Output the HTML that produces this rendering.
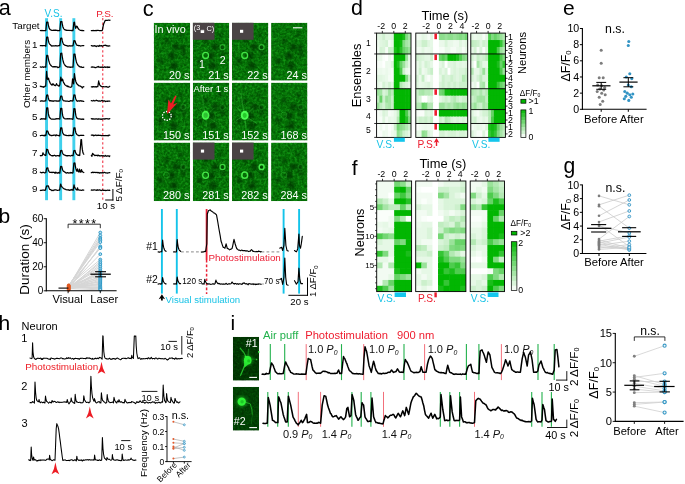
<!DOCTYPE html>
<html><head><meta charset="utf-8"><title>Figure</title>
<style>html,body{margin:0;padding:0;background:#fff;overflow:hidden}svg{display:block;will-change:transform;transform:translateZ(0)}text{font-family:"Liberation Sans", sans-serif;}</style>
</head><body>
<svg width="685" height="484" viewBox="0 0 685 484">
<rect width="685" height="484" fill="#fff"/>
<text x="-1.20" y="15.30" font-size="21.6" fill="#000" text-anchor="start">a</text>
<rect x="45.10" y="18.20" width="2.90" height="182.00" fill="#3fd0ec"/>
<rect x="59.20" y="18.20" width="2.90" height="182.00" fill="#3fd0ec"/>
<rect x="72.40" y="18.20" width="2.90" height="182.00" fill="#3fd0ec"/>
<text x="44.60" y="17.00" font-size="10.0" fill="#19c3e6" text-anchor="start">V.S.</text>
<text x="96.20" y="17.00" font-size="9.9" fill="#ec1c2e" text-anchor="start">P.S.</text>
<line x1="102.70" y1="18.00" x2="102.70" y2="200.00" stroke="#f3606e" stroke-width="1.4" stroke-dasharray="2.3 2.3"/>
<text x="39.60" y="29.00" font-size="9.8" fill="#000" text-anchor="end">Target</text>
<text x="27.80" y="74.00" font-size="9.8" fill="#000" text-anchor="middle" transform="rotate(-90 27.80 74.00)" dominant-baseline="middle">Other members</text>
<path d="M40.30 30.51 L40.80 30.66 L41.30 30.47 L41.80 30.60 L42.30 30.52 L42.80 30.48 L43.30 30.72 L43.80 30.63 L44.30 30.56 L44.80 30.62 L45.30 30.69 L45.80 30.59 L46.30 25.94 L46.70 22.18 L46.80 22.17 L47.30 22.16 L47.80 22.12 L47.90 22.09 L48.30 24.80 L48.80 27.05 L49.30 28.41 L49.80 29.22 L50.30 29.71 L50.80 29.86 L51.30 30.12 L51.80 30.31 L52.30 30.48 L52.80 30.38 L53.30 30.38 L53.80 30.20 L54.30 30.29 L54.80 30.13 L55.30 30.14 L55.80 30.45 L56.30 30.21 L56.80 30.45 L57.30 30.52 L57.80 30.47 L58.30 30.54 L58.80 30.58 L59.30 30.67 L59.80 30.56 L60.30 25.54 L60.70 21.56 L60.80 21.53 L61.30 21.56 L61.80 21.54 L61.90 21.62 L62.30 24.24 L62.80 26.48 L63.30 27.92 L63.80 28.77 L64.30 29.51 L64.80 29.60 L65.30 29.93 L65.80 30.10 L66.30 30.46 L66.80 30.22 L67.30 30.48 L67.80 30.39 L68.30 30.42 L68.80 30.38 L69.30 30.51 L69.80 30.37 L70.30 30.42 L70.80 30.50 L71.30 30.72 L71.80 30.32 L72.30 30.59 L72.80 30.66 L73.00 30.52 L73.30 27.75 L73.80 23.11 L73.90 22.27 L74.30 22.25 L74.50 22.21 L74.80 24.55 L75.30 27.08 L75.70 28.30 L75.80 28.07 L76.30 26.90 L76.50 26.15 L76.80 26.26 L77.30 26.62 L77.80 27.91 L78.30 28.79 L78.80 29.34 L79.30 29.69 L79.80 30.00 L80.30 30.28 L80.80 30.27 L81.30 30.30 L81.80 30.60 L82.30 30.60 L82.80 30.42 L83.30 30.73 L83.80 30.70" fill="none" stroke="#000" stroke-width="1.25" stroke-linejoin="round" stroke-linecap="round"/>
<path d="M91.30 30.50 L91.91 30.50 L92.52 30.55 L93.13 30.45 L93.74 30.54 L94.36 30.59 L94.97 30.54 L95.58 30.66 L96.19 30.41 L96.80 30.51 L97.41 30.43 L98.02 30.42 L98.63 30.48 L99.24 30.52 L99.86 30.54 L100.47 30.55 L101.08 30.72 L101.69 30.59 L102.30 30.50 L102.95 27.09 L103.60 24.00 L104.40 22.22 L105.20 20.40 L105.89 20.31 L106.57 20.29 L107.26 20.44 L107.94 20.26 L108.63 20.06 L109.31 20.26 L110.00 20.20" fill="none" stroke="#000" stroke-width="1.25" stroke-linejoin="round" stroke-linecap="round"/>
<text x="37.40" y="47.90" font-size="9.8" fill="#000" text-anchor="end">1</text>
<path d="M40.30 45.63 L40.80 45.63 L41.30 45.61 L41.80 45.65 L42.30 45.85 L42.80 45.52 L43.30 45.60 L43.80 45.61 L44.30 45.55 L44.80 45.65 L45.30 45.73 L45.80 46.21 L46.30 41.07 L46.70 37.15 L46.80 37.19 L47.30 37.07 L47.80 37.04 L48.30 40.29 L48.80 42.26 L49.30 43.49 L49.80 44.30 L50.30 44.55 L50.80 45.26 L51.30 45.68 L51.80 46.17 L52.30 45.90 L52.80 45.79 L53.30 45.75 L53.80 45.86 L54.30 45.83 L54.80 45.95 L55.30 45.82 L55.80 45.55 L56.30 45.96 L56.80 45.79 L57.30 46.00 L57.80 45.84 L58.30 45.85 L58.80 45.52 L59.30 45.49 L59.80 45.71 L60.30 41.60 L60.70 38.20 L60.80 38.21 L61.30 38.07 L61.80 38.14 L62.30 40.90 L62.80 42.62 L63.30 43.82 L63.80 44.52 L64.30 44.80 L64.80 45.12 L65.30 45.32 L65.80 45.47 L66.30 45.62 L66.80 45.61 L67.30 45.86 L67.80 46.11 L68.30 46.13 L68.80 45.90 L69.30 45.73 L69.80 45.83 L70.30 45.78 L70.80 46.04 L71.30 45.96 L71.80 45.96 L72.30 45.78 L72.80 45.82 L73.00 45.61 L73.30 43.99 L73.80 41.30 L73.90 40.69 L74.30 40.70 L74.80 40.81 L75.00 40.92 L75.30 42.06 L75.80 43.38 L76.30 44.32 L76.80 45.07 L77.30 45.40 L77.80 45.36 L78.30 45.44 L78.80 45.77 L79.30 45.57 L79.80 45.68 L80.30 45.95 L80.80 46.05 L81.30 45.81 L81.80 45.75 L82.30 45.73 L82.80 45.57 L83.30 45.70 L83.80 45.59" fill="none" stroke="#000" stroke-width="1.25" stroke-linejoin="round" stroke-linecap="round"/>
<path d="M91.30 45.62 L91.80 45.67 L92.30 46.05 L92.80 45.98 L93.30 45.93 L93.80 46.03 L94.30 45.66 L94.80 45.92 L95.30 46.11 L95.80 45.94 L96.30 46.56 L96.80 46.15 L97.30 45.98 L97.80 45.97 L98.30 46.11 L98.80 46.31 L99.30 45.66 L99.80 45.44 L100.30 45.94 L100.80 45.81 L101.30 45.73 L101.80 45.74 L102.30 46.17 L102.80 46.04 L103.30 45.75 L103.80 45.44 L104.30 45.32 L104.80 45.43 L105.30 45.31 L105.80 45.20 L106.30 45.70 L106.80 45.91 L107.30 45.71 L107.80 46.14 L108.30 46.09 L108.80 45.83 L109.30 45.96 L109.80 45.96" fill="none" stroke="#000" stroke-width="1.25" stroke-linejoin="round" stroke-linecap="round"/>
<text x="37.40" y="67.70" font-size="9.8" fill="#000" text-anchor="end">2</text>
<path d="M40.30 66.88 L40.80 67.06 L41.30 67.26 L41.80 67.09 L42.30 66.85 L42.80 66.97 L43.30 67.12 L43.80 67.31 L44.30 66.98 L44.80 66.81 L45.30 67.08 L45.80 67.18 L46.30 60.67 L46.70 55.43 L46.80 55.36 L47.30 55.31 L47.80 55.49 L48.30 58.54 L48.80 60.76 L49.30 62.39 L49.80 63.68 L50.30 64.62 L50.80 65.26 L51.30 65.76 L51.80 66.16 L52.30 66.53 L52.80 66.85 L53.30 66.89 L53.80 66.59 L54.30 66.90 L54.80 66.70 L55.30 66.83 L55.80 66.68 L56.30 66.87 L56.80 66.83 L57.30 66.99 L57.80 67.63 L58.30 67.35 L58.80 67.37 L59.30 67.00 L59.80 66.99 L60.30 59.46 L60.70 53.30 L60.80 53.33 L61.30 53.32 L61.80 53.24 L62.30 57.01 L62.80 59.66 L63.30 61.80 L63.80 63.16 L64.30 64.27 L64.80 65.01 L65.30 65.63 L65.80 65.97 L66.30 66.45 L66.80 66.56 L67.30 66.92 L67.80 67.02 L68.30 67.01 L68.80 66.86 L69.30 67.08 L69.80 67.14 L70.30 67.40 L70.80 67.16 L71.30 67.22 L71.80 67.24 L72.30 67.22 L72.80 67.19 L73.00 67.17 L73.30 62.73 L73.80 55.45 L73.90 54.02 L74.30 54.10 L74.80 54.21 L75.00 54.22 L75.30 56.46 L75.80 59.34 L76.30 61.44 L76.80 62.95 L77.30 64.10 L77.80 65.01 L78.30 65.51 L78.80 65.87 L79.30 66.54 L79.80 66.66 L80.30 66.91 L80.80 67.05 L81.30 66.79 L81.80 67.32 L82.30 67.49 L82.80 67.29 L83.30 67.31 L83.80 67.21" fill="none" stroke="#000" stroke-width="1.25" stroke-linejoin="round" stroke-linecap="round"/>
<path d="M91.30 67.21 L91.80 67.16 L92.30 66.87 L92.80 67.19 L93.30 67.22 L93.80 67.24 L94.30 67.21 L94.80 67.52 L95.30 67.53 L95.80 67.60 L96.30 67.29 L96.80 67.09 L97.30 66.86 L97.80 66.93 L98.30 66.39 L98.80 67.13 L99.30 67.15 L99.80 67.15 L100.30 67.33 L100.80 67.13 L101.30 67.18 L101.80 67.33 L102.30 66.85 L102.80 67.39 L103.30 67.28 L103.80 67.34 L104.30 66.98 L104.80 66.90 L105.30 67.40 L105.80 67.13 L106.30 67.02 L106.80 67.18 L107.30 67.48 L107.80 66.72 L108.30 67.26 L108.80 67.25 L109.30 67.39 L109.80 67.01" fill="none" stroke="#000" stroke-width="1.25" stroke-linejoin="round" stroke-linecap="round"/>
<text x="37.40" y="88.40" font-size="9.8" fill="#000" text-anchor="end">3</text>
<path d="M40.30 86.19 L40.80 86.53 L41.30 86.52 L41.80 86.44 L42.30 86.91 L42.80 86.83 L43.30 86.67 L43.80 87.31 L44.30 86.83 L44.80 86.33 L45.30 86.03 L45.70 86.18 L45.80 84.97 L46.30 76.48 L46.60 71.42 L46.80 73.78 L47.30 78.08 L47.50 79.25 L47.80 79.39 L48.30 78.78 L48.50 78.17 L48.80 79.47 L49.30 81.02 L49.80 82.16 L50.30 83.36 L50.80 84.03 L51.30 84.39 L51.80 84.78 L52.00 85.25 L52.30 84.65 L52.80 83.96 L53.00 83.66 L53.30 84.14 L53.80 84.79 L54.30 85.12 L54.80 85.41 L55.30 85.64 L55.50 85.67 L55.80 85.28 L56.30 84.37 L56.50 83.67 L56.80 84.37 L57.30 84.95 L57.80 85.41 L58.30 85.66 L58.80 86.07 L59.30 86.13 L59.60 85.37 L59.80 84.86 L60.30 81.03 L60.80 77.14 L61.30 79.59 L61.70 80.91 L61.80 80.55 L62.30 79.55 L62.50 79.07 L62.80 80.05 L63.30 81.74 L63.80 82.92 L64.30 83.61 L64.80 84.61 L65.30 85.08 L65.80 85.26 L66.30 85.68 L66.80 86.00 L67.30 86.49 L67.80 85.97 L68.30 86.59 L68.80 86.90 L69.30 86.99 L69.80 87.02 L70.30 87.30 L70.80 87.24 L71.30 87.01 L71.80 86.55 L72.30 81.80 L72.60 78.88 L72.80 80.27 L73.30 82.81 L73.60 83.90 L73.80 81.15 L74.30 75.17 L74.40 73.57 L74.80 76.52 L75.30 79.32 L75.80 81.45 L76.30 82.63 L76.80 83.69 L77.30 84.40 L77.80 84.65 L78.30 85.34 L78.80 85.68 L79.30 85.97 L79.80 85.82 L80.30 86.12 L80.80 86.34 L81.30 86.91 L81.80 86.86 L82.30 87.99 L82.80 87.18 L83.30 86.83 L83.80 86.74" fill="none" stroke="#000" stroke-width="1.25" stroke-linejoin="round" stroke-linecap="round"/>
<path d="M91.30 86.83 L91.80 86.84 L92.30 86.61 L92.80 87.10 L93.30 86.55 L93.80 86.63 L94.30 86.88 L94.80 86.94 L95.30 86.97 L95.80 86.61 L96.30 87.08 L96.80 86.74 L97.30 86.71 L97.80 86.71 L98.30 83.48 L98.70 80.86 L98.80 81.63 L99.30 83.79 L99.80 85.12 L100.30 85.53 L100.80 86.18 L101.30 86.36 L101.80 86.60 L102.30 86.69 L102.80 86.79 L103.30 86.73 L103.80 86.74 L104.30 86.75 L104.80 86.78 L105.30 86.76 L105.80 86.65 L106.30 86.78 L106.80 86.55 L107.30 87.10 L107.80 87.10 L108.30 87.25 L108.80 86.95 L109.30 86.54 L109.80 86.29" fill="none" stroke="#000" stroke-width="1.25" stroke-linejoin="round" stroke-linecap="round"/>
<text x="37.40" y="102.40" font-size="9.8" fill="#000" text-anchor="end">4</text>
<path d="M40.30 100.98 L40.80 101.27 L41.30 100.99 L41.80 100.68 L42.30 100.89 L42.80 101.06 L43.30 101.11 L43.80 101.16 L44.30 101.07 L44.80 100.94 L45.30 100.85 L45.80 100.90 L46.30 97.63 L46.70 95.05 L46.80 95.08 L47.30 94.96 L47.80 95.04 L48.30 97.94 L48.80 99.52 L49.30 100.60 L49.80 100.91 L50.30 100.65 L50.80 100.96 L51.30 100.71 L51.80 101.16 L52.30 100.98 L52.80 100.97 L53.30 101.34 L53.80 100.87 L54.30 100.96 L54.80 100.80 L55.30 100.83 L55.80 100.79 L56.30 101.04 L56.80 100.98 L57.30 101.07 L57.80 101.17 L58.30 100.80 L58.80 101.17 L59.30 101.06 L59.80 100.75 L60.30 98.13 L60.70 96.03 L60.80 96.09 L61.30 96.01 L61.80 96.02 L62.30 98.47 L62.80 99.78 L63.30 100.45 L63.80 100.91 L64.30 100.81 L64.80 100.79 L65.30 101.04 L65.80 101.17 L66.30 101.10 L66.80 101.18 L67.30 101.15 L67.80 101.24 L68.30 101.35 L68.80 101.29 L69.30 101.32 L69.80 101.11 L70.30 100.97 L70.80 100.58 L71.30 100.88 L71.80 100.97 L72.30 101.10 L72.80 100.73 L73.00 100.80 L73.30 98.93 L73.80 95.51 L73.90 94.99 L74.30 95.10 L74.80 94.96 L75.00 95.02 L75.30 97.12 L75.80 98.93 L76.30 100.02 L76.80 100.86 L77.30 101.29 L77.80 100.91 L78.30 100.78 L78.80 100.95 L79.30 101.22 L79.80 100.90 L80.30 100.83 L80.80 100.73 L81.30 101.09 L81.80 100.96 L82.30 101.11 L82.80 101.19 L83.30 101.33 L83.80 101.26" fill="none" stroke="#000" stroke-width="1.25" stroke-linejoin="round" stroke-linecap="round"/>
<path d="M91.30 100.72 L91.80 100.73 L92.30 100.94 L92.80 100.81 L93.30 100.64 L93.80 100.44 L94.30 100.84 L94.80 100.84 L95.30 100.74 L95.80 100.62 L96.30 100.24 L96.80 100.61 L97.30 100.57 L97.80 100.74 L98.30 101.16 L98.80 100.97 L99.30 100.93 L99.80 101.14 L100.30 101.00 L100.80 101.00 L101.30 100.72 L101.80 100.64 L102.30 100.44 L102.80 100.91 L103.30 101.21 L103.80 100.98 L104.30 100.94 L104.80 100.87 L105.30 101.51 L105.80 101.47 L106.30 101.20 L106.80 101.25 L107.30 101.42 L107.80 100.99 L108.30 101.13 L108.80 101.20 L109.30 101.11 L109.80 101.23" fill="none" stroke="#000" stroke-width="1.25" stroke-linejoin="round" stroke-linecap="round"/>
<text x="37.40" y="120.00" font-size="9.8" fill="#000" text-anchor="end">5</text>
<path d="M40.30 119.22 L40.80 119.28 L41.30 118.90 L41.80 118.60 L42.30 118.78 L42.80 119.03 L43.30 118.99 L43.80 118.73 L44.30 118.78 L44.80 119.15 L45.30 118.82 L45.80 119.10 L46.30 112.84 L46.70 107.86 L46.80 107.89 L47.30 107.80 L47.80 107.79 L48.30 113.13 L48.80 115.83 L49.30 117.27 L49.80 117.81 L50.30 118.29 L50.80 118.76 L51.30 119.10 L51.80 119.16 L52.30 119.19 L52.80 119.20 L53.30 119.16 L53.80 119.26 L54.30 119.10 L54.80 119.25 L55.30 119.11 L55.80 118.77 L56.30 118.66 L56.80 118.79 L57.30 118.82 L57.80 118.69 L58.30 118.71 L58.80 118.89 L59.30 119.02 L59.80 119.16 L60.30 113.03 L60.70 108.31 L60.80 108.38 L61.30 108.37 L61.80 108.46 L62.30 113.32 L62.80 115.96 L63.30 117.38 L63.80 118.08 L64.30 118.50 L64.80 118.78 L65.30 118.87 L65.80 118.84 L66.30 118.84 L66.80 118.91 L67.30 118.68 L67.80 118.87 L68.30 118.74 L68.80 118.83 L69.30 118.72 L69.80 118.88 L70.30 118.87 L70.80 118.89 L71.30 118.82 L71.80 118.93 L72.30 119.25 L72.80 118.80 L73.00 118.99 L73.30 115.58 L73.80 109.82 L73.90 108.60 L74.30 108.76 L74.80 108.74 L75.00 108.79 L75.30 111.94 L75.80 115.17 L76.30 117.03 L76.80 117.99 L77.30 118.47 L77.80 118.67 L78.30 118.94 L78.80 118.82 L79.30 118.76 L79.80 118.87 L80.30 119.11 L80.80 119.21 L81.30 119.14 L81.80 119.31 L82.30 119.13 L82.80 118.98 L83.30 119.40 L83.80 119.11" fill="none" stroke="#000" stroke-width="1.25" stroke-linejoin="round" stroke-linecap="round"/>
<path d="M91.30 118.71 L91.80 118.80 L92.30 119.16 L92.80 118.69 L93.30 119.00 L93.80 118.86 L94.30 119.15 L94.80 119.00 L95.30 118.97 L95.80 119.08 L96.30 118.91 L96.80 118.95 L97.30 118.93 L97.80 119.26 L98.30 119.19 L98.80 118.73 L99.30 118.93 L99.80 119.01 L100.30 118.99 L100.80 119.28 L101.30 119.35 L101.80 118.84 L102.30 119.19 L102.80 118.98 L103.30 118.87 L103.80 118.80 L104.30 118.84 L104.80 119.06 L105.30 118.74 L105.80 118.80 L106.30 118.70 L106.80 118.75 L107.30 118.73 L107.80 118.94 L108.30 119.09 L108.80 118.78 L109.30 118.89 L109.80 118.54" fill="none" stroke="#000" stroke-width="1.25" stroke-linejoin="round" stroke-linecap="round"/>
<text x="37.40" y="136.50" font-size="9.8" fill="#000" text-anchor="end">6</text>
<path d="M40.30 135.53 L40.80 135.51 L41.30 135.49 L41.80 135.39 L42.30 135.48 L42.80 135.49 L43.30 135.69 L43.80 135.41 L44.30 135.92 L44.80 135.13 L45.30 135.32 L45.80 135.58 L46.30 133.00 L46.70 130.94 L46.80 130.97 L47.30 131.04 L47.80 131.11 L48.30 132.86 L48.80 134.00 L49.30 134.51 L49.80 135.13 L50.30 135.18 L50.80 135.34 L51.30 135.61 L51.80 135.48 L52.30 135.52 L52.80 135.35 L53.30 135.36 L53.80 135.05 L54.30 135.10 L54.80 135.19 L55.30 135.20 L55.80 135.73 L56.30 135.17 L56.80 134.90 L57.30 135.23 L57.80 135.46 L58.30 135.49 L58.80 135.70 L59.30 135.97 L59.80 135.63 L60.30 131.20 L60.70 127.84 L60.80 127.95 L61.30 127.95 L61.80 127.90 L62.30 131.16 L62.80 133.02 L63.30 133.94 L63.80 134.59 L64.30 134.81 L64.80 135.06 L65.30 135.15 L65.80 135.31 L66.30 135.56 L66.80 135.47 L67.30 135.50 L67.80 135.65 L68.30 135.65 L68.80 135.43 L69.30 135.60 L69.80 135.46 L70.30 135.41 L70.80 135.48 L71.30 135.76 L71.80 135.45 L72.30 135.39 L72.80 135.46 L73.00 135.30 L73.30 132.93 L73.80 128.82 L73.90 127.80 L74.30 127.84 L74.80 127.81 L75.00 128.00 L75.30 130.15 L75.80 132.46 L76.30 133.74 L76.80 134.40 L77.30 134.82 L77.80 135.17 L78.30 135.30 L78.80 135.71 L79.30 135.73 L79.80 135.43 L80.30 135.38 L80.80 135.48 L81.30 135.25 L81.80 135.33 L82.30 135.28 L82.80 135.41 L83.30 135.47 L83.80 135.35" fill="none" stroke="#000" stroke-width="1.25" stroke-linejoin="round" stroke-linecap="round"/>
<path d="M91.30 135.15 L91.80 135.21 L92.30 135.35 L92.80 134.98 L93.30 135.11 L93.80 135.86 L94.30 135.35 L94.80 135.28 L95.30 135.40 L95.80 134.95 L96.30 135.19 L96.80 135.55 L97.30 135.47 L97.80 135.20 L98.30 135.35 L98.80 135.22 L99.30 135.39 L99.80 135.44 L100.30 135.43 L100.80 135.26 L101.30 135.70 L101.80 135.65 L102.30 135.73 L102.80 135.67 L103.30 135.52 L103.80 135.63 L104.30 135.61 L104.80 135.63 L105.30 135.62 L105.80 135.48 L106.30 135.54 L106.80 135.59 L107.30 135.78 L107.80 135.49 L108.30 135.75 L108.80 135.10 L109.30 135.08 L109.80 135.30" fill="none" stroke="#000" stroke-width="1.25" stroke-linejoin="round" stroke-linecap="round"/>
<text x="37.40" y="155.90" font-size="9.8" fill="#000" text-anchor="end">7</text>
<path d="M40.30 155.57 L40.80 155.79 L41.30 155.58 L41.80 155.74 L42.20 155.50 L42.30 155.36 L42.80 153.45 L43.00 152.80 L43.30 153.48 L43.80 154.22 L44.30 154.69 L44.80 155.13 L45.30 155.30 L45.80 155.28 L46.30 152.08 L46.70 149.20 L46.80 149.29 L47.30 149.53 L47.80 149.54 L48.30 151.60 L48.80 153.13 L49.30 154.04 L49.80 154.58 L50.30 154.85 L50.80 155.20 L51.30 155.53 L51.80 155.56 L52.30 155.92 L52.80 155.68 L53.30 155.83 L53.80 155.49 L54.30 155.24 L54.80 155.45 L55.30 155.63 L55.80 156.00 L56.30 155.79 L56.80 155.80 L57.30 155.54 L57.80 155.63 L58.30 155.77 L58.80 155.67 L59.30 155.87 L59.80 156.04 L60.30 152.92 L60.70 150.55 L60.80 150.52 L61.30 150.55 L61.80 150.46 L62.30 152.38 L62.80 153.51 L63.30 154.30 L63.80 154.62 L64.30 154.86 L64.80 155.06 L65.30 155.42 L65.80 155.54 L66.30 155.62 L66.80 155.83 L67.30 155.60 L67.80 155.81 L68.30 155.65 L68.80 155.52 L69.30 155.52 L69.80 155.80 L70.30 156.05 L70.80 155.78 L71.30 155.56 L71.80 155.35 L72.30 155.54 L72.80 155.70 L73.00 155.78 L73.30 154.00 L73.80 151.20 L73.90 150.56 L74.30 150.56 L74.80 150.51 L75.00 150.44 L75.30 151.51 L75.80 153.02 L76.30 153.93 L76.80 154.53 L77.30 154.79 L77.80 155.15 L78.30 155.38 L78.80 155.10 L79.30 155.31 L79.70 155.56 L79.80 154.40 L80.30 148.26 L80.80 142.14 L81.00 139.56 L81.30 139.65 L81.50 139.65 L81.80 144.21 L82.30 149.15 L82.80 151.95 L83.30 153.46 L83.80 154.28" fill="none" stroke="#000" stroke-width="1.25" stroke-linejoin="round" stroke-linecap="round"/>
<path d="M91.30 155.40 L91.80 156.10 L91.90 156.38 L92.30 154.41 L92.60 153.39 L92.80 153.49 L93.30 154.30 L93.80 154.71 L94.30 155.03 L94.80 155.58 L95.30 155.28 L95.80 155.54 L96.30 155.29 L96.80 155.39 L97.30 155.81 L97.80 155.19 L98.30 155.21 L98.80 155.77 L99.30 155.90 L99.80 155.66 L100.30 155.86 L100.80 155.96 L101.30 155.85 L101.80 155.51 L102.30 155.74 L102.80 156.04 L103.30 155.66 L103.80 156.09 L104.30 156.04 L104.80 156.13 L105.30 155.43 L105.80 155.99 L106.30 156.14 L106.80 156.26 L107.30 155.80 L107.80 155.85 L108.30 155.84 L108.80 156.02 L109.30 156.62 L109.80 155.80" fill="none" stroke="#000" stroke-width="1.25" stroke-linejoin="round" stroke-linecap="round"/>
<text x="37.40" y="173.70" font-size="9.8" fill="#000" text-anchor="end">8</text>
<path d="M40.30 172.25 L40.80 172.41 L41.30 172.76 L41.80 172.68 L42.30 172.73 L42.80 172.33 L43.30 172.45 L43.80 172.47 L44.30 172.83 L44.80 172.81 L45.30 172.75 L45.80 172.53 L46.30 170.08 L46.70 168.14 L46.80 168.31 L47.30 168.06 L47.80 167.83 L48.30 170.00 L48.80 171.23 L49.30 171.86 L49.80 172.39 L50.30 172.38 L50.80 172.41 L51.30 172.23 L51.80 172.61 L52.30 172.60 L52.80 172.14 L53.30 172.29 L53.80 172.35 L54.30 172.36 L54.80 173.05 L55.30 173.16 L55.80 172.11 L56.30 172.54 L56.80 172.91 L57.30 173.16 L57.80 173.15 L58.30 172.41 L58.80 172.79 L59.30 172.77 L59.80 173.13 L60.30 169.40 L60.70 166.42 L60.80 166.66 L61.30 166.46 L61.80 166.60 L62.30 169.04 L62.80 170.41 L63.30 171.08 L63.80 171.34 L64.30 171.70 L64.80 172.11 L65.30 172.32 L65.80 172.93 L66.30 172.92 L66.80 173.12 L67.30 172.61 L67.80 172.54 L68.30 172.87 L68.80 173.05 L69.30 173.06 L69.80 172.77 L70.30 172.47 L70.80 173.06 L71.30 172.70 L71.80 172.61 L72.30 173.07 L72.80 172.91 L73.00 172.64 L73.30 169.55 L73.80 164.10 L73.90 163.15 L74.30 163.06 L74.80 162.95 L75.00 163.24 L75.30 165.77 L75.80 168.48 L76.30 170.12 L76.80 170.99 L77.00 171.27 L77.30 169.74 L77.50 168.90 L77.80 170.18 L78.30 171.27 L78.80 171.80 L79.00 172.12 L79.30 170.34 L79.50 169.21 L79.80 170.34 L80.30 171.47 L80.80 172.27 L81.00 172.03 L81.30 170.81 L81.50 169.62 L81.80 170.55 L82.30 171.45 L82.80 172.04 L83.30 172.27 L83.80 172.52" fill="none" stroke="#000" stroke-width="1.25" stroke-linejoin="round" stroke-linecap="round"/>
<path d="M91.30 172.66 L91.80 172.59 L92.30 172.33 L92.80 172.23 L93.30 172.60 L93.80 172.42 L94.30 172.42 L94.80 172.40 L95.30 172.45 L95.80 172.56 L96.30 172.51 L96.80 172.33 L97.30 172.47 L97.80 172.80 L98.30 172.73 L98.80 172.48 L99.30 173.16 L99.80 172.78 L100.30 172.79 L100.80 172.66 L101.30 172.84 L101.80 172.85 L102.30 172.56 L102.80 172.89 L103.30 172.93 L103.80 172.56 L104.30 172.45 L104.80 172.35 L105.30 172.79 L105.80 172.80 L106.30 172.80 L106.80 172.97 L107.30 173.16 L107.80 172.95 L108.30 172.89 L108.80 172.75 L109.30 172.68 L109.80 172.67" fill="none" stroke="#000" stroke-width="1.25" stroke-linejoin="round" stroke-linecap="round"/>
<text x="37.40" y="191.50" font-size="9.8" fill="#000" text-anchor="end">9</text>
<path d="M40.30 190.31 L40.80 190.50 L41.30 190.29 L41.80 190.35 L42.30 190.06 L42.80 190.15 L43.30 189.98 L43.80 190.11 L44.30 190.14 L44.80 190.31 L45.30 190.20 L45.40 190.05 L45.80 188.71 L46.30 186.89 L46.60 186.04 L46.80 185.89 L47.30 185.95 L47.80 186.03 L48.30 186.00 L48.40 185.91 L48.80 187.37 L49.30 188.59 L49.80 189.31 L50.30 189.51 L50.80 189.82 L51.30 190.12 L51.80 190.62 L52.30 190.42 L52.80 190.35 L53.30 190.56 L53.80 190.14 L54.30 190.11 L54.80 189.82 L55.30 189.95 L55.80 189.95 L56.30 189.99 L56.80 190.25 L57.30 190.36 L57.80 190.37 L58.30 190.24 L58.80 190.12 L59.30 189.93 L59.60 190.13 L59.80 189.03 L60.30 185.98 L60.60 184.12 L60.80 184.57 L61.30 185.71 L61.80 186.65 L62.30 187.36 L62.80 187.78 L63.30 188.19 L63.80 188.52 L64.30 188.98 L64.80 189.23 L65.30 189.24 L65.80 189.54 L66.30 189.71 L66.80 189.82 L67.30 189.93 L67.80 189.82 L68.30 189.73 L68.80 190.00 L69.30 190.42 L69.80 190.04 L70.30 189.85 L70.80 190.10 L71.30 189.88 L71.80 189.50 L72.30 189.75 L72.80 190.14 L73.10 190.36 L73.30 189.11 L73.80 186.13 L74.00 184.99 L74.30 186.19 L74.80 187.60 L75.30 188.59 L75.80 189.09 L76.30 189.60 L76.80 189.91 L77.00 190.05 L77.30 188.69 L77.50 187.77 L77.80 188.67 L78.30 189.89 L78.80 189.97 L79.30 190.05 L79.80 190.02 L80.30 190.06 L80.80 190.28 L81.30 190.49 L81.80 190.23 L82.30 190.06 L82.80 189.90 L83.30 190.03 L83.80 190.03" fill="none" stroke="#000" stroke-width="1.25" stroke-linejoin="round" stroke-linecap="round"/>
<path d="M91.30 190.05 L91.80 189.95 L92.30 190.06 L92.80 190.05 L93.30 190.06 L93.80 189.93 L94.30 189.96 L94.80 189.99 L95.30 190.00 L95.80 190.24 L96.30 190.05 L96.80 190.44 L97.30 189.76 L97.80 190.08 L98.30 190.00 L98.80 190.02 L99.30 189.91 L99.80 189.88 L100.30 190.21 L100.80 190.41 L101.30 190.52 L101.80 190.38 L102.30 189.96 L102.80 190.00 L103.30 190.40 L103.80 190.22 L104.30 190.46 L104.80 190.37 L105.30 190.28 L105.80 190.61 L106.30 190.48 L106.80 190.28 L107.30 190.26 L107.80 190.05 L108.30 190.22 L108.80 190.43 L109.30 190.16 L109.80 190.27" fill="none" stroke="#000" stroke-width="1.25" stroke-linejoin="round" stroke-linecap="round"/>
<line x1="112.90" y1="189.00" x2="112.90" y2="200.50" stroke="#000" stroke-width="1.0"/>
<line x1="105.20" y1="200.00" x2="113.40" y2="200.00" stroke="#000" stroke-width="1.0"/>
<text x="96.80" y="208.60" font-size="9.7" fill="#000" text-anchor="start">10 s</text>
<text x="122.30" y="201.60" font-size="9.9" fill="#000" text-anchor="start" transform="rotate(-90 122.30 201.60)">5 ΔF/F<tspan font-size="62%" dy="1.2">0</tspan></text>
<text x="-1.50" y="222.90" font-size="21" fill="#000" text-anchor="start">b</text>
<line x1="68.60" y1="286.89" x2="100.30" y2="232.52" stroke="#d6d6d6" stroke-width="1.0"/>
<line x1="68.60" y1="286.42" x2="100.30" y2="235.52" stroke="#d6d6d6" stroke-width="1.0"/>
<line x1="68.60" y1="286.20" x2="100.30" y2="237.93" stroke="#d6d6d6" stroke-width="1.0"/>
<line x1="68.60" y1="285.62" x2="100.30" y2="239.13" stroke="#d6d6d6" stroke-width="1.0"/>
<line x1="68.60" y1="286.42" x2="100.30" y2="240.33" stroke="#d6d6d6" stroke-width="1.0"/>
<line x1="68.60" y1="285.70" x2="100.30" y2="242.13" stroke="#d6d6d6" stroke-width="1.0"/>
<line x1="68.60" y1="289.24" x2="100.30" y2="246.34" stroke="#d6d6d6" stroke-width="1.0"/>
<line x1="68.60" y1="287.51" x2="100.30" y2="247.54" stroke="#d6d6d6" stroke-width="1.0"/>
<line x1="68.60" y1="285.62" x2="100.30" y2="248.14" stroke="#d6d6d6" stroke-width="1.0"/>
<line x1="68.60" y1="286.78" x2="100.30" y2="254.15" stroke="#d6d6d6" stroke-width="1.0"/>
<line x1="68.60" y1="285.79" x2="100.30" y2="259.56" stroke="#d6d6d6" stroke-width="1.0"/>
<line x1="68.60" y1="288.91" x2="100.30" y2="261.36" stroke="#d6d6d6" stroke-width="1.0"/>
<line x1="68.60" y1="287.50" x2="100.30" y2="263.16" stroke="#d6d6d6" stroke-width="1.0"/>
<line x1="68.60" y1="288.38" x2="100.30" y2="264.96" stroke="#d6d6d6" stroke-width="1.0"/>
<line x1="68.60" y1="287.20" x2="100.30" y2="266.77" stroke="#d6d6d6" stroke-width="1.0"/>
<line x1="68.60" y1="287.08" x2="100.30" y2="268.57" stroke="#d6d6d6" stroke-width="1.0"/>
<line x1="68.60" y1="289.31" x2="100.30" y2="270.37" stroke="#d6d6d6" stroke-width="1.0"/>
<line x1="68.60" y1="288.50" x2="100.30" y2="271.57" stroke="#d6d6d6" stroke-width="1.0"/>
<line x1="68.60" y1="288.25" x2="100.30" y2="272.77" stroke="#d6d6d6" stroke-width="1.0"/>
<line x1="68.60" y1="285.72" x2="100.30" y2="273.98" stroke="#d6d6d6" stroke-width="1.0"/>
<line x1="68.60" y1="286.32" x2="100.30" y2="275.18" stroke="#d6d6d6" stroke-width="1.0"/>
<line x1="68.60" y1="288.73" x2="100.30" y2="276.38" stroke="#d6d6d6" stroke-width="1.0"/>
<line x1="68.60" y1="286.20" x2="100.30" y2="277.34" stroke="#d6d6d6" stroke-width="1.0"/>
<line x1="68.60" y1="288.81" x2="100.30" y2="278.30" stroke="#d6d6d6" stroke-width="1.0"/>
<line x1="68.60" y1="286.91" x2="100.30" y2="279.26" stroke="#d6d6d6" stroke-width="1.0"/>
<line x1="68.60" y1="288.86" x2="100.30" y2="280.23" stroke="#d6d6d6" stroke-width="1.0"/>
<line x1="68.60" y1="289.35" x2="100.30" y2="281.19" stroke="#d6d6d6" stroke-width="1.0"/>
<line x1="68.60" y1="285.90" x2="100.30" y2="282.15" stroke="#d6d6d6" stroke-width="1.0"/>
<line x1="68.60" y1="288.53" x2="100.30" y2="283.11" stroke="#d6d6d6" stroke-width="1.0"/>
<line x1="68.60" y1="288.50" x2="100.30" y2="284.07" stroke="#d6d6d6" stroke-width="1.0"/>
<line x1="68.60" y1="285.46" x2="100.30" y2="285.03" stroke="#d6d6d6" stroke-width="1.0"/>
<line x1="68.60" y1="285.90" x2="100.30" y2="285.99" stroke="#d6d6d6" stroke-width="1.0"/>
<line x1="68.60" y1="288.21" x2="100.30" y2="286.83" stroke="#d6d6d6" stroke-width="1.0"/>
<line x1="68.60" y1="285.55" x2="100.30" y2="287.68" stroke="#d6d6d6" stroke-width="1.0"/>
<line x1="68.60" y1="287.22" x2="100.30" y2="288.40" stroke="#d6d6d6" stroke-width="1.0"/>
<line x1="68.60" y1="286.67" x2="100.30" y2="289.12" stroke="#d6d6d6" stroke-width="1.0"/>
<line x1="68.60" y1="288.55" x2="100.30" y2="289.84" stroke="#d6d6d6" stroke-width="1.0"/>
<circle cx="100.30" cy="232.52" r="1.4" fill="#bfe2f2" stroke="#2f9ac8" stroke-width="1.0"/>
<circle cx="100.30" cy="235.52" r="1.4" fill="#bfe2f2" stroke="#2f9ac8" stroke-width="1.0"/>
<circle cx="100.30" cy="237.93" r="1.4" fill="#bfe2f2" stroke="#2f9ac8" stroke-width="1.0"/>
<circle cx="100.30" cy="239.13" r="1.4" fill="#bfe2f2" stroke="#2f9ac8" stroke-width="1.0"/>
<circle cx="100.30" cy="240.33" r="1.4" fill="#bfe2f2" stroke="#2f9ac8" stroke-width="1.0"/>
<circle cx="100.30" cy="242.13" r="1.4" fill="#bfe2f2" stroke="#2f9ac8" stroke-width="1.0"/>
<circle cx="100.30" cy="246.34" r="1.4" fill="#bfe2f2" stroke="#2f9ac8" stroke-width="1.0"/>
<circle cx="100.30" cy="247.54" r="1.4" fill="#bfe2f2" stroke="#2f9ac8" stroke-width="1.0"/>
<circle cx="100.30" cy="248.14" r="1.4" fill="#bfe2f2" stroke="#2f9ac8" stroke-width="1.0"/>
<circle cx="100.30" cy="254.15" r="1.4" fill="#bfe2f2" stroke="#2f9ac8" stroke-width="1.0"/>
<circle cx="100.30" cy="259.56" r="1.4" fill="#bfe2f2" stroke="#2f9ac8" stroke-width="1.0"/>
<circle cx="100.30" cy="261.36" r="1.4" fill="#bfe2f2" stroke="#2f9ac8" stroke-width="1.0"/>
<circle cx="100.30" cy="263.16" r="1.4" fill="#bfe2f2" stroke="#2f9ac8" stroke-width="1.0"/>
<circle cx="100.30" cy="264.96" r="1.4" fill="#bfe2f2" stroke="#2f9ac8" stroke-width="1.0"/>
<circle cx="100.30" cy="266.77" r="1.4" fill="#bfe2f2" stroke="#2f9ac8" stroke-width="1.0"/>
<circle cx="100.30" cy="268.57" r="1.4" fill="#bfe2f2" stroke="#2f9ac8" stroke-width="1.0"/>
<circle cx="100.30" cy="270.37" r="1.4" fill="#bfe2f2" stroke="#2f9ac8" stroke-width="1.0"/>
<circle cx="100.30" cy="271.57" r="1.4" fill="#bfe2f2" stroke="#2f9ac8" stroke-width="1.0"/>
<circle cx="100.30" cy="272.77" r="1.4" fill="#bfe2f2" stroke="#2f9ac8" stroke-width="1.0"/>
<circle cx="100.30" cy="273.98" r="1.4" fill="#bfe2f2" stroke="#2f9ac8" stroke-width="1.0"/>
<circle cx="100.30" cy="275.18" r="1.4" fill="#bfe2f2" stroke="#2f9ac8" stroke-width="1.0"/>
<circle cx="100.30" cy="276.38" r="1.4" fill="#bfe2f2" stroke="#2f9ac8" stroke-width="1.0"/>
<circle cx="100.30" cy="277.34" r="1.4" fill="#bfe2f2" stroke="#2f9ac8" stroke-width="1.0"/>
<circle cx="100.30" cy="278.30" r="1.4" fill="#bfe2f2" stroke="#2f9ac8" stroke-width="1.0"/>
<circle cx="100.30" cy="279.26" r="1.4" fill="#bfe2f2" stroke="#2f9ac8" stroke-width="1.0"/>
<circle cx="100.30" cy="280.23" r="1.4" fill="#bfe2f2" stroke="#2f9ac8" stroke-width="1.0"/>
<circle cx="100.30" cy="281.19" r="1.4" fill="#bfe2f2" stroke="#2f9ac8" stroke-width="1.0"/>
<circle cx="100.30" cy="282.15" r="1.4" fill="#bfe2f2" stroke="#2f9ac8" stroke-width="1.0"/>
<circle cx="100.30" cy="283.11" r="1.4" fill="#bfe2f2" stroke="#2f9ac8" stroke-width="1.0"/>
<circle cx="100.30" cy="284.07" r="1.4" fill="#bfe2f2" stroke="#2f9ac8" stroke-width="1.0"/>
<circle cx="100.30" cy="285.03" r="1.4" fill="#bfe2f2" stroke="#2f9ac8" stroke-width="1.0"/>
<circle cx="100.30" cy="285.99" r="1.4" fill="#bfe2f2" stroke="#2f9ac8" stroke-width="1.0"/>
<circle cx="100.30" cy="286.83" r="1.4" fill="#bfe2f2" stroke="#2f9ac8" stroke-width="1.0"/>
<circle cx="100.30" cy="287.68" r="1.4" fill="#bfe2f2" stroke="#2f9ac8" stroke-width="1.0"/>
<circle cx="100.30" cy="288.40" r="1.4" fill="#bfe2f2" stroke="#2f9ac8" stroke-width="1.0"/>
<circle cx="100.30" cy="289.12" r="1.4" fill="#bfe2f2" stroke="#2f9ac8" stroke-width="1.0"/>
<circle cx="100.30" cy="289.84" r="1.4" fill="#bfe2f2" stroke="#2f9ac8" stroke-width="1.0"/>
<circle cx="68.70" cy="290.08" r="1.45" fill="#e0581f" stroke="#e0581f" stroke-width="0.4"/>
<circle cx="68.70" cy="289.75" r="1.45" fill="#e0581f" stroke="#e0581f" stroke-width="0.4"/>
<circle cx="68.70" cy="289.43" r="1.45" fill="#e0581f" stroke="#e0581f" stroke-width="0.4"/>
<circle cx="68.70" cy="289.11" r="1.45" fill="#e0581f" stroke="#e0581f" stroke-width="0.4"/>
<circle cx="68.70" cy="288.78" r="1.45" fill="#e0581f" stroke="#e0581f" stroke-width="0.4"/>
<circle cx="68.70" cy="288.46" r="1.45" fill="#e0581f" stroke="#e0581f" stroke-width="0.4"/>
<circle cx="68.70" cy="288.13" r="1.45" fill="#e0581f" stroke="#e0581f" stroke-width="0.4"/>
<circle cx="68.70" cy="287.81" r="1.45" fill="#e0581f" stroke="#e0581f" stroke-width="0.4"/>
<circle cx="68.70" cy="287.48" r="1.45" fill="#e0581f" stroke="#e0581f" stroke-width="0.4"/>
<circle cx="68.70" cy="287.16" r="1.45" fill="#e0581f" stroke="#e0581f" stroke-width="0.4"/>
<circle cx="68.70" cy="286.83" r="1.45" fill="#e0581f" stroke="#e0581f" stroke-width="0.4"/>
<circle cx="68.70" cy="286.51" r="1.45" fill="#e0581f" stroke="#e0581f" stroke-width="0.4"/>
<circle cx="68.70" cy="286.19" r="1.45" fill="#e0581f" stroke="#e0581f" stroke-width="0.4"/>
<circle cx="68.70" cy="285.86" r="1.45" fill="#e0581f" stroke="#e0581f" stroke-width="0.4"/>
<circle cx="68.70" cy="285.54" r="1.45" fill="#e0581f" stroke="#e0581f" stroke-width="0.4"/>
<circle cx="68.70" cy="285.21" r="1.45" fill="#e0581f" stroke="#e0581f" stroke-width="0.4"/>
<line x1="46.30" y1="218.20" x2="46.30" y2="291.35" stroke="#000" stroke-width="1.1"/>
<line x1="45.80" y1="290.80" x2="116.60" y2="290.80" stroke="#000" stroke-width="1.1"/>
<line x1="43.70" y1="290.80" x2="46.30" y2="290.80" stroke="#000" stroke-width="0.9"/>
<text x="43.30" y="294.30" font-size="10.0" fill="#000" text-anchor="end">0</text>
<line x1="43.70" y1="266.77" x2="46.30" y2="266.77" stroke="#000" stroke-width="0.9"/>
<text x="43.30" y="270.27" font-size="10.0" fill="#000" text-anchor="end">20</text>
<line x1="43.70" y1="242.73" x2="46.30" y2="242.73" stroke="#000" stroke-width="0.9"/>
<text x="43.30" y="246.23" font-size="10.0" fill="#000" text-anchor="end">40</text>
<line x1="43.70" y1="218.70" x2="46.30" y2="218.70" stroke="#000" stroke-width="0.9"/>
<text x="43.30" y="222.20" font-size="10.0" fill="#000" text-anchor="end">60</text>
<line x1="68.10" y1="290.80" x2="68.10" y2="293.20" stroke="#000" stroke-width="0.9"/>
<line x1="100.30" y1="290.80" x2="100.30" y2="293.20" stroke="#000" stroke-width="0.9"/>
<text x="29.40" y="259.40" font-size="13.5" fill="#000" text-anchor="middle" transform="rotate(-90 29.40 259.40)">Duration (s)</text>
<text x="52.40" y="302.80" font-size="11.2" fill="#000" text-anchor="start">Visual</text>
<text x="90.30" y="302.80" font-size="11.2" fill="#000" text-anchor="start">Laser</text>
<path d="M68.10 227.80 L68.10 224.20 L100.30 224.20 L100.30 227.80" fill="none" stroke="#000" stroke-width="0.8" stroke-linejoin="round" stroke-linecap="round"/>
<text x="85.00" y="227.60" font-size="12.5" fill="#000" text-anchor="middle" letter-spacing="1.4">****</text>
<line x1="58.50" y1="288.10" x2="68.40" y2="288.10" stroke="#000" stroke-width="1.1"/>
<line x1="90.40" y1="274.20" x2="110.80" y2="274.20" stroke="#000" stroke-width="1.25"/>
<line x1="95.10" y1="271.70" x2="106.00" y2="271.70" stroke="#000" stroke-width="1.1"/>
<line x1="95.10" y1="276.80" x2="106.00" y2="276.80" stroke="#000" stroke-width="1.1"/>
<line x1="100.30" y1="271.80" x2="100.30" y2="276.70" stroke="#000" stroke-width="0.8"/>
<defs>
<filter id="gn" x="0" y="0" width="100%" height="100%" color-interpolation-filters="sRGB">
<feTurbulence type="fractalNoise" baseFrequency="0.42" numOctaves="2" seed="7" result="n"/>
<feColorMatrix in="n" type="matrix" values="0 0 0 0 0  0 0 0 0 0  0 0 0 0 0  1.2 0 0 0 -0.5" result="a"/>
<feFlood flood-color="#003a00"/><feComposite in2="a" operator="in" result="dark"/>
<feColorMatrix in="n" type="matrix" values="0 0 0 0 0  0 0 0 0 0  0 0 0 0 0  0 1.6 0 0 -0.64" result="b"/>
<feFlood flood-color="#1cae1e"/><feComposite in2="b" operator="in" result="lite"/>
<feMerge result="m"><feMergeNode in="SourceGraphic"/><feMergeNode in="dark"/><feMergeNode in="lite"/></feMerge><feComposite in="m" in2="SourceGraphic" operator="in"/>
</filter>
<filter id="bl" x="-50%" y="-50%" width="200%" height="200%"><feGaussianBlur stdDeviation="0.7"/></filter>
<filter id="bl2" x="-50%" y="-50%" width="200%" height="200%"><feGaussianBlur stdDeviation="1.6"/></filter>
</defs>
<text x="142.70" y="15.50" font-size="21.8" fill="#000" text-anchor="start">c</text>
<g filter="url(#gn)"><rect x="153.8" y="22.8" width="36.3" height="57.8" fill="#046e05"/></g>
<g filter="url(#bl2)" opacity="0.7">
<circle cx="175.80" cy="46.80" r="3.2" fill="#002a00" stroke="none" stroke-width="1"/>
<circle cx="171.80" cy="55.80" r="3.5" fill="#002a00" stroke="none" stroke-width="1"/>
<circle cx="182.80" cy="47.80" r="2.6" fill="#002a00" stroke="none" stroke-width="1"/>
<circle cx="166.80" cy="40.80" r="2.4" fill="#002a00" stroke="none" stroke-width="1"/>
<circle cx="183.80" cy="53.80" r="2.2" fill="#002a00" stroke="none" stroke-width="1"/>
<circle cx="173.80" cy="65.80" r="3.5" fill="#002a00" stroke="none" stroke-width="1"/>
<circle cx="160.80" cy="60.80" r="2.5" fill="#002a00" stroke="none" stroke-width="1"/>
<circle cx="180.80" cy="34.80" r="2.0" fill="#002a00" stroke="none" stroke-width="1"/>
</g>
<g filter="url(#gn)"><rect x="192.9" y="22.8" width="36.3" height="57.8" fill="#046e05"/></g>
<g filter="url(#bl2)" opacity="0.7">
<circle cx="214.90" cy="46.80" r="3.2" fill="#002a00" stroke="none" stroke-width="1"/>
<circle cx="210.90" cy="55.80" r="3.5" fill="#002a00" stroke="none" stroke-width="1"/>
<circle cx="221.90" cy="47.80" r="2.6" fill="#002a00" stroke="none" stroke-width="1"/>
<circle cx="205.90" cy="40.80" r="2.4" fill="#002a00" stroke="none" stroke-width="1"/>
<circle cx="222.90" cy="53.80" r="2.2" fill="#002a00" stroke="none" stroke-width="1"/>
<circle cx="212.90" cy="65.80" r="3.5" fill="#002a00" stroke="none" stroke-width="1"/>
<circle cx="199.90" cy="60.80" r="2.5" fill="#002a00" stroke="none" stroke-width="1"/>
<circle cx="219.90" cy="34.80" r="2.0" fill="#002a00" stroke="none" stroke-width="1"/>
</g>
<g filter="url(#gn)"><rect x="232.0" y="22.8" width="36.3" height="57.8" fill="#046e05"/></g>
<g filter="url(#bl2)" opacity="0.7">
<circle cx="254.00" cy="46.80" r="3.2" fill="#002a00" stroke="none" stroke-width="1"/>
<circle cx="250.00" cy="55.80" r="3.5" fill="#002a00" stroke="none" stroke-width="1"/>
<circle cx="261.00" cy="47.80" r="2.6" fill="#002a00" stroke="none" stroke-width="1"/>
<circle cx="245.00" cy="40.80" r="2.4" fill="#002a00" stroke="none" stroke-width="1"/>
<circle cx="262.00" cy="53.80" r="2.2" fill="#002a00" stroke="none" stroke-width="1"/>
<circle cx="252.00" cy="65.80" r="3.5" fill="#002a00" stroke="none" stroke-width="1"/>
<circle cx="239.00" cy="60.80" r="2.5" fill="#002a00" stroke="none" stroke-width="1"/>
<circle cx="259.00" cy="34.80" r="2.0" fill="#002a00" stroke="none" stroke-width="1"/>
</g>
<g filter="url(#gn)"><rect x="271.1" y="22.8" width="36.3" height="57.8" fill="#046e05"/></g>
<g filter="url(#bl2)" opacity="0.7">
<circle cx="293.10" cy="46.80" r="3.2" fill="#002a00" stroke="none" stroke-width="1"/>
<circle cx="289.10" cy="55.80" r="3.5" fill="#002a00" stroke="none" stroke-width="1"/>
<circle cx="300.10" cy="47.80" r="2.6" fill="#002a00" stroke="none" stroke-width="1"/>
<circle cx="284.10" cy="40.80" r="2.4" fill="#002a00" stroke="none" stroke-width="1"/>
<circle cx="301.10" cy="53.80" r="2.2" fill="#002a00" stroke="none" stroke-width="1"/>
<circle cx="291.10" cy="65.80" r="3.5" fill="#002a00" stroke="none" stroke-width="1"/>
<circle cx="278.10" cy="60.80" r="2.5" fill="#002a00" stroke="none" stroke-width="1"/>
<circle cx="298.10" cy="34.80" r="2.0" fill="#002a00" stroke="none" stroke-width="1"/>
</g>
<g filter="url(#gn)"><rect x="153.8" y="82.7" width="36.3" height="57.8" fill="#046e05"/></g>
<g filter="url(#bl2)" opacity="0.7">
<circle cx="175.80" cy="106.70" r="3.2" fill="#002a00" stroke="none" stroke-width="1"/>
<circle cx="171.80" cy="115.70" r="3.5" fill="#002a00" stroke="none" stroke-width="1"/>
<circle cx="182.80" cy="107.70" r="2.6" fill="#002a00" stroke="none" stroke-width="1"/>
<circle cx="166.80" cy="100.70" r="2.4" fill="#002a00" stroke="none" stroke-width="1"/>
<circle cx="183.80" cy="113.70" r="2.2" fill="#002a00" stroke="none" stroke-width="1"/>
<circle cx="173.80" cy="125.70" r="3.5" fill="#002a00" stroke="none" stroke-width="1"/>
<circle cx="160.80" cy="120.70" r="2.5" fill="#002a00" stroke="none" stroke-width="1"/>
<circle cx="180.80" cy="94.70" r="2.0" fill="#002a00" stroke="none" stroke-width="1"/>
</g>
<g filter="url(#gn)"><rect x="192.9" y="82.7" width="36.3" height="57.8" fill="#046e05"/></g>
<g filter="url(#bl2)" opacity="0.7">
<circle cx="214.90" cy="106.70" r="3.2" fill="#002a00" stroke="none" stroke-width="1"/>
<circle cx="210.90" cy="115.70" r="3.5" fill="#002a00" stroke="none" stroke-width="1"/>
<circle cx="221.90" cy="107.70" r="2.6" fill="#002a00" stroke="none" stroke-width="1"/>
<circle cx="205.90" cy="100.70" r="2.4" fill="#002a00" stroke="none" stroke-width="1"/>
<circle cx="222.90" cy="113.70" r="2.2" fill="#002a00" stroke="none" stroke-width="1"/>
<circle cx="212.90" cy="125.70" r="3.5" fill="#002a00" stroke="none" stroke-width="1"/>
<circle cx="199.90" cy="120.70" r="2.5" fill="#002a00" stroke="none" stroke-width="1"/>
<circle cx="219.90" cy="94.70" r="2.0" fill="#002a00" stroke="none" stroke-width="1"/>
</g>
<g filter="url(#gn)"><rect x="232.0" y="82.7" width="36.3" height="57.8" fill="#046e05"/></g>
<g filter="url(#bl2)" opacity="0.7">
<circle cx="254.00" cy="106.70" r="3.2" fill="#002a00" stroke="none" stroke-width="1"/>
<circle cx="250.00" cy="115.70" r="3.5" fill="#002a00" stroke="none" stroke-width="1"/>
<circle cx="261.00" cy="107.70" r="2.6" fill="#002a00" stroke="none" stroke-width="1"/>
<circle cx="245.00" cy="100.70" r="2.4" fill="#002a00" stroke="none" stroke-width="1"/>
<circle cx="262.00" cy="113.70" r="2.2" fill="#002a00" stroke="none" stroke-width="1"/>
<circle cx="252.00" cy="125.70" r="3.5" fill="#002a00" stroke="none" stroke-width="1"/>
<circle cx="239.00" cy="120.70" r="2.5" fill="#002a00" stroke="none" stroke-width="1"/>
<circle cx="259.00" cy="94.70" r="2.0" fill="#002a00" stroke="none" stroke-width="1"/>
</g>
<g filter="url(#gn)"><rect x="271.1" y="82.7" width="36.3" height="57.8" fill="#046e05"/></g>
<g filter="url(#bl2)" opacity="0.7">
<circle cx="293.10" cy="106.70" r="3.2" fill="#002a00" stroke="none" stroke-width="1"/>
<circle cx="289.10" cy="115.70" r="3.5" fill="#002a00" stroke="none" stroke-width="1"/>
<circle cx="300.10" cy="107.70" r="2.6" fill="#002a00" stroke="none" stroke-width="1"/>
<circle cx="284.10" cy="100.70" r="2.4" fill="#002a00" stroke="none" stroke-width="1"/>
<circle cx="301.10" cy="113.70" r="2.2" fill="#002a00" stroke="none" stroke-width="1"/>
<circle cx="291.10" cy="125.70" r="3.5" fill="#002a00" stroke="none" stroke-width="1"/>
<circle cx="278.10" cy="120.70" r="2.5" fill="#002a00" stroke="none" stroke-width="1"/>
<circle cx="298.10" cy="94.70" r="2.0" fill="#002a00" stroke="none" stroke-width="1"/>
</g>
<g filter="url(#gn)"><rect x="153.8" y="142.6" width="36.3" height="58.5" fill="#046e05"/></g>
<g filter="url(#bl2)" opacity="0.7">
<circle cx="175.80" cy="166.60" r="3.2" fill="#002a00" stroke="none" stroke-width="1"/>
<circle cx="171.80" cy="175.60" r="3.5" fill="#002a00" stroke="none" stroke-width="1"/>
<circle cx="182.80" cy="167.60" r="2.6" fill="#002a00" stroke="none" stroke-width="1"/>
<circle cx="166.80" cy="160.60" r="2.4" fill="#002a00" stroke="none" stroke-width="1"/>
<circle cx="183.80" cy="173.60" r="2.2" fill="#002a00" stroke="none" stroke-width="1"/>
<circle cx="173.80" cy="185.60" r="3.5" fill="#002a00" stroke="none" stroke-width="1"/>
<circle cx="160.80" cy="180.60" r="2.5" fill="#002a00" stroke="none" stroke-width="1"/>
<circle cx="180.80" cy="154.60" r="2.0" fill="#002a00" stroke="none" stroke-width="1"/>
</g>
<g filter="url(#gn)"><rect x="192.9" y="142.6" width="36.3" height="58.5" fill="#046e05"/></g>
<g filter="url(#bl2)" opacity="0.7">
<circle cx="214.90" cy="166.60" r="3.2" fill="#002a00" stroke="none" stroke-width="1"/>
<circle cx="210.90" cy="175.60" r="3.5" fill="#002a00" stroke="none" stroke-width="1"/>
<circle cx="221.90" cy="167.60" r="2.6" fill="#002a00" stroke="none" stroke-width="1"/>
<circle cx="205.90" cy="160.60" r="2.4" fill="#002a00" stroke="none" stroke-width="1"/>
<circle cx="222.90" cy="173.60" r="2.2" fill="#002a00" stroke="none" stroke-width="1"/>
<circle cx="212.90" cy="185.60" r="3.5" fill="#002a00" stroke="none" stroke-width="1"/>
<circle cx="199.90" cy="180.60" r="2.5" fill="#002a00" stroke="none" stroke-width="1"/>
<circle cx="219.90" cy="154.60" r="2.0" fill="#002a00" stroke="none" stroke-width="1"/>
</g>
<g filter="url(#gn)"><rect x="232.0" y="142.6" width="36.3" height="58.5" fill="#046e05"/></g>
<g filter="url(#bl2)" opacity="0.7">
<circle cx="254.00" cy="166.60" r="3.2" fill="#002a00" stroke="none" stroke-width="1"/>
<circle cx="250.00" cy="175.60" r="3.5" fill="#002a00" stroke="none" stroke-width="1"/>
<circle cx="261.00" cy="167.60" r="2.6" fill="#002a00" stroke="none" stroke-width="1"/>
<circle cx="245.00" cy="160.60" r="2.4" fill="#002a00" stroke="none" stroke-width="1"/>
<circle cx="262.00" cy="173.60" r="2.2" fill="#002a00" stroke="none" stroke-width="1"/>
<circle cx="252.00" cy="185.60" r="3.5" fill="#002a00" stroke="none" stroke-width="1"/>
<circle cx="239.00" cy="180.60" r="2.5" fill="#002a00" stroke="none" stroke-width="1"/>
<circle cx="259.00" cy="154.60" r="2.0" fill="#002a00" stroke="none" stroke-width="1"/>
</g>
<g filter="url(#gn)"><rect x="271.1" y="142.6" width="36.3" height="58.5" fill="#046e05"/></g>
<g filter="url(#bl2)" opacity="0.7">
<circle cx="293.10" cy="166.60" r="3.2" fill="#002a00" stroke="none" stroke-width="1"/>
<circle cx="289.10" cy="175.60" r="3.5" fill="#002a00" stroke="none" stroke-width="1"/>
<circle cx="300.10" cy="167.60" r="2.6" fill="#002a00" stroke="none" stroke-width="1"/>
<circle cx="284.10" cy="160.60" r="2.4" fill="#002a00" stroke="none" stroke-width="1"/>
<circle cx="301.10" cy="173.60" r="2.2" fill="#002a00" stroke="none" stroke-width="1"/>
<circle cx="291.10" cy="185.60" r="3.5" fill="#002a00" stroke="none" stroke-width="1"/>
<circle cx="278.10" cy="180.60" r="2.5" fill="#002a00" stroke="none" stroke-width="1"/>
<circle cx="298.10" cy="154.60" r="2.0" fill="#002a00" stroke="none" stroke-width="1"/>
</g>
<g filter="url(#bl)" opacity="1.0"><ellipse cx="205.60" cy="55.40" rx="2.9" ry="3.1" fill="none" fill-opacity="0" stroke="#45e848" stroke-width="1.3"/></g>
<g filter="url(#bl)" opacity="0.55"><ellipse cx="222.50" cy="47.20" rx="2.5" ry="2.6" fill="none" fill-opacity="0" stroke="#45e848" stroke-width="1.1"/></g>
<g filter="url(#bl)" opacity="0.95"><ellipse cx="244.70" cy="55.40" rx="2.9" ry="3.1" fill="none" fill-opacity="0" stroke="#45e848" stroke-width="1.3"/></g>
<g filter="url(#bl)" opacity="0.6"><ellipse cx="261.60" cy="47.20" rx="2.5" ry="2.6" fill="none" fill-opacity="0" stroke="#45e848" stroke-width="1.1"/></g>
<g filter="url(#bl)" opacity="0.25"><ellipse cx="183.40" cy="107.10" rx="2.5" ry="2.6" fill="none" fill-opacity="0" stroke="#45e848" stroke-width="1.1"/></g>
<g filter="url(#bl)" opacity="0.2"><ellipse cx="222.50" cy="107.10" rx="2.5" ry="2.6" fill="none" fill-opacity="0" stroke="#45e848" stroke-width="1.1"/></g>
<g filter="url(#bl)" opacity="0.2"><ellipse cx="261.60" cy="107.10" rx="2.5" ry="2.6" fill="none" fill-opacity="0" stroke="#45e848" stroke-width="1.1"/></g>
<g filter="url(#bl)" opacity="0.2"><ellipse cx="300.70" cy="107.10" rx="2.5" ry="2.6" fill="none" fill-opacity="0" stroke="#45e848" stroke-width="1.1"/></g>
<g filter="url(#bl)" opacity="0.28" stroke="#4ee052" stroke-width="0.8" fill="none">
<path d="M205.8 118.5 L206.60000000000002 127.5"/><path d="M203.3 116.5 L196.8 120.5"/><path d="M203.8 113.5 L197.8 107.5"/><path d="M204.8 112.5 L201.8 93.5"/><path d="M208.3 114.0 L214.8 107.5"/><path d="M208.3 117.5 L217.8 123.5"/>
</g>
<g filter="url(#bl)" opacity="1.0"><ellipse cx="205.60" cy="115.30" rx="3.0" ry="3.6" fill="#3fe043" fill-opacity="0.7" stroke="#44f64a" stroke-width="1.7"/></g>
<g filter="url(#bl)" opacity="0.42" stroke="#4ee052" stroke-width="0.8" fill="none">
<path d="M244.9 118.5 L245.70000000000002 127.5"/><path d="M242.4 116.5 L235.9 120.5"/><path d="M242.9 113.5 L236.9 107.5"/><path d="M243.9 112.5 L240.9 93.5"/><path d="M247.4 114.0 L253.9 107.5"/><path d="M247.4 117.5 L256.9 123.5"/>
</g>
<g filter="url(#bl)" opacity="1.0"><ellipse cx="244.70" cy="115.30" rx="3.0" ry="3.6" fill="#30e036" fill-opacity="0.8" stroke="#4cff52" stroke-width="1.9"/></g>
<g filter="url(#bl)" opacity="0.3"><ellipse cx="283.80" cy="115.30" rx="2.9" ry="3.1" fill="none" fill-opacity="0" stroke="#45e848" stroke-width="0.9"/></g>
<g filter="url(#bl)" opacity="0.3"><ellipse cx="166.50" cy="175.20" rx="2.9" ry="3.1" fill="none" fill-opacity="0" stroke="#45e848" stroke-width="0.9"/></g>
<g filter="url(#bl)" opacity="0.2"><ellipse cx="183.40" cy="167.00" rx="2.5" ry="2.6" fill="none" fill-opacity="0" stroke="#45e848" stroke-width="1.1"/></g>
<g filter="url(#bl)" opacity="1.0"><ellipse cx="205.60" cy="175.20" rx="2.9" ry="3.1" fill="none" fill-opacity="0" stroke="#45e848" stroke-width="1.3"/></g>
<g filter="url(#bl)" opacity="0.85"><ellipse cx="222.50" cy="167.00" rx="2.5" ry="2.6" fill="none" fill-opacity="0" stroke="#45e848" stroke-width="1.2"/></g>
<g filter="url(#bl)" opacity="1.0"><ellipse cx="244.70" cy="175.20" rx="2.9" ry="3.1" fill="none" fill-opacity="0" stroke="#45e848" stroke-width="1.5"/></g>
<g filter="url(#bl)" opacity="1.0"><ellipse cx="261.60" cy="167.00" rx="2.5" ry="2.6" fill="none" fill-opacity="0" stroke="#45e848" stroke-width="1.5"/></g>
<g filter="url(#bl)" opacity="0.3"><ellipse cx="283.80" cy="175.20" rx="2.9" ry="3.1" fill="none" fill-opacity="0" stroke="#45e848" stroke-width="0.9"/></g>
<g filter="url(#bl)" opacity="0.2"><ellipse cx="300.70" cy="167.00" rx="2.5" ry="2.6" fill="none" fill-opacity="0" stroke="#45e848" stroke-width="1.1"/></g>
<rect x="192.90" y="22.80" width="21.60" height="17.00" fill="#4a4345"/>
<rect x="200.90" y="29.80" width="3.20" height="3.00" fill="#fff"/>
<rect x="232.00" y="22.80" width="21.60" height="17.00" fill="#4a4345"/>
<rect x="240.00" y="29.80" width="3.20" height="3.00" fill="#fff"/>
<rect x="192.90" y="142.60" width="21.60" height="17.00" fill="#4a4345"/>
<rect x="200.90" y="149.60" width="3.20" height="3.00" fill="#fff"/>
<rect x="232.00" y="142.60" width="21.60" height="17.00" fill="#4a4345"/>
<rect x="240.00" y="149.60" width="3.20" height="3.00" fill="#fff"/>
<rect x="200.50" y="29.70" width="3.60" height="3.20" fill="#4a4345"/>
<rect x="200.70" y="30.20" width="3.40" height="2.80" fill="#fff"/>
<text x="193.70" y="30.40" font-size="7.4" fill="#fff" text-anchor="start">(3</text>
<text x="206.50" y="30.60" font-size="7.4" fill="#fff" text-anchor="start">C)</text>
<text x="189.50" y="78.90" font-size="10.8" fill="#fff" text-anchor="end">20 s</text>
<text x="228.60" y="78.90" font-size="10.8" fill="#fff" text-anchor="end">21 s</text>
<text x="267.70" y="78.90" font-size="10.8" fill="#fff" text-anchor="end">22 s</text>
<text x="306.80" y="78.90" font-size="10.8" fill="#fff" text-anchor="end">24 s</text>
<text x="189.50" y="138.80" font-size="10.8" fill="#fff" text-anchor="end">150 s</text>
<text x="228.60" y="138.80" font-size="10.8" fill="#fff" text-anchor="end">151 s</text>
<text x="267.70" y="138.80" font-size="10.8" fill="#fff" text-anchor="end">152 s</text>
<text x="306.80" y="138.80" font-size="10.8" fill="#fff" text-anchor="end">168 s</text>
<text x="189.50" y="198.70" font-size="10.8" fill="#fff" text-anchor="end">280 s</text>
<text x="228.60" y="198.70" font-size="10.8" fill="#fff" text-anchor="end">281 s</text>
<text x="267.70" y="198.70" font-size="10.8" fill="#fff" text-anchor="end">282 s</text>
<text x="306.80" y="198.70" font-size="10.8" fill="#fff" text-anchor="end">284 s</text>
<text x="154.50" y="33.40" font-size="10.8" fill="#fff" text-anchor="start">In vivo</text>
<text x="193.40" y="91.90" font-size="9.4" fill="#fff" text-anchor="start">After 1 s</text>
<text x="198.90" y="67.60" font-size="10.6" fill="#fff" text-anchor="start">1</text>
<text x="219.80" y="63.60" font-size="10.6" fill="#fff" text-anchor="start">2</text>
<line x1="293.00" y1="27.80" x2="302.40" y2="27.80" stroke="#fff" stroke-width="1.1"/>
<circle cx="166.80" cy="115.90" r="4.4" fill="none" stroke="#fff" stroke-width="1.3" stroke-dasharray="1.5 1.26"/>
<path d="M175.2 95.6 L176.5 96.2 L173.2 104.4 L177.6 102.8 L167.0 114.2 L168.4 99.6 L171.0 103.6 Z" fill="#ee1c25"/>
<line x1="161.90" y1="209.00" x2="161.90" y2="293.60" stroke="#14c4ea" stroke-width="1.9"/>
<line x1="176.80" y1="209.00" x2="176.80" y2="293.60" stroke="#14c4ea" stroke-width="1.9"/>
<line x1="283.60" y1="209.00" x2="283.60" y2="293.60" stroke="#14c4ea" stroke-width="1.9"/>
<line x1="299.10" y1="209.00" x2="299.10" y2="293.60" stroke="#14c4ea" stroke-width="1.9"/>
<line x1="206.60" y1="209.00" x2="206.60" y2="260.00" stroke="#ec2036" stroke-width="1.8"/>
<line x1="206.60" y1="260.00" x2="206.60" y2="294.00" stroke="#ec2036" stroke-width="1.5" stroke-dasharray="2.6 2.0"/>
<text x="146.20" y="250.10" font-size="10.4" fill="#000" text-anchor="start">#1</text>
<text x="146.20" y="283.00" font-size="10.4" fill="#000" text-anchor="start">#2</text>
<line x1="181.00" y1="251.90" x2="201.00" y2="251.90" stroke="#8a8a8a" stroke-width="1.0" stroke-dasharray="2.8 2.2"/>
<line x1="261.50" y1="251.90" x2="280.00" y2="251.90" stroke="#8a8a8a" stroke-width="1.0" stroke-dasharray="2.8 2.2"/>
<line x1="261.50" y1="284.00" x2="264.00" y2="284.00" stroke="#8a8a8a" stroke-width="0.8"/>
<path d="M158.10 251.82 L158.60 251.93 L159.10 252.08 L159.60 252.28 L160.10 251.89 L160.60 251.79 L161.10 251.70 L161.60 251.75 L161.80 251.80 L162.10 247.42 L162.60 240.17 L163.10 244.37 L163.60 247.17 L164.10 248.84 L164.60 249.99 L165.10 250.72 L165.60 251.15 L166.10 251.33" fill="none" stroke="#000" stroke-width="1.15" stroke-linejoin="round" stroke-linecap="round"/>
<path d="M173.60 251.88 L174.10 251.86 L174.60 251.86 L175.10 251.99 L175.60 251.92 L176.10 251.69 L176.40 251.84 L176.60 248.80 L177.10 241.11 L177.20 239.59 L177.60 243.36 L178.10 246.55 L178.60 248.53 L179.10 249.76 L179.60 250.49 L180.10 250.84 L180.60 251.29" fill="none" stroke="#000" stroke-width="1.15" stroke-linejoin="round" stroke-linecap="round"/>
<path d="M201.30 251.90 L201.91 252.19 L202.53 251.90 L203.14 251.92 L203.76 251.92 L204.37 251.50 L204.99 251.30 L205.60 251.60 L206.20 247.50 L206.80 243.90 L207.30 214.00 L208.50 210.50 L209.35 210.27 L210.20 209.90 L210.80 210.67 L211.40 210.99 L212.00 211.50 L212.67 211.70 L213.33 212.81 L214.00 213.00 L214.62 213.10 L215.25 213.79 L215.88 214.22 L216.50 214.80 L217.15 218.46 L217.80 222.00 L218.65 227.24 L219.50 232.00 L220.25 236.17 L221.00 241.00 L221.73 243.06 L222.47 245.34 L223.20 247.40 L223.80 247.41 L224.40 247.91 L225.00 248.20 L226.10 243.80 L226.70 246.19 L227.30 248.50 L228.03 248.64 L228.77 249.08 L229.50 249.80 L230.12 249.49 L230.75 249.15 L231.38 248.95 L232.00 248.60 L232.67 246.02 L233.33 242.66 L234.00 239.40 L235.20 244.00 L236.00 246.50 L236.80 248.80 L237.53 249.11 L238.27 249.94 L239.00 250.20 L239.62 250.10 L240.25 250.70 L240.88 250.69 L241.50 250.06 L242.12 250.32 L242.75 250.61 L243.38 250.64 L244.00 250.80 L244.60 250.57 L245.20 250.63 L245.80 251.11 L246.40 250.88 L247.00 250.71 L247.60 251.04 L248.20 251.36 L248.80 251.57 L249.40 251.26 L250.00 251.30 L250.75 250.38 L251.50 249.60 L252.25 250.32 L253.00 251.40 L253.63 251.30 L254.26 251.55 L254.89 251.72 L255.52 251.74 L256.15 251.42 L256.78 251.69 L257.42 251.68 L258.05 251.62 L258.68 251.00 L259.31 251.54 L259.94 251.51 L260.57 251.88 L261.20 251.60" fill="none" stroke="#000" stroke-width="1.15" stroke-linejoin="round" stroke-linecap="round"/>
<path d="M279.80 248.20 L280.40 247.74 L281.00 247.70 L281.60 247.30 L282.70 250.50 L283.90 245.50 L284.80 228.40 L285.90 245.50 L287.00 250.50 L288.20 251.10" fill="none" stroke="#000" stroke-width="1.15" stroke-linejoin="round" stroke-linecap="round"/>
<path d="M294.50 250.50 L295.13 250.91 L295.77 251.54 L296.40 251.80 L297.05 250.47 L297.70 248.90 L298.90 234.10 L299.50 245.50 L300.50 248.20 L301.40 243.20 L302.30 236.40" fill="none" stroke="#000" stroke-width="1.15" stroke-linejoin="round" stroke-linecap="round"/>
<path d="M158.10 284.12 L158.60 283.96 L159.10 283.73 L159.60 283.71 L160.10 283.88 L160.60 284.12 L161.10 283.74 L161.60 283.69 L161.80 283.90 L162.10 281.58 L162.60 277.54 L163.10 280.19 L163.60 281.70 L164.10 282.57 L164.60 283.30 L165.10 283.47 L165.60 284.02 L166.10 283.91" fill="none" stroke="#000" stroke-width="1.15" stroke-linejoin="round" stroke-linecap="round"/>
<path d="M173.60 283.91 L174.10 284.08 L174.60 283.91 L175.10 283.99 L175.60 283.85 L176.10 283.91 L176.40 284.11 L176.60 282.29 L177.10 277.92 L177.20 277.03 L177.60 279.31 L178.10 281.31 L178.60 282.28 L179.10 282.96 L179.60 283.66 L180.10 283.60 L180.60 283.66" fill="none" stroke="#000" stroke-width="1.15" stroke-linejoin="round" stroke-linecap="round"/>
<path d="M202.20 283.86 L202.70 283.88 L203.20 283.89 L203.70 283.71 L204.10 284.03 L204.20 283.29 L204.70 280.05 L204.80 279.33 L205.20 280.89 L205.70 281.87 L206.20 282.72 L206.70 283.50 L207.20 283.66 L207.70 284.06 L208.20 284.06 L208.70 283.86 L209.20 283.92 L209.70 284.05 L210.20 284.32 L210.70 284.28 L211.20 284.21 L211.70 284.23 L212.20 284.04 L212.70 283.80 L213.20 283.76 L213.70 284.10 L214.20 284.17 L214.70 283.90 L215.10 283.56 L215.20 282.78 L215.70 280.92 L215.90 280.04 L216.20 281.01 L216.70 282.08 L217.20 282.72 L217.70 283.45 L218.20 283.75 L218.70 283.31 L219.20 283.53 L219.70 283.97 L220.20 283.89 L220.70 284.15 L221.20 283.92 L221.70 283.95 L222.20 284.09 L222.70 284.14 L223.20 283.90 L223.70 284.25 L224.20 284.00 L224.70 284.27 L225.20 284.21 L225.70 283.62 L226.20 283.29 L226.70 283.92 L227.20 284.33 L227.70 284.17 L228.20 283.97 L228.70 283.72 L229.20 283.67 L229.70 283.93 L230.20 283.98 L230.70 283.81 L231.20 283.50 L231.70 282.58 L232.00 282.04 L232.20 282.10 L232.70 282.81 L233.20 283.32 L233.70 283.45 L234.20 284.17 L234.70 283.63 L235.20 283.56 L235.70 283.44 L236.20 283.84 L236.70 284.19 L237.20 284.05 L237.70 283.65 L238.20 284.00 L238.70 284.39 L239.20 283.74 L239.70 283.79 L240.20 283.88 L240.70 283.99 L241.20 284.03 L241.70 284.42 L242.20 284.22 L242.70 283.40 L243.00 283.04 L243.20 283.31 L243.70 283.11 L244.20 282.88 L244.70 283.31 L245.20 283.84 L245.70 284.04 L246.20 283.71 L246.70 283.67 L247.20 283.92 L247.70 284.42 L248.20 284.77 L248.70 283.67 L249.20 283.68 L249.70 283.72 L250.20 283.86 L250.70 284.00 L251.20 284.29 L251.70 284.12 L252.20 284.05 L252.70 284.08 L253.20 283.74 L253.70 284.57 L254.20 284.22 L254.70 284.01 L255.20 284.08 L255.70 284.70 L256.20 284.15 L256.70 284.51 L257.20 284.19 L257.70 284.01 L258.20 284.38 L258.70 283.81 L259.20 284.02 L259.70 283.95 L260.20 284.00 L260.70 284.24 L261.20 284.28" fill="none" stroke="#000" stroke-width="1.15" stroke-linejoin="round" stroke-linecap="round"/>
<path d="M279.80 279.50 L280.60 279.06 L281.40 278.40 L282.05 281.50 L282.70 284.50 L283.90 277.30 L284.80 258.00 L285.70 277.30 L286.60 284.50 L287.40 285.00 L288.20 285.20" fill="none" stroke="#000" stroke-width="1.15" stroke-linejoin="round" stroke-linecap="round"/>
<path d="M294.50 280.70 L295.13 281.74 L295.77 282.97 L296.40 284.10 L297.20 282.89 L298.00 281.80 L298.90 268.20 L299.80 279.50 L300.90 283.60 L301.70 283.53 L302.50 283.60" fill="none" stroke="#000" stroke-width="1.15" stroke-linejoin="round" stroke-linecap="round"/>
<text x="182.30" y="283.50" font-size="8.2" fill="#000" text-anchor="start">120 s</text>
<text x="264.00" y="283.50" font-size="8.2" fill="#000" text-anchor="start">70 s</text>
<text x="208.40" y="260.90" font-size="9.8" fill="#ec2036" text-anchor="start">Photostimulation</text>
<text x="165.60" y="303.20" font-size="9.6" fill="#19c3e6" text-anchor="start">Visual stimulation</text>
<line x1="161.90" y1="297.40" x2="161.90" y2="300.40" stroke="#000" stroke-width="1.8"/>
<path d="M161.9 294.2 L165.1 299.2 L161.9 298.0 L158.7 299.2 Z" fill="#000"/>
<line x1="307.50" y1="277.50" x2="307.50" y2="295.80" stroke="#000" stroke-width="1.0"/>
<line x1="288.40" y1="295.30" x2="308.00" y2="295.30" stroke="#000" stroke-width="1.0"/>
<text x="290.30" y="305.20" font-size="9.6" fill="#000" text-anchor="start">20 s</text>
<text x="316.40" y="297.00" font-size="9.6" fill="#000" text-anchor="start" transform="rotate(-90 316.40 297.00)">1 ΔF/F<tspan font-size="62%" dy="1.2">0</tspan></text>
<text x="351.00" y="15.30" font-size="21.4" fill="#000" text-anchor="start">d</text>
<text x="444.90" y="20.00" font-size="12.9" fill="#000" text-anchor="middle">Time (s)</text>
<rect x="376.60" y="33.10" width="3.47" height="7.55" fill="#e4f7e4"/>
<rect x="379.47" y="33.10" width="3.47" height="7.55" fill="#dff6df"/>
<rect x="382.33" y="33.10" width="3.47" height="7.55" fill="#d0f1d0"/>
<rect x="385.20" y="33.10" width="3.47" height="7.55" fill="#e3f7e3"/>
<rect x="388.07" y="33.10" width="3.47" height="7.55" fill="#e2f7e2"/>
<rect x="390.93" y="33.10" width="3.47" height="7.55" fill="#def6de"/>
<rect x="393.80" y="33.10" width="3.47" height="7.55" fill="#02b602"/>
<rect x="396.67" y="33.10" width="3.47" height="7.55" fill="#02b602"/>
<rect x="399.53" y="33.10" width="3.47" height="7.55" fill="#02b602"/>
<rect x="402.40" y="33.10" width="3.47" height="7.55" fill="#1bbd1b"/>
<rect x="405.27" y="33.10" width="3.47" height="7.55" fill="#80da80"/>
<rect x="408.13" y="33.10" width="2.87" height="7.55" fill="#a6e5a6"/>
<rect x="376.60" y="40.05" width="3.47" height="7.55" fill="#effbef"/>
<rect x="379.47" y="40.05" width="3.47" height="7.55" fill="#e1f6e1"/>
<rect x="382.33" y="40.05" width="3.47" height="7.55" fill="#dcf5dc"/>
<rect x="385.20" y="40.05" width="3.47" height="7.55" fill="#d5f3d5"/>
<rect x="388.07" y="40.05" width="3.47" height="7.55" fill="#f3fcf3"/>
<rect x="390.93" y="40.05" width="3.47" height="7.55" fill="#eaf9ea"/>
<rect x="393.80" y="40.05" width="3.47" height="7.55" fill="#02b602"/>
<rect x="396.67" y="40.05" width="3.47" height="7.55" fill="#02b602"/>
<rect x="399.53" y="40.05" width="3.47" height="7.55" fill="#0fba0f"/>
<rect x="402.40" y="40.05" width="3.47" height="7.55" fill="#80da80"/>
<rect x="405.27" y="40.05" width="3.47" height="7.55" fill="#a6e5a6"/>
<rect x="408.13" y="40.05" width="2.87" height="7.55" fill="#b3e9b3"/>
<rect x="376.60" y="47.01" width="3.47" height="7.55" fill="#f4fcf4"/>
<rect x="379.47" y="47.01" width="3.47" height="7.55" fill="#d5f3d5"/>
<rect x="382.33" y="47.01" width="3.47" height="7.55" fill="#daf4da"/>
<rect x="385.20" y="47.01" width="3.47" height="7.55" fill="#f6fcf6"/>
<rect x="388.07" y="47.01" width="3.47" height="7.55" fill="#cdf1cd"/>
<rect x="390.93" y="47.01" width="3.47" height="7.55" fill="#cef1ce"/>
<rect x="393.80" y="47.01" width="3.47" height="7.55" fill="#1bbd1b"/>
<rect x="396.67" y="47.01" width="3.47" height="7.55" fill="#02b602"/>
<rect x="399.53" y="47.01" width="3.47" height="7.55" fill="#28c128"/>
<rect x="402.40" y="47.01" width="3.47" height="7.55" fill="#67d367"/>
<rect x="405.27" y="47.01" width="3.47" height="7.55" fill="#80da80"/>
<rect x="408.13" y="47.01" width="2.87" height="7.55" fill="#9ae29a"/>
<rect x="376.60" y="53.96" width="3.47" height="7.55" fill="#ebf9eb"/>
<rect x="379.47" y="53.96" width="3.47" height="7.55" fill="#ecfaec"/>
<rect x="382.33" y="53.96" width="3.47" height="7.55" fill="#fafefa"/>
<rect x="385.20" y="53.96" width="3.47" height="7.55" fill="#ffffff"/>
<rect x="388.07" y="53.96" width="3.47" height="7.55" fill="#effaef"/>
<rect x="390.93" y="53.96" width="3.47" height="7.55" fill="#fdfefd"/>
<rect x="393.80" y="53.96" width="3.47" height="7.55" fill="#02b602"/>
<rect x="396.67" y="53.96" width="3.47" height="7.55" fill="#02b602"/>
<rect x="399.53" y="53.96" width="3.47" height="7.55" fill="#02b602"/>
<rect x="402.40" y="53.96" width="3.47" height="7.55" fill="#02b602"/>
<rect x="405.27" y="53.96" width="3.47" height="7.55" fill="#9ae29a"/>
<rect x="408.13" y="53.96" width="2.87" height="7.55" fill="#e6f8e6"/>
<rect x="376.60" y="60.91" width="3.47" height="7.55" fill="#f8fdf8"/>
<rect x="379.47" y="60.91" width="3.47" height="7.55" fill="#f6fcf6"/>
<rect x="382.33" y="60.91" width="3.47" height="7.55" fill="#fefffe"/>
<rect x="385.20" y="60.91" width="3.47" height="7.55" fill="#edfaed"/>
<rect x="388.07" y="60.91" width="3.47" height="7.55" fill="#eefaee"/>
<rect x="390.93" y="60.91" width="3.47" height="7.55" fill="#dff6df"/>
<rect x="393.80" y="60.91" width="3.47" height="7.55" fill="#02b602"/>
<rect x="396.67" y="60.91" width="3.47" height="7.55" fill="#1bbd1b"/>
<rect x="399.53" y="60.91" width="3.47" height="7.55" fill="#67d367"/>
<rect x="402.40" y="60.91" width="3.47" height="7.55" fill="#9ae29a"/>
<rect x="405.27" y="60.91" width="3.47" height="7.55" fill="#ccf0cc"/>
<rect x="408.13" y="60.91" width="2.87" height="7.55" fill="#e6f8e6"/>
<rect x="376.60" y="67.87" width="3.47" height="7.55" fill="#effaef"/>
<rect x="379.47" y="67.87" width="3.47" height="7.55" fill="#ecf9ec"/>
<rect x="382.33" y="67.87" width="3.47" height="7.55" fill="#f0fbf0"/>
<rect x="385.20" y="67.87" width="3.47" height="7.55" fill="#ebf9eb"/>
<rect x="388.07" y="67.87" width="3.47" height="7.55" fill="#f1fbf1"/>
<rect x="390.93" y="67.87" width="3.47" height="7.55" fill="#f7fdf7"/>
<rect x="393.80" y="67.87" width="3.47" height="7.55" fill="#02b602"/>
<rect x="396.67" y="67.87" width="3.47" height="7.55" fill="#02b602"/>
<rect x="399.53" y="67.87" width="3.47" height="7.55" fill="#4ecc4e"/>
<rect x="402.40" y="67.87" width="3.47" height="7.55" fill="#ccf0cc"/>
<rect x="405.27" y="67.87" width="3.47" height="7.55" fill="#ebf9eb"/>
<rect x="408.13" y="67.87" width="2.87" height="7.55" fill="#f2fbf2"/>
<rect x="376.60" y="74.82" width="3.47" height="7.55" fill="#e1f6e1"/>
<rect x="379.47" y="74.82" width="3.47" height="7.55" fill="#e1f6e1"/>
<rect x="382.33" y="74.82" width="3.47" height="7.55" fill="#e5f8e5"/>
<rect x="385.20" y="74.82" width="3.47" height="7.55" fill="#eaf9ea"/>
<rect x="388.07" y="74.82" width="3.47" height="7.55" fill="#f5fcf5"/>
<rect x="390.93" y="74.82" width="3.47" height="7.55" fill="#f8fdf8"/>
<rect x="393.80" y="74.82" width="3.47" height="7.55" fill="#02b602"/>
<rect x="396.67" y="74.82" width="3.47" height="7.55" fill="#02b602"/>
<rect x="399.53" y="74.82" width="3.47" height="7.55" fill="#02b602"/>
<rect x="402.40" y="74.82" width="3.47" height="7.55" fill="#02b602"/>
<rect x="405.27" y="74.82" width="3.47" height="7.55" fill="#80da80"/>
<rect x="408.13" y="74.82" width="2.87" height="7.55" fill="#ccf0cc"/>
<rect x="376.60" y="81.77" width="3.47" height="7.55" fill="#e7f8e7"/>
<rect x="379.47" y="81.77" width="3.47" height="7.55" fill="#f0fbf0"/>
<rect x="382.33" y="81.77" width="3.47" height="7.55" fill="#d5f3d5"/>
<rect x="385.20" y="81.77" width="3.47" height="7.55" fill="#e3f7e3"/>
<rect x="388.07" y="81.77" width="3.47" height="7.55" fill="#d2f2d2"/>
<rect x="390.93" y="81.77" width="3.47" height="7.55" fill="#e4f7e4"/>
<rect x="393.80" y="81.77" width="3.47" height="7.55" fill="#02b602"/>
<rect x="396.67" y="81.77" width="3.47" height="7.55" fill="#02b602"/>
<rect x="399.53" y="81.77" width="3.47" height="7.55" fill="#b3e9b3"/>
<rect x="402.40" y="81.77" width="3.47" height="7.55" fill="#ccf0cc"/>
<rect x="405.27" y="81.77" width="3.47" height="7.55" fill="#d9f4d9"/>
<rect x="408.13" y="81.77" width="2.87" height="7.55" fill="#e6f8e6"/>
<rect x="376.60" y="88.73" width="3.47" height="7.55" fill="#9ce39c"/>
<rect x="379.47" y="88.73" width="3.47" height="7.55" fill="#a3e5a3"/>
<rect x="382.33" y="88.73" width="3.47" height="7.55" fill="#d9f4d9"/>
<rect x="385.20" y="88.73" width="3.47" height="7.55" fill="#ccf0cc"/>
<rect x="388.07" y="88.73" width="3.47" height="7.55" fill="#9fe39f"/>
<rect x="390.93" y="88.73" width="3.47" height="7.55" fill="#bbebbb"/>
<rect x="393.80" y="88.73" width="3.47" height="7.55" fill="#02b602"/>
<rect x="396.67" y="88.73" width="3.47" height="7.55" fill="#02b602"/>
<rect x="399.53" y="88.73" width="3.47" height="7.55" fill="#02b602"/>
<rect x="402.40" y="88.73" width="3.47" height="7.55" fill="#02b602"/>
<rect x="405.27" y="88.73" width="3.47" height="7.55" fill="#02b602"/>
<rect x="408.13" y="88.73" width="2.87" height="7.55" fill="#02b602"/>
<rect x="376.60" y="95.68" width="3.47" height="7.55" fill="#c0edc0"/>
<rect x="379.47" y="95.68" width="3.47" height="7.55" fill="#67d367"/>
<rect x="382.33" y="95.68" width="3.47" height="7.55" fill="#ccf0cc"/>
<rect x="385.20" y="95.68" width="3.47" height="7.55" fill="#9ae29a"/>
<rect x="388.07" y="95.68" width="3.47" height="7.55" fill="#a6e5a6"/>
<rect x="390.93" y="95.68" width="3.47" height="7.55" fill="#ccf0cc"/>
<rect x="393.80" y="95.68" width="3.47" height="7.55" fill="#02b602"/>
<rect x="396.67" y="95.68" width="3.47" height="7.55" fill="#02b602"/>
<rect x="399.53" y="95.68" width="3.47" height="7.55" fill="#02b602"/>
<rect x="402.40" y="95.68" width="3.47" height="7.55" fill="#02b602"/>
<rect x="405.27" y="95.68" width="3.47" height="7.55" fill="#02b602"/>
<rect x="408.13" y="95.68" width="2.87" height="7.55" fill="#02b602"/>
<rect x="376.60" y="102.63" width="3.47" height="7.55" fill="#9be29b"/>
<rect x="379.47" y="102.63" width="3.47" height="7.55" fill="#c0edc0"/>
<rect x="382.33" y="102.63" width="3.47" height="7.55" fill="#d4f3d4"/>
<rect x="385.20" y="102.63" width="3.47" height="7.55" fill="#b1e9b1"/>
<rect x="388.07" y="102.63" width="3.47" height="7.55" fill="#a8e6a8"/>
<rect x="390.93" y="102.63" width="3.47" height="7.55" fill="#c8efc8"/>
<rect x="393.80" y="102.63" width="3.47" height="7.55" fill="#02b602"/>
<rect x="396.67" y="102.63" width="3.47" height="7.55" fill="#02b602"/>
<rect x="399.53" y="102.63" width="3.47" height="7.55" fill="#02b602"/>
<rect x="402.40" y="102.63" width="3.47" height="7.55" fill="#02b602"/>
<rect x="405.27" y="102.63" width="3.47" height="7.55" fill="#02b602"/>
<rect x="408.13" y="102.63" width="2.87" height="7.55" fill="#02b602"/>
<rect x="376.60" y="109.59" width="3.47" height="7.55" fill="#f7fdf7"/>
<rect x="379.47" y="109.59" width="3.47" height="7.55" fill="#effaef"/>
<rect x="382.33" y="109.59" width="3.47" height="7.55" fill="#daf4da"/>
<rect x="385.20" y="109.59" width="3.47" height="7.55" fill="#e1f6e1"/>
<rect x="388.07" y="109.59" width="3.47" height="7.55" fill="#f6fcf6"/>
<rect x="390.93" y="109.59" width="3.47" height="7.55" fill="#f2fbf2"/>
<rect x="393.80" y="109.59" width="3.47" height="7.55" fill="#e6f8e6"/>
<rect x="396.67" y="109.59" width="3.47" height="7.55" fill="#ccf0cc"/>
<rect x="399.53" y="109.59" width="3.47" height="7.55" fill="#02b602"/>
<rect x="402.40" y="109.59" width="3.47" height="7.55" fill="#02b602"/>
<rect x="405.27" y="109.59" width="3.47" height="7.55" fill="#4ecc4e"/>
<rect x="408.13" y="109.59" width="2.87" height="7.55" fill="#9ae29a"/>
<rect x="376.60" y="116.54" width="3.47" height="7.55" fill="#f7fdf7"/>
<rect x="379.47" y="116.54" width="3.47" height="7.55" fill="#f8fdf8"/>
<rect x="382.33" y="116.54" width="3.47" height="7.55" fill="#e0f6e0"/>
<rect x="385.20" y="116.54" width="3.47" height="7.55" fill="#f4fcf4"/>
<rect x="388.07" y="116.54" width="3.47" height="7.55" fill="#e8f8e8"/>
<rect x="390.93" y="116.54" width="3.47" height="7.55" fill="#ebf9eb"/>
<rect x="393.80" y="116.54" width="3.47" height="7.55" fill="#e6f8e6"/>
<rect x="396.67" y="116.54" width="3.47" height="7.55" fill="#b3e9b3"/>
<rect x="399.53" y="116.54" width="3.47" height="7.55" fill="#02b602"/>
<rect x="402.40" y="116.54" width="3.47" height="7.55" fill="#02b602"/>
<rect x="405.27" y="116.54" width="3.47" height="7.55" fill="#28c128"/>
<rect x="408.13" y="116.54" width="2.87" height="7.55" fill="#80da80"/>
<rect x="376.60" y="123.49" width="3.47" height="7.55" fill="#fbfefb"/>
<rect x="379.47" y="123.49" width="3.47" height="7.55" fill="#f0fbf0"/>
<rect x="382.33" y="123.49" width="3.47" height="7.55" fill="#fcfefc"/>
<rect x="385.20" y="123.49" width="3.47" height="7.55" fill="#f2fbf2"/>
<rect x="388.07" y="123.49" width="3.47" height="7.55" fill="#fdfefd"/>
<rect x="390.93" y="123.49" width="3.47" height="7.55" fill="#f6fdf6"/>
<rect x="393.80" y="123.49" width="3.47" height="7.55" fill="#ccf0cc"/>
<rect x="396.67" y="123.49" width="3.47" height="7.55" fill="#74d774"/>
<rect x="399.53" y="123.49" width="3.47" height="7.55" fill="#8dde8d"/>
<rect x="402.40" y="123.49" width="3.47" height="7.55" fill="#9ae29a"/>
<rect x="405.27" y="123.49" width="3.47" height="7.55" fill="#b3e9b3"/>
<rect x="408.13" y="123.49" width="2.87" height="7.55" fill="#ccf0cc"/>
<rect x="376.60" y="130.45" width="3.47" height="6.95" fill="#fbfefb"/>
<rect x="379.47" y="130.45" width="3.47" height="6.95" fill="#fafdfa"/>
<rect x="382.33" y="130.45" width="3.47" height="6.95" fill="#ebf9eb"/>
<rect x="385.20" y="130.45" width="3.47" height="6.95" fill="#effaef"/>
<rect x="388.07" y="130.45" width="3.47" height="6.95" fill="#f9fdf9"/>
<rect x="390.93" y="130.45" width="3.47" height="6.95" fill="#edfaed"/>
<rect x="393.80" y="130.45" width="3.47" height="6.95" fill="#e6f8e6"/>
<rect x="396.67" y="130.45" width="3.47" height="6.95" fill="#8dde8d"/>
<rect x="399.53" y="130.45" width="3.47" height="6.95" fill="#a6e5a6"/>
<rect x="402.40" y="130.45" width="3.47" height="6.95" fill="#ccf0cc"/>
<rect x="405.27" y="130.45" width="3.47" height="6.95" fill="#d9f4d9"/>
<rect x="408.13" y="130.45" width="2.87" height="6.95" fill="#e6f8e6"/>
<rect x="415.80" y="33.10" width="3.48" height="7.55" fill="#f5fcf5"/>
<rect x="418.68" y="33.10" width="3.48" height="7.55" fill="#f0fbf0"/>
<rect x="421.57" y="33.10" width="3.48" height="7.55" fill="#e4f7e4"/>
<rect x="424.45" y="33.10" width="3.48" height="7.55" fill="#eaf9ea"/>
<rect x="427.33" y="33.10" width="3.48" height="7.55" fill="#f7fdf7"/>
<rect x="430.22" y="33.10" width="3.48" height="7.55" fill="#e1f6e1"/>
<rect x="433.10" y="33.10" width="3.48" height="7.55" fill="#ffffff"/>
<rect x="435.98" y="33.10" width="3.48" height="7.55" fill="#ffffff"/>
<rect x="438.87" y="33.10" width="3.48" height="7.55" fill="#8dde8d"/>
<rect x="441.75" y="33.10" width="3.48" height="7.55" fill="#8dde8d"/>
<rect x="444.63" y="33.10" width="3.48" height="7.55" fill="#9ae29a"/>
<rect x="447.52" y="33.10" width="3.48" height="7.55" fill="#8dde8d"/>
<rect x="450.40" y="33.10" width="3.48" height="7.55" fill="#8dde8d"/>
<rect x="453.28" y="33.10" width="3.48" height="7.55" fill="#9ae29a"/>
<rect x="456.17" y="33.10" width="3.48" height="7.55" fill="#8dde8d"/>
<rect x="459.05" y="33.10" width="3.48" height="7.55" fill="#80da80"/>
<rect x="461.93" y="33.10" width="3.48" height="7.55" fill="#8dde8d"/>
<rect x="464.82" y="33.10" width="2.88" height="7.55" fill="#74d774"/>
<rect x="415.80" y="40.05" width="3.48" height="7.55" fill="#e6f8e6"/>
<rect x="418.68" y="40.05" width="3.48" height="7.55" fill="#e1f6e1"/>
<rect x="421.57" y="40.05" width="3.48" height="7.55" fill="#ccf0cc"/>
<rect x="424.45" y="40.05" width="3.48" height="7.55" fill="#ccf0cc"/>
<rect x="427.33" y="40.05" width="3.48" height="7.55" fill="#e1f6e1"/>
<rect x="430.22" y="40.05" width="3.48" height="7.55" fill="#e6f8e6"/>
<rect x="433.10" y="40.05" width="3.48" height="7.55" fill="#ffffff"/>
<rect x="435.98" y="40.05" width="3.48" height="7.55" fill="#ffffff"/>
<rect x="438.87" y="40.05" width="3.48" height="7.55" fill="#ebf9eb"/>
<rect x="441.75" y="40.05" width="3.48" height="7.55" fill="#eaf9ea"/>
<rect x="444.63" y="40.05" width="3.48" height="7.55" fill="#d9f4d9"/>
<rect x="447.52" y="40.05" width="3.48" height="7.55" fill="#e8f8e8"/>
<rect x="450.40" y="40.05" width="3.48" height="7.55" fill="#e9f9e9"/>
<rect x="453.28" y="40.05" width="3.48" height="7.55" fill="#f0fbf0"/>
<rect x="456.17" y="40.05" width="3.48" height="7.55" fill="#effaef"/>
<rect x="459.05" y="40.05" width="3.48" height="7.55" fill="#dff6df"/>
<rect x="461.93" y="40.05" width="3.48" height="7.55" fill="#eaf9ea"/>
<rect x="464.82" y="40.05" width="2.88" height="7.55" fill="#dff6df"/>
<rect x="415.80" y="47.01" width="3.48" height="7.55" fill="#f1fbf1"/>
<rect x="418.68" y="47.01" width="3.48" height="7.55" fill="#eefaee"/>
<rect x="421.57" y="47.01" width="3.48" height="7.55" fill="#e2f7e2"/>
<rect x="424.45" y="47.01" width="3.48" height="7.55" fill="#eefaee"/>
<rect x="427.33" y="47.01" width="3.48" height="7.55" fill="#ebf9eb"/>
<rect x="430.22" y="47.01" width="3.48" height="7.55" fill="#e4f7e4"/>
<rect x="433.10" y="47.01" width="3.48" height="7.55" fill="#ffffff"/>
<rect x="435.98" y="47.01" width="3.48" height="7.55" fill="#ffffff"/>
<rect x="438.87" y="47.01" width="3.48" height="7.55" fill="#f6fcf6"/>
<rect x="441.75" y="47.01" width="3.48" height="7.55" fill="#f7fdf7"/>
<rect x="444.63" y="47.01" width="3.48" height="7.55" fill="#e8f8e8"/>
<rect x="447.52" y="47.01" width="3.48" height="7.55" fill="#e9f9e9"/>
<rect x="450.40" y="47.01" width="3.48" height="7.55" fill="#f5fcf5"/>
<rect x="453.28" y="47.01" width="3.48" height="7.55" fill="#f6fcf6"/>
<rect x="456.17" y="47.01" width="3.48" height="7.55" fill="#ebf9eb"/>
<rect x="459.05" y="47.01" width="3.48" height="7.55" fill="#e7f8e7"/>
<rect x="461.93" y="47.01" width="3.48" height="7.55" fill="#f6fcf6"/>
<rect x="464.82" y="47.01" width="2.88" height="7.55" fill="#e7f8e7"/>
<rect x="415.80" y="53.96" width="3.48" height="7.55" fill="#cff1cf"/>
<rect x="418.68" y="53.96" width="3.48" height="7.55" fill="#d6f3d6"/>
<rect x="421.57" y="53.96" width="3.48" height="7.55" fill="#dbf5db"/>
<rect x="424.45" y="53.96" width="3.48" height="7.55" fill="#e3f7e3"/>
<rect x="427.33" y="53.96" width="3.48" height="7.55" fill="#e5f7e5"/>
<rect x="430.22" y="53.96" width="3.48" height="7.55" fill="#cdf1cd"/>
<rect x="433.10" y="53.96" width="3.48" height="7.55" fill="#ffffff"/>
<rect x="435.98" y="53.96" width="3.48" height="7.55" fill="#ffffff"/>
<rect x="438.87" y="53.96" width="3.48" height="7.55" fill="#67d367"/>
<rect x="441.75" y="53.96" width="3.48" height="7.55" fill="#4ecc4e"/>
<rect x="444.63" y="53.96" width="3.48" height="7.55" fill="#67d367"/>
<rect x="447.52" y="53.96" width="3.48" height="7.55" fill="#02b602"/>
<rect x="450.40" y="53.96" width="3.48" height="7.55" fill="#02b602"/>
<rect x="453.28" y="53.96" width="3.48" height="7.55" fill="#02b602"/>
<rect x="456.17" y="53.96" width="3.48" height="7.55" fill="#1bbd1b"/>
<rect x="459.05" y="53.96" width="3.48" height="7.55" fill="#4ecc4e"/>
<rect x="461.93" y="53.96" width="3.48" height="7.55" fill="#80da80"/>
<rect x="464.82" y="53.96" width="2.88" height="7.55" fill="#8dde8d"/>
<rect x="415.80" y="60.91" width="3.48" height="7.55" fill="#e9f9e9"/>
<rect x="418.68" y="60.91" width="3.48" height="7.55" fill="#d8f4d8"/>
<rect x="421.57" y="60.91" width="3.48" height="7.55" fill="#e9f9e9"/>
<rect x="424.45" y="60.91" width="3.48" height="7.55" fill="#d3f2d3"/>
<rect x="427.33" y="60.91" width="3.48" height="7.55" fill="#dcf5dc"/>
<rect x="430.22" y="60.91" width="3.48" height="7.55" fill="#e7f8e7"/>
<rect x="433.10" y="60.91" width="3.48" height="7.55" fill="#ffffff"/>
<rect x="435.98" y="60.91" width="3.48" height="7.55" fill="#ffffff"/>
<rect x="438.87" y="60.91" width="3.48" height="7.55" fill="#e6f8e6"/>
<rect x="441.75" y="60.91" width="3.48" height="7.55" fill="#d9f4d9"/>
<rect x="444.63" y="60.91" width="3.48" height="7.55" fill="#ffffff"/>
<rect x="447.52" y="60.91" width="3.48" height="7.55" fill="#e1f6e1"/>
<rect x="450.40" y="60.91" width="3.48" height="7.55" fill="#e1f6e1"/>
<rect x="453.28" y="60.91" width="3.48" height="7.55" fill="#d9f4d9"/>
<rect x="456.17" y="60.91" width="3.48" height="7.55" fill="#e6f8e6"/>
<rect x="459.05" y="60.91" width="3.48" height="7.55" fill="#e1f6e1"/>
<rect x="461.93" y="60.91" width="3.48" height="7.55" fill="#e6f8e6"/>
<rect x="464.82" y="60.91" width="2.88" height="7.55" fill="#e1f6e1"/>
<rect x="415.80" y="67.87" width="3.48" height="7.55" fill="#e9f9e9"/>
<rect x="418.68" y="67.87" width="3.48" height="7.55" fill="#cef1ce"/>
<rect x="421.57" y="67.87" width="3.48" height="7.55" fill="#effaef"/>
<rect x="424.45" y="67.87" width="3.48" height="7.55" fill="#e7f8e7"/>
<rect x="427.33" y="67.87" width="3.48" height="7.55" fill="#d6f3d6"/>
<rect x="430.22" y="67.87" width="3.48" height="7.55" fill="#c7efc7"/>
<rect x="433.10" y="67.87" width="3.48" height="7.55" fill="#ffffff"/>
<rect x="435.98" y="67.87" width="3.48" height="7.55" fill="#ffffff"/>
<rect x="438.87" y="67.87" width="3.48" height="7.55" fill="#d9f4d9"/>
<rect x="441.75" y="67.87" width="3.48" height="7.55" fill="#e6f8e6"/>
<rect x="444.63" y="67.87" width="3.48" height="7.55" fill="#d9f4d9"/>
<rect x="447.52" y="67.87" width="3.48" height="7.55" fill="#ffffff"/>
<rect x="450.40" y="67.87" width="3.48" height="7.55" fill="#e1f6e1"/>
<rect x="453.28" y="67.87" width="3.48" height="7.55" fill="#d9f4d9"/>
<rect x="456.17" y="67.87" width="3.48" height="7.55" fill="#e1f6e1"/>
<rect x="459.05" y="67.87" width="3.48" height="7.55" fill="#d9f4d9"/>
<rect x="461.93" y="67.87" width="3.48" height="7.55" fill="#d9f4d9"/>
<rect x="464.82" y="67.87" width="2.88" height="7.55" fill="#ccf0cc"/>
<rect x="415.80" y="74.82" width="3.48" height="7.55" fill="#d6f3d6"/>
<rect x="418.68" y="74.82" width="3.48" height="7.55" fill="#eaf9ea"/>
<rect x="421.57" y="74.82" width="3.48" height="7.55" fill="#c5eec5"/>
<rect x="424.45" y="74.82" width="3.48" height="7.55" fill="#eefaee"/>
<rect x="427.33" y="74.82" width="3.48" height="7.55" fill="#f9fdf9"/>
<rect x="430.22" y="74.82" width="3.48" height="7.55" fill="#eaf9ea"/>
<rect x="433.10" y="74.82" width="3.48" height="7.55" fill="#ffffff"/>
<rect x="435.98" y="74.82" width="3.48" height="7.55" fill="#ffffff"/>
<rect x="438.87" y="74.82" width="3.48" height="7.55" fill="#e6f8e6"/>
<rect x="441.75" y="74.82" width="3.48" height="7.55" fill="#ccf0cc"/>
<rect x="444.63" y="74.82" width="3.48" height="7.55" fill="#d9f4d9"/>
<rect x="447.52" y="74.82" width="3.48" height="7.55" fill="#d9f4d9"/>
<rect x="450.40" y="74.82" width="3.48" height="7.55" fill="#ccf0cc"/>
<rect x="453.28" y="74.82" width="3.48" height="7.55" fill="#d9f4d9"/>
<rect x="456.17" y="74.82" width="3.48" height="7.55" fill="#e1f6e1"/>
<rect x="459.05" y="74.82" width="3.48" height="7.55" fill="#d9f4d9"/>
<rect x="461.93" y="74.82" width="3.48" height="7.55" fill="#b3e9b3"/>
<rect x="464.82" y="74.82" width="2.88" height="7.55" fill="#c0edc0"/>
<rect x="415.80" y="81.77" width="3.48" height="7.55" fill="#ddf5dd"/>
<rect x="418.68" y="81.77" width="3.48" height="7.55" fill="#e9f9e9"/>
<rect x="421.57" y="81.77" width="3.48" height="7.55" fill="#e5f8e5"/>
<rect x="424.45" y="81.77" width="3.48" height="7.55" fill="#e0f6e0"/>
<rect x="427.33" y="81.77" width="3.48" height="7.55" fill="#d9f4d9"/>
<rect x="430.22" y="81.77" width="3.48" height="7.55" fill="#e7f8e7"/>
<rect x="433.10" y="81.77" width="3.48" height="7.55" fill="#ffffff"/>
<rect x="435.98" y="81.77" width="3.48" height="7.55" fill="#ffffff"/>
<rect x="438.87" y="81.77" width="3.48" height="7.55" fill="#d9f4d9"/>
<rect x="441.75" y="81.77" width="3.48" height="7.55" fill="#ccf0cc"/>
<rect x="444.63" y="81.77" width="3.48" height="7.55" fill="#d9f4d9"/>
<rect x="447.52" y="81.77" width="3.48" height="7.55" fill="#ccf0cc"/>
<rect x="450.40" y="81.77" width="3.48" height="7.55" fill="#d9f4d9"/>
<rect x="453.28" y="81.77" width="3.48" height="7.55" fill="#ccf0cc"/>
<rect x="456.17" y="81.77" width="3.48" height="7.55" fill="#d9f4d9"/>
<rect x="459.05" y="81.77" width="3.48" height="7.55" fill="#ccf0cc"/>
<rect x="461.93" y="81.77" width="3.48" height="7.55" fill="#ccf0cc"/>
<rect x="464.82" y="81.77" width="2.88" height="7.55" fill="#ccf0cc"/>
<rect x="415.80" y="88.73" width="3.48" height="7.55" fill="#c7efc7"/>
<rect x="418.68" y="88.73" width="3.48" height="7.55" fill="#ace7ac"/>
<rect x="421.57" y="88.73" width="3.48" height="7.55" fill="#a7e6a7"/>
<rect x="424.45" y="88.73" width="3.48" height="7.55" fill="#b8eab8"/>
<rect x="427.33" y="88.73" width="3.48" height="7.55" fill="#b6eab6"/>
<rect x="430.22" y="88.73" width="3.48" height="7.55" fill="#bbecbb"/>
<rect x="433.10" y="88.73" width="3.48" height="7.55" fill="#ffffff"/>
<rect x="435.98" y="88.73" width="3.48" height="7.55" fill="#ffffff"/>
<rect x="438.87" y="88.73" width="3.48" height="7.55" fill="#74d774"/>
<rect x="441.75" y="88.73" width="3.48" height="7.55" fill="#67d367"/>
<rect x="444.63" y="88.73" width="3.48" height="7.55" fill="#0fba0f"/>
<rect x="447.52" y="88.73" width="3.48" height="7.55" fill="#0fba0f"/>
<rect x="450.40" y="88.73" width="3.48" height="7.55" fill="#02b602"/>
<rect x="453.28" y="88.73" width="3.48" height="7.55" fill="#02b602"/>
<rect x="456.17" y="88.73" width="3.48" height="7.55" fill="#02b602"/>
<rect x="459.05" y="88.73" width="3.48" height="7.55" fill="#02b602"/>
<rect x="461.93" y="88.73" width="3.48" height="7.55" fill="#02b602"/>
<rect x="464.82" y="88.73" width="2.88" height="7.55" fill="#02b602"/>
<rect x="415.80" y="95.68" width="3.48" height="7.55" fill="#ccf0cc"/>
<rect x="418.68" y="95.68" width="3.48" height="7.55" fill="#d9f4d9"/>
<rect x="421.57" y="95.68" width="3.48" height="7.55" fill="#ffffff"/>
<rect x="424.45" y="95.68" width="3.48" height="7.55" fill="#ffffff"/>
<rect x="427.33" y="95.68" width="3.48" height="7.55" fill="#e6f8e6"/>
<rect x="430.22" y="95.68" width="3.48" height="7.55" fill="#d9f4d9"/>
<rect x="433.10" y="95.68" width="3.48" height="7.55" fill="#ffffff"/>
<rect x="435.98" y="95.68" width="3.48" height="7.55" fill="#ffffff"/>
<rect x="438.87" y="95.68" width="3.48" height="7.55" fill="#e6f8e6"/>
<rect x="441.75" y="95.68" width="3.48" height="7.55" fill="#d9f4d9"/>
<rect x="444.63" y="95.68" width="3.48" height="7.55" fill="#ccf0cc"/>
<rect x="447.52" y="95.68" width="3.48" height="7.55" fill="#d9f4d9"/>
<rect x="450.40" y="95.68" width="3.48" height="7.55" fill="#c0edc0"/>
<rect x="453.28" y="95.68" width="3.48" height="7.55" fill="#b3e9b3"/>
<rect x="456.17" y="95.68" width="3.48" height="7.55" fill="#ccf0cc"/>
<rect x="459.05" y="95.68" width="3.48" height="7.55" fill="#d9f4d9"/>
<rect x="461.93" y="95.68" width="3.48" height="7.55" fill="#ccf0cc"/>
<rect x="464.82" y="95.68" width="2.88" height="7.55" fill="#ccf0cc"/>
<rect x="415.80" y="102.63" width="3.48" height="7.55" fill="#b3e9b3"/>
<rect x="418.68" y="102.63" width="3.48" height="7.55" fill="#b3e9b3"/>
<rect x="421.57" y="102.63" width="3.48" height="7.55" fill="#67d367"/>
<rect x="424.45" y="102.63" width="3.48" height="7.55" fill="#74d774"/>
<rect x="427.33" y="102.63" width="3.48" height="7.55" fill="#b3e9b3"/>
<rect x="430.22" y="102.63" width="3.48" height="7.55" fill="#b3e9b3"/>
<rect x="433.10" y="102.63" width="3.48" height="7.55" fill="#ffffff"/>
<rect x="435.98" y="102.63" width="3.48" height="7.55" fill="#ffffff"/>
<rect x="438.87" y="102.63" width="3.48" height="7.55" fill="#9ae29a"/>
<rect x="441.75" y="102.63" width="3.48" height="7.55" fill="#9ae29a"/>
<rect x="444.63" y="102.63" width="3.48" height="7.55" fill="#b3e9b3"/>
<rect x="447.52" y="102.63" width="3.48" height="7.55" fill="#a6e5a6"/>
<rect x="450.40" y="102.63" width="3.48" height="7.55" fill="#b3e9b3"/>
<rect x="453.28" y="102.63" width="3.48" height="7.55" fill="#9ae29a"/>
<rect x="456.17" y="102.63" width="3.48" height="7.55" fill="#8dde8d"/>
<rect x="459.05" y="102.63" width="3.48" height="7.55" fill="#9ae29a"/>
<rect x="461.93" y="102.63" width="3.48" height="7.55" fill="#8dde8d"/>
<rect x="464.82" y="102.63" width="2.88" height="7.55" fill="#9ae29a"/>
<rect x="415.80" y="109.59" width="3.48" height="7.55" fill="#f5fcf5"/>
<rect x="418.68" y="109.59" width="3.48" height="7.55" fill="#f9fdf9"/>
<rect x="421.57" y="109.59" width="3.48" height="7.55" fill="#f9fdf9"/>
<rect x="424.45" y="109.59" width="3.48" height="7.55" fill="#dcf5dc"/>
<rect x="427.33" y="109.59" width="3.48" height="7.55" fill="#e3f7e3"/>
<rect x="430.22" y="109.59" width="3.48" height="7.55" fill="#daf4da"/>
<rect x="433.10" y="109.59" width="3.48" height="7.55" fill="#ffffff"/>
<rect x="435.98" y="109.59" width="3.48" height="7.55" fill="#ffffff"/>
<rect x="438.87" y="109.59" width="3.48" height="7.55" fill="#02b602"/>
<rect x="441.75" y="109.59" width="3.48" height="7.55" fill="#02b602"/>
<rect x="444.63" y="109.59" width="3.48" height="7.55" fill="#02b602"/>
<rect x="447.52" y="109.59" width="3.48" height="7.55" fill="#02b602"/>
<rect x="450.40" y="109.59" width="3.48" height="7.55" fill="#02b602"/>
<rect x="453.28" y="109.59" width="3.48" height="7.55" fill="#02b602"/>
<rect x="456.17" y="109.59" width="3.48" height="7.55" fill="#02b602"/>
<rect x="459.05" y="109.59" width="3.48" height="7.55" fill="#02b602"/>
<rect x="461.93" y="109.59" width="3.48" height="7.55" fill="#02b602"/>
<rect x="464.82" y="109.59" width="2.88" height="7.55" fill="#02b602"/>
<rect x="415.80" y="116.54" width="3.48" height="7.55" fill="#e0f6e0"/>
<rect x="418.68" y="116.54" width="3.48" height="7.55" fill="#ccf0cc"/>
<rect x="421.57" y="116.54" width="3.48" height="7.55" fill="#d1f2d1"/>
<rect x="424.45" y="116.54" width="3.48" height="7.55" fill="#c9efc9"/>
<rect x="427.33" y="116.54" width="3.48" height="7.55" fill="#d6f3d6"/>
<rect x="430.22" y="116.54" width="3.48" height="7.55" fill="#c0edc0"/>
<rect x="433.10" y="116.54" width="3.48" height="7.55" fill="#ffffff"/>
<rect x="435.98" y="116.54" width="3.48" height="7.55" fill="#ffffff"/>
<rect x="438.87" y="116.54" width="3.48" height="7.55" fill="#ccf0cc"/>
<rect x="441.75" y="116.54" width="3.48" height="7.55" fill="#d9f4d9"/>
<rect x="444.63" y="116.54" width="3.48" height="7.55" fill="#b3e9b3"/>
<rect x="447.52" y="116.54" width="3.48" height="7.55" fill="#c0edc0"/>
<rect x="450.40" y="116.54" width="3.48" height="7.55" fill="#d9f4d9"/>
<rect x="453.28" y="116.54" width="3.48" height="7.55" fill="#e1f6e1"/>
<rect x="456.17" y="116.54" width="3.48" height="7.55" fill="#d9f4d9"/>
<rect x="459.05" y="116.54" width="3.48" height="7.55" fill="#e1f6e1"/>
<rect x="461.93" y="116.54" width="3.48" height="7.55" fill="#d9f4d9"/>
<rect x="464.82" y="116.54" width="2.88" height="7.55" fill="#e1f6e1"/>
<rect x="415.80" y="123.49" width="3.48" height="7.55" fill="#fdfffd"/>
<rect x="418.68" y="123.49" width="3.48" height="7.55" fill="#f4fcf4"/>
<rect x="421.57" y="123.49" width="3.48" height="7.55" fill="#f0fbf0"/>
<rect x="424.45" y="123.49" width="3.48" height="7.55" fill="#edfaed"/>
<rect x="427.33" y="123.49" width="3.48" height="7.55" fill="#f0fbf0"/>
<rect x="430.22" y="123.49" width="3.48" height="7.55" fill="#f1fbf1"/>
<rect x="433.10" y="123.49" width="3.48" height="7.55" fill="#ffffff"/>
<rect x="435.98" y="123.49" width="3.48" height="7.55" fill="#ffffff"/>
<rect x="438.87" y="123.49" width="3.48" height="7.55" fill="#02b602"/>
<rect x="441.75" y="123.49" width="3.48" height="7.55" fill="#02b602"/>
<rect x="444.63" y="123.49" width="3.48" height="7.55" fill="#02b602"/>
<rect x="447.52" y="123.49" width="3.48" height="7.55" fill="#02b602"/>
<rect x="450.40" y="123.49" width="3.48" height="7.55" fill="#02b602"/>
<rect x="453.28" y="123.49" width="3.48" height="7.55" fill="#02b602"/>
<rect x="456.17" y="123.49" width="3.48" height="7.55" fill="#02b602"/>
<rect x="459.05" y="123.49" width="3.48" height="7.55" fill="#02b602"/>
<rect x="461.93" y="123.49" width="3.48" height="7.55" fill="#02b602"/>
<rect x="464.82" y="123.49" width="2.88" height="7.55" fill="#02b602"/>
<rect x="415.80" y="130.45" width="3.48" height="6.95" fill="#e6f8e6"/>
<rect x="418.68" y="130.45" width="3.48" height="6.95" fill="#e6f8e6"/>
<rect x="421.57" y="130.45" width="3.48" height="6.95" fill="#8dde8d"/>
<rect x="424.45" y="130.45" width="3.48" height="6.95" fill="#9ae29a"/>
<rect x="427.33" y="130.45" width="3.48" height="6.95" fill="#d9f4d9"/>
<rect x="430.22" y="130.45" width="3.48" height="6.95" fill="#e6f8e6"/>
<rect x="433.10" y="130.45" width="3.48" height="6.95" fill="#ffffff"/>
<rect x="435.98" y="130.45" width="3.48" height="6.95" fill="#ffffff"/>
<rect x="438.87" y="130.45" width="3.48" height="6.95" fill="#d7f3d7"/>
<rect x="441.75" y="130.45" width="3.48" height="6.95" fill="#d4f2d4"/>
<rect x="444.63" y="130.45" width="3.48" height="6.95" fill="#e2f7e2"/>
<rect x="447.52" y="130.45" width="3.48" height="6.95" fill="#d9f4d9"/>
<rect x="450.40" y="130.45" width="3.48" height="6.95" fill="#d4f3d4"/>
<rect x="453.28" y="130.45" width="3.48" height="6.95" fill="#d5f3d5"/>
<rect x="456.17" y="130.45" width="3.48" height="6.95" fill="#e0f6e0"/>
<rect x="459.05" y="130.45" width="3.48" height="6.95" fill="#d7f3d7"/>
<rect x="461.93" y="130.45" width="3.48" height="6.95" fill="#d5f3d5"/>
<rect x="464.82" y="130.45" width="2.88" height="6.95" fill="#dcf5dc"/>
<rect x="470.80" y="33.10" width="3.48" height="7.55" fill="#e5f8e5"/>
<rect x="473.68" y="33.10" width="3.48" height="7.55" fill="#edfaed"/>
<rect x="476.57" y="33.10" width="3.48" height="7.55" fill="#e7f8e7"/>
<rect x="479.45" y="33.10" width="3.48" height="7.55" fill="#e6f8e6"/>
<rect x="482.33" y="33.10" width="3.48" height="7.55" fill="#f7fdf7"/>
<rect x="485.22" y="33.10" width="3.48" height="7.55" fill="#e5f7e5"/>
<rect x="488.10" y="33.10" width="3.48" height="7.55" fill="#4ecc4e"/>
<rect x="490.98" y="33.10" width="3.48" height="7.55" fill="#80da80"/>
<rect x="493.87" y="33.10" width="3.48" height="7.55" fill="#67d367"/>
<rect x="496.75" y="33.10" width="3.48" height="7.55" fill="#80da80"/>
<rect x="499.63" y="33.10" width="3.48" height="7.55" fill="#9ae29a"/>
<rect x="502.52" y="33.10" width="2.88" height="7.55" fill="#b3e9b3"/>
<rect x="470.80" y="40.05" width="3.48" height="7.55" fill="#c0edc0"/>
<rect x="473.68" y="40.05" width="3.48" height="7.55" fill="#c6efc6"/>
<rect x="476.57" y="40.05" width="3.48" height="7.55" fill="#cef1ce"/>
<rect x="479.45" y="40.05" width="3.48" height="7.55" fill="#dff6df"/>
<rect x="482.33" y="40.05" width="3.48" height="7.55" fill="#cdf1cd"/>
<rect x="485.22" y="40.05" width="3.48" height="7.55" fill="#d5f3d5"/>
<rect x="488.10" y="40.05" width="3.48" height="7.55" fill="#02b602"/>
<rect x="490.98" y="40.05" width="3.48" height="7.55" fill="#02b602"/>
<rect x="493.87" y="40.05" width="3.48" height="7.55" fill="#02b602"/>
<rect x="496.75" y="40.05" width="3.48" height="7.55" fill="#02b602"/>
<rect x="499.63" y="40.05" width="3.48" height="7.55" fill="#35c535"/>
<rect x="502.52" y="40.05" width="2.88" height="7.55" fill="#80da80"/>
<rect x="470.80" y="47.01" width="3.48" height="7.55" fill="#e6f8e6"/>
<rect x="473.68" y="47.01" width="3.48" height="7.55" fill="#d4f3d4"/>
<rect x="476.57" y="47.01" width="3.48" height="7.55" fill="#f6fcf6"/>
<rect x="479.45" y="47.01" width="3.48" height="7.55" fill="#d8f4d8"/>
<rect x="482.33" y="47.01" width="3.48" height="7.55" fill="#f9fdf9"/>
<rect x="485.22" y="47.01" width="3.48" height="7.55" fill="#dff6df"/>
<rect x="488.10" y="47.01" width="3.48" height="7.55" fill="#02b602"/>
<rect x="490.98" y="47.01" width="3.48" height="7.55" fill="#02b602"/>
<rect x="493.87" y="47.01" width="3.48" height="7.55" fill="#02b602"/>
<rect x="496.75" y="47.01" width="3.48" height="7.55" fill="#4ecc4e"/>
<rect x="499.63" y="47.01" width="3.48" height="7.55" fill="#9ae29a"/>
<rect x="502.52" y="47.01" width="2.88" height="7.55" fill="#b3e9b3"/>
<rect x="470.80" y="53.96" width="3.48" height="7.55" fill="#d4f3d4"/>
<rect x="473.68" y="53.96" width="3.48" height="7.55" fill="#e4f7e4"/>
<rect x="476.57" y="53.96" width="3.48" height="7.55" fill="#c6efc6"/>
<rect x="479.45" y="53.96" width="3.48" height="7.55" fill="#d3f2d3"/>
<rect x="482.33" y="53.96" width="3.48" height="7.55" fill="#cbf0cb"/>
<rect x="485.22" y="53.96" width="3.48" height="7.55" fill="#b8ebb8"/>
<rect x="488.10" y="53.96" width="3.48" height="7.55" fill="#02b602"/>
<rect x="490.98" y="53.96" width="3.48" height="7.55" fill="#02b602"/>
<rect x="493.87" y="53.96" width="3.48" height="7.55" fill="#02b602"/>
<rect x="496.75" y="53.96" width="3.48" height="7.55" fill="#02b602"/>
<rect x="499.63" y="53.96" width="3.48" height="7.55" fill="#4ecc4e"/>
<rect x="502.52" y="53.96" width="2.88" height="7.55" fill="#80da80"/>
<rect x="470.80" y="60.91" width="3.48" height="7.55" fill="#e6f8e6"/>
<rect x="473.68" y="60.91" width="3.48" height="7.55" fill="#ffffff"/>
<rect x="476.57" y="60.91" width="3.48" height="7.55" fill="#a6e5a6"/>
<rect x="479.45" y="60.91" width="3.48" height="7.55" fill="#ccf0cc"/>
<rect x="482.33" y="60.91" width="3.48" height="7.55" fill="#e6f8e6"/>
<rect x="485.22" y="60.91" width="3.48" height="7.55" fill="#e6f8e6"/>
<rect x="488.10" y="60.91" width="3.48" height="7.55" fill="#02b602"/>
<rect x="490.98" y="60.91" width="3.48" height="7.55" fill="#02b602"/>
<rect x="493.87" y="60.91" width="3.48" height="7.55" fill="#02b602"/>
<rect x="496.75" y="60.91" width="3.48" height="7.55" fill="#1bbd1b"/>
<rect x="499.63" y="60.91" width="3.48" height="7.55" fill="#67d367"/>
<rect x="502.52" y="60.91" width="2.88" height="7.55" fill="#35c535"/>
<rect x="470.80" y="67.87" width="3.48" height="7.55" fill="#b3e9b3"/>
<rect x="473.68" y="67.87" width="3.48" height="7.55" fill="#e6f8e6"/>
<rect x="476.57" y="67.87" width="3.48" height="7.55" fill="#e6f8e6"/>
<rect x="479.45" y="67.87" width="3.48" height="7.55" fill="#ccf0cc"/>
<rect x="482.33" y="67.87" width="3.48" height="7.55" fill="#9ae29a"/>
<rect x="485.22" y="67.87" width="3.48" height="7.55" fill="#d9f4d9"/>
<rect x="488.10" y="67.87" width="3.48" height="7.55" fill="#02b602"/>
<rect x="490.98" y="67.87" width="3.48" height="7.55" fill="#02b602"/>
<rect x="493.87" y="67.87" width="3.48" height="7.55" fill="#02b602"/>
<rect x="496.75" y="67.87" width="3.48" height="7.55" fill="#02b602"/>
<rect x="499.63" y="67.87" width="3.48" height="7.55" fill="#4ecc4e"/>
<rect x="502.52" y="67.87" width="2.88" height="7.55" fill="#9ae29a"/>
<rect x="470.80" y="74.82" width="3.48" height="7.55" fill="#d6f3d6"/>
<rect x="473.68" y="74.82" width="3.48" height="7.55" fill="#e5f7e5"/>
<rect x="476.57" y="74.82" width="3.48" height="7.55" fill="#d3f2d3"/>
<rect x="479.45" y="74.82" width="3.48" height="7.55" fill="#bbebbb"/>
<rect x="482.33" y="74.82" width="3.48" height="7.55" fill="#d9f4d9"/>
<rect x="485.22" y="74.82" width="3.48" height="7.55" fill="#dbf5db"/>
<rect x="488.10" y="74.82" width="3.48" height="7.55" fill="#02b602"/>
<rect x="490.98" y="74.82" width="3.48" height="7.55" fill="#02b602"/>
<rect x="493.87" y="74.82" width="3.48" height="7.55" fill="#02b602"/>
<rect x="496.75" y="74.82" width="3.48" height="7.55" fill="#02b602"/>
<rect x="499.63" y="74.82" width="3.48" height="7.55" fill="#02b602"/>
<rect x="502.52" y="74.82" width="2.88" height="7.55" fill="#02b602"/>
<rect x="470.80" y="81.77" width="3.48" height="7.55" fill="#f2fbf2"/>
<rect x="473.68" y="81.77" width="3.48" height="7.55" fill="#e6f8e6"/>
<rect x="476.57" y="81.77" width="3.48" height="7.55" fill="#ffffff"/>
<rect x="479.45" y="81.77" width="3.48" height="7.55" fill="#b3e9b3"/>
<rect x="482.33" y="81.77" width="3.48" height="7.55" fill="#a6e5a6"/>
<rect x="485.22" y="81.77" width="3.48" height="7.55" fill="#e6f8e6"/>
<rect x="488.10" y="81.77" width="3.48" height="7.55" fill="#02b602"/>
<rect x="490.98" y="81.77" width="3.48" height="7.55" fill="#02b602"/>
<rect x="493.87" y="81.77" width="3.48" height="7.55" fill="#02b602"/>
<rect x="496.75" y="81.77" width="3.48" height="7.55" fill="#35c535"/>
<rect x="499.63" y="81.77" width="3.48" height="7.55" fill="#67d367"/>
<rect x="502.52" y="81.77" width="2.88" height="7.55" fill="#80da80"/>
<rect x="470.80" y="88.73" width="3.48" height="7.55" fill="#abe7ab"/>
<rect x="473.68" y="88.73" width="3.48" height="7.55" fill="#b8eab8"/>
<rect x="476.57" y="88.73" width="3.48" height="7.55" fill="#c3eec3"/>
<rect x="479.45" y="88.73" width="3.48" height="7.55" fill="#ace7ac"/>
<rect x="482.33" y="88.73" width="3.48" height="7.55" fill="#c9efc9"/>
<rect x="485.22" y="88.73" width="3.48" height="7.55" fill="#b7eab7"/>
<rect x="488.10" y="88.73" width="3.48" height="7.55" fill="#02b602"/>
<rect x="490.98" y="88.73" width="3.48" height="7.55" fill="#02b602"/>
<rect x="493.87" y="88.73" width="3.48" height="7.55" fill="#02b602"/>
<rect x="496.75" y="88.73" width="3.48" height="7.55" fill="#02b602"/>
<rect x="499.63" y="88.73" width="3.48" height="7.55" fill="#02b602"/>
<rect x="502.52" y="88.73" width="2.88" height="7.55" fill="#02b602"/>
<rect x="470.80" y="95.68" width="3.48" height="7.55" fill="#ccf0cc"/>
<rect x="473.68" y="95.68" width="3.48" height="7.55" fill="#beecbe"/>
<rect x="476.57" y="95.68" width="3.48" height="7.55" fill="#a6e5a6"/>
<rect x="479.45" y="95.68" width="3.48" height="7.55" fill="#9fe39f"/>
<rect x="482.33" y="95.68" width="3.48" height="7.55" fill="#a1e4a1"/>
<rect x="485.22" y="95.68" width="3.48" height="7.55" fill="#c1edc1"/>
<rect x="488.10" y="95.68" width="3.48" height="7.55" fill="#02b602"/>
<rect x="490.98" y="95.68" width="3.48" height="7.55" fill="#02b602"/>
<rect x="493.87" y="95.68" width="3.48" height="7.55" fill="#02b602"/>
<rect x="496.75" y="95.68" width="3.48" height="7.55" fill="#02b602"/>
<rect x="499.63" y="95.68" width="3.48" height="7.55" fill="#02b602"/>
<rect x="502.52" y="95.68" width="2.88" height="7.55" fill="#02b602"/>
<rect x="470.80" y="102.63" width="3.48" height="7.55" fill="#b3e9b3"/>
<rect x="473.68" y="102.63" width="3.48" height="7.55" fill="#9ae29a"/>
<rect x="476.57" y="102.63" width="3.48" height="7.55" fill="#c0edc0"/>
<rect x="479.45" y="102.63" width="3.48" height="7.55" fill="#ccf0cc"/>
<rect x="482.33" y="102.63" width="3.48" height="7.55" fill="#a6e5a6"/>
<rect x="485.22" y="102.63" width="3.48" height="7.55" fill="#b3e9b3"/>
<rect x="488.10" y="102.63" width="3.48" height="7.55" fill="#02b602"/>
<rect x="490.98" y="102.63" width="3.48" height="7.55" fill="#02b602"/>
<rect x="493.87" y="102.63" width="3.48" height="7.55" fill="#02b602"/>
<rect x="496.75" y="102.63" width="3.48" height="7.55" fill="#02b602"/>
<rect x="499.63" y="102.63" width="3.48" height="7.55" fill="#02b602"/>
<rect x="502.52" y="102.63" width="2.88" height="7.55" fill="#02b602"/>
<rect x="470.80" y="109.59" width="3.48" height="7.55" fill="#dff6df"/>
<rect x="473.68" y="109.59" width="3.48" height="7.55" fill="#ecf9ec"/>
<rect x="476.57" y="109.59" width="3.48" height="7.55" fill="#f4fcf4"/>
<rect x="479.45" y="109.59" width="3.48" height="7.55" fill="#e3f7e3"/>
<rect x="482.33" y="109.59" width="3.48" height="7.55" fill="#d4f3d4"/>
<rect x="485.22" y="109.59" width="3.48" height="7.55" fill="#d3f2d3"/>
<rect x="488.10" y="109.59" width="3.48" height="7.55" fill="#b3e9b3"/>
<rect x="490.98" y="109.59" width="3.48" height="7.55" fill="#67d367"/>
<rect x="493.87" y="109.59" width="3.48" height="7.55" fill="#02b602"/>
<rect x="496.75" y="109.59" width="3.48" height="7.55" fill="#02b602"/>
<rect x="499.63" y="109.59" width="3.48" height="7.55" fill="#02b602"/>
<rect x="502.52" y="109.59" width="2.88" height="7.55" fill="#02b602"/>
<rect x="470.80" y="116.54" width="3.48" height="7.55" fill="#d7f4d7"/>
<rect x="473.68" y="116.54" width="3.48" height="7.55" fill="#cef1ce"/>
<rect x="476.57" y="116.54" width="3.48" height="7.55" fill="#e8f8e8"/>
<rect x="479.45" y="116.54" width="3.48" height="7.55" fill="#ecf9ec"/>
<rect x="482.33" y="116.54" width="3.48" height="7.55" fill="#e1f6e1"/>
<rect x="485.22" y="116.54" width="3.48" height="7.55" fill="#e8f8e8"/>
<rect x="488.10" y="116.54" width="3.48" height="7.55" fill="#b3e9b3"/>
<rect x="490.98" y="116.54" width="3.48" height="7.55" fill="#4ecc4e"/>
<rect x="493.87" y="116.54" width="3.48" height="7.55" fill="#02b602"/>
<rect x="496.75" y="116.54" width="3.48" height="7.55" fill="#02b602"/>
<rect x="499.63" y="116.54" width="3.48" height="7.55" fill="#02b602"/>
<rect x="502.52" y="116.54" width="2.88" height="7.55" fill="#02b602"/>
<rect x="470.80" y="123.49" width="3.48" height="7.55" fill="#f3fcf3"/>
<rect x="473.68" y="123.49" width="3.48" height="7.55" fill="#ecfaec"/>
<rect x="476.57" y="123.49" width="3.48" height="7.55" fill="#e5f8e5"/>
<rect x="479.45" y="123.49" width="3.48" height="7.55" fill="#eaf9ea"/>
<rect x="482.33" y="123.49" width="3.48" height="7.55" fill="#f0fbf0"/>
<rect x="485.22" y="123.49" width="3.48" height="7.55" fill="#def6de"/>
<rect x="488.10" y="123.49" width="3.48" height="7.55" fill="#1bbd1b"/>
<rect x="490.98" y="123.49" width="3.48" height="7.55" fill="#0fba0f"/>
<rect x="493.87" y="123.49" width="3.48" height="7.55" fill="#1bbd1b"/>
<rect x="496.75" y="123.49" width="3.48" height="7.55" fill="#67d367"/>
<rect x="499.63" y="123.49" width="3.48" height="7.55" fill="#9ae29a"/>
<rect x="502.52" y="123.49" width="2.88" height="7.55" fill="#b3e9b3"/>
<rect x="470.80" y="130.45" width="3.48" height="6.95" fill="#daf4da"/>
<rect x="473.68" y="130.45" width="3.48" height="6.95" fill="#ebf9eb"/>
<rect x="476.57" y="130.45" width="3.48" height="6.95" fill="#f7fdf7"/>
<rect x="479.45" y="130.45" width="3.48" height="6.95" fill="#f9fdf9"/>
<rect x="482.33" y="130.45" width="3.48" height="6.95" fill="#ddf5dd"/>
<rect x="485.22" y="130.45" width="3.48" height="6.95" fill="#f9fdf9"/>
<rect x="488.10" y="130.45" width="3.48" height="6.95" fill="#35c535"/>
<rect x="490.98" y="130.45" width="3.48" height="6.95" fill="#1bbd1b"/>
<rect x="493.87" y="130.45" width="3.48" height="6.95" fill="#35c535"/>
<rect x="496.75" y="130.45" width="3.48" height="6.95" fill="#80da80"/>
<rect x="499.63" y="130.45" width="3.48" height="6.95" fill="#a6e5a6"/>
<rect x="502.52" y="130.45" width="2.88" height="6.95" fill="#c0edc0"/>
<line x1="376.60" y1="53.96" x2="411.00" y2="53.96" stroke="#000" stroke-width="0.9"/>
<line x1="376.60" y1="88.73" x2="411.00" y2="88.73" stroke="#000" stroke-width="0.9"/>
<line x1="376.60" y1="109.59" x2="411.00" y2="109.59" stroke="#000" stroke-width="0.9"/>
<line x1="376.60" y1="123.49" x2="411.00" y2="123.49" stroke="#000" stroke-width="0.9"/>
<rect x="376.60" y="33.10" width="34.40" height="104.30" fill="none" stroke="#000" stroke-width="0.9"/>
<line x1="415.80" y1="53.96" x2="467.70" y2="53.96" stroke="#000" stroke-width="0.9"/>
<line x1="415.80" y1="88.73" x2="467.70" y2="88.73" stroke="#000" stroke-width="0.9"/>
<line x1="415.80" y1="109.59" x2="467.70" y2="109.59" stroke="#000" stroke-width="0.9"/>
<line x1="415.80" y1="123.49" x2="467.70" y2="123.49" stroke="#000" stroke-width="0.9"/>
<rect x="415.80" y="33.10" width="51.90" height="104.30" fill="none" stroke="#000" stroke-width="0.9"/>
<line x1="470.80" y1="53.96" x2="505.40" y2="53.96" stroke="#000" stroke-width="0.9"/>
<line x1="470.80" y1="88.73" x2="505.40" y2="88.73" stroke="#000" stroke-width="0.9"/>
<line x1="470.80" y1="109.59" x2="505.40" y2="109.59" stroke="#000" stroke-width="0.9"/>
<line x1="470.80" y1="123.49" x2="505.40" y2="123.49" stroke="#000" stroke-width="0.9"/>
<rect x="470.80" y="33.10" width="34.60" height="104.30" fill="none" stroke="#000" stroke-width="0.9"/>
<line x1="374.20" y1="33.10" x2="376.60" y2="33.10" stroke="#000" stroke-width="0.8"/>
<line x1="374.20" y1="53.96" x2="376.60" y2="53.96" stroke="#000" stroke-width="0.8"/>
<line x1="374.20" y1="88.73" x2="376.60" y2="88.73" stroke="#000" stroke-width="0.8"/>
<line x1="374.20" y1="109.59" x2="376.60" y2="109.59" stroke="#000" stroke-width="0.8"/>
<line x1="374.20" y1="123.49" x2="376.60" y2="123.49" stroke="#000" stroke-width="0.8"/>
<line x1="374.20" y1="137.40" x2="376.60" y2="137.40" stroke="#000" stroke-width="0.8"/>
<rect x="434.40" y="33.60" width="2.60" height="5.60" fill="#ee1c2e"/>
<rect x="434.40" y="54.46" width="2.60" height="5.60" fill="#ee1c2e"/>
<rect x="434.40" y="89.23" width="2.60" height="5.60" fill="#ee1c2e"/>
<rect x="434.40" y="110.09" width="2.60" height="5.60" fill="#ee1c2e"/>
<rect x="434.40" y="123.99" width="2.60" height="5.60" fill="#ee1c2e"/>
<line x1="382.33" y1="30.90" x2="382.33" y2="33.10" stroke="#000" stroke-width="0.8"/>
<text x="381.13" y="29.40" font-size="8.8" fill="#000" text-anchor="middle">-2</text>
<line x1="393.80" y1="30.90" x2="393.80" y2="33.10" stroke="#000" stroke-width="0.8"/>
<text x="393.80" y="29.40" font-size="8.8" fill="#000" text-anchor="middle">0</text>
<line x1="405.27" y1="30.90" x2="405.27" y2="33.10" stroke="#000" stroke-width="0.8"/>
<text x="405.27" y="29.40" font-size="8.8" fill="#000" text-anchor="middle">2</text>
<line x1="427.33" y1="30.90" x2="427.33" y2="33.10" stroke="#000" stroke-width="0.8"/>
<text x="426.13" y="29.40" font-size="8.8" fill="#000" text-anchor="middle">-2</text>
<line x1="438.87" y1="30.90" x2="438.87" y2="33.10" stroke="#000" stroke-width="0.8"/>
<text x="438.87" y="29.40" font-size="8.8" fill="#000" text-anchor="middle">0</text>
<line x1="450.40" y1="30.90" x2="450.40" y2="33.10" stroke="#000" stroke-width="0.8"/>
<text x="450.40" y="29.40" font-size="8.8" fill="#000" text-anchor="middle">2</text>
<line x1="461.93" y1="30.90" x2="461.93" y2="33.10" stroke="#000" stroke-width="0.8"/>
<text x="461.93" y="29.40" font-size="8.8" fill="#000" text-anchor="middle">4</text>
<line x1="476.57" y1="30.90" x2="476.57" y2="33.10" stroke="#000" stroke-width="0.8"/>
<text x="475.37" y="29.40" font-size="8.8" fill="#000" text-anchor="middle">-2</text>
<line x1="488.10" y1="30.90" x2="488.10" y2="33.10" stroke="#000" stroke-width="0.8"/>
<text x="488.10" y="29.40" font-size="8.8" fill="#000" text-anchor="middle">0</text>
<line x1="499.63" y1="30.90" x2="499.63" y2="33.10" stroke="#000" stroke-width="0.8"/>
<text x="499.63" y="29.40" font-size="8.8" fill="#000" text-anchor="middle">2</text>
<text x="368.30" y="46.30" font-size="8.6" fill="#000" text-anchor="middle">1</text>
<text x="368.30" y="73.90" font-size="8.6" fill="#000" text-anchor="middle">2</text>
<text x="368.30" y="101.90" font-size="8.6" fill="#000" text-anchor="middle">3</text>
<text x="368.30" y="119.00" font-size="8.6" fill="#000" text-anchor="middle">4</text>
<text x="368.30" y="133.00" font-size="8.6" fill="#000" text-anchor="middle">5</text>
<text x="360.70" y="75.40" font-size="12.9" fill="#000" text-anchor="middle" transform="rotate(-90 360.70 75.40)">Ensembles</text>
<line x1="505.40" y1="36.58" x2="507.60" y2="36.58" stroke="#000" stroke-width="0.8"/>
<text x="510.40" y="39.68" font-size="8.8" fill="#000" text-anchor="middle">1</text>
<line x1="505.40" y1="43.53" x2="507.60" y2="43.53" stroke="#000" stroke-width="0.8"/>
<text x="510.40" y="46.63" font-size="8.8" fill="#000" text-anchor="middle">2</text>
<line x1="505.40" y1="50.48" x2="507.60" y2="50.48" stroke="#000" stroke-width="0.8"/>
<text x="510.40" y="53.58" font-size="8.8" fill="#000" text-anchor="middle">3</text>
<line x1="505.40" y1="57.44" x2="507.60" y2="57.44" stroke="#000" stroke-width="0.8"/>
<text x="510.40" y="60.54" font-size="8.8" fill="#000" text-anchor="middle">1</text>
<line x1="505.40" y1="64.39" x2="507.60" y2="64.39" stroke="#000" stroke-width="0.8"/>
<text x="510.40" y="67.49" font-size="8.8" fill="#000" text-anchor="middle">2</text>
<line x1="505.40" y1="71.34" x2="507.60" y2="71.34" stroke="#000" stroke-width="0.8"/>
<text x="510.40" y="74.44" font-size="8.8" fill="#000" text-anchor="middle">3</text>
<line x1="505.40" y1="78.30" x2="507.60" y2="78.30" stroke="#000" stroke-width="0.8"/>
<text x="510.40" y="81.40" font-size="8.8" fill="#000" text-anchor="middle">4</text>
<line x1="505.40" y1="85.25" x2="507.60" y2="85.25" stroke="#000" stroke-width="0.8"/>
<text x="510.40" y="88.35" font-size="8.8" fill="#000" text-anchor="middle">5</text>
<line x1="505.40" y1="92.20" x2="507.60" y2="92.20" stroke="#000" stroke-width="0.8"/>
<text x="510.40" y="95.30" font-size="8.8" fill="#000" text-anchor="middle">1</text>
<line x1="505.40" y1="99.16" x2="507.60" y2="99.16" stroke="#000" stroke-width="0.8"/>
<text x="510.40" y="102.26" font-size="8.8" fill="#000" text-anchor="middle">2</text>
<line x1="505.40" y1="106.11" x2="507.60" y2="106.11" stroke="#000" stroke-width="0.8"/>
<text x="510.40" y="109.21" font-size="8.8" fill="#000" text-anchor="middle">3</text>
<line x1="505.40" y1="113.06" x2="507.60" y2="113.06" stroke="#000" stroke-width="0.8"/>
<text x="510.40" y="116.16" font-size="8.8" fill="#000" text-anchor="middle">1</text>
<line x1="505.40" y1="120.02" x2="507.60" y2="120.02" stroke="#000" stroke-width="0.8"/>
<text x="510.40" y="123.12" font-size="8.8" fill="#000" text-anchor="middle">2</text>
<line x1="505.40" y1="126.97" x2="507.60" y2="126.97" stroke="#000" stroke-width="0.8"/>
<text x="510.40" y="130.07" font-size="8.8" fill="#000" text-anchor="middle">1</text>
<line x1="505.40" y1="133.92" x2="507.60" y2="133.92" stroke="#000" stroke-width="0.8"/>
<text x="510.40" y="137.02" font-size="8.8" fill="#000" text-anchor="middle">2</text>
<text x="525.90" y="53.00" font-size="11.1" fill="#000" text-anchor="middle" transform="rotate(-90 525.90 53.00)">Neurons</text>
<text x="376.60" y="147.70" font-size="10.2" fill="#19c3e6" text-anchor="start">V.S.</text>
<rect x="393.90" y="137.70" width="10.90" height="4.10" fill="#14c6ec"/>
<text x="417.60" y="147.70" font-size="10.2" fill="#ec1c2e" text-anchor="start">P.S.</text>
<line x1="436.50" y1="141.40" x2="436.50" y2="146.00" stroke="#ec1c2e" stroke-width="1.4"/>
<path d="M436.5 138.0 L439.3 142.8 L436.5 141.7 L433.7 142.8 Z" fill="#ec1c2e"/>
<text x="472.00" y="147.70" font-size="10.2" fill="#19c3e6" text-anchor="start">V.S.</text>
<rect x="488.40" y="137.70" width="11.20" height="4.10" fill="#14c6ec"/>
<text x="519.70" y="95.60" font-size="8.2" fill="#000" text-anchor="start">ΔF/F<tspan font-size="62%" dy="1.2">0</tspan></text>
<rect x="520.9" y="99.3" width="5.0" height="3.9" fill="#02b602" stroke="#000" stroke-width="0.7"/>
<text x="528.60" y="104.20" font-size="8.8" fill="#000" text-anchor="start">&gt;1</text>
<rect x="520.90" y="109.90" width="5.00" height="3.94" fill="#12bb12"/>
<rect x="520.90" y="113.34" width="5.00" height="3.94" fill="#31c431"/>
<rect x="520.90" y="116.78" width="5.00" height="3.94" fill="#51cd51"/>
<rect x="520.90" y="120.21" width="5.00" height="3.94" fill="#71d671"/>
<rect x="520.90" y="123.65" width="5.00" height="3.94" fill="#90df90"/>
<rect x="520.90" y="127.09" width="5.00" height="3.94" fill="#b0e8b0"/>
<rect x="520.90" y="130.53" width="5.00" height="3.94" fill="#d0f1d0"/>
<rect x="520.90" y="133.96" width="5.00" height="3.44" fill="#effaef"/>
<rect x="520.9" y="109.9" width="5.0" height="27.5" fill="none" stroke="#000" stroke-width="0.7"/>
<text x="528.40" y="113.60" font-size="8.8" fill="#000" text-anchor="start">1</text>
<text x="528.40" y="140.30" font-size="8.8" fill="#000" text-anchor="start">0</text>
<text x="351.80" y="175.40" font-size="21" fill="#000" text-anchor="start">f</text>
<text x="442.80" y="167.60" font-size="12.9" fill="#000" text-anchor="middle">Time (s)</text>
<rect x="376.70" y="181.00" width="6.42" height="6.42" fill="#f2fbf2"/>
<rect x="382.52" y="181.00" width="6.42" height="6.42" fill="#f2fbf2"/>
<rect x="388.33" y="181.00" width="6.42" height="6.42" fill="#f2fbf2"/>
<rect x="394.15" y="181.00" width="6.42" height="6.42" fill="#74d774"/>
<rect x="399.97" y="181.00" width="6.42" height="6.42" fill="#8dde8d"/>
<rect x="405.78" y="181.00" width="5.82" height="6.42" fill="#ccf0cc"/>
<rect x="376.70" y="186.82" width="6.42" height="6.42" fill="#f2fbf2"/>
<rect x="382.52" y="186.82" width="6.42" height="6.42" fill="#f2fbf2"/>
<rect x="388.33" y="186.82" width="6.42" height="6.42" fill="#f2fbf2"/>
<rect x="394.15" y="186.82" width="6.42" height="6.42" fill="#0fba0f"/>
<rect x="399.97" y="186.82" width="6.42" height="6.42" fill="#02b602"/>
<rect x="405.78" y="186.82" width="5.82" height="6.42" fill="#67d367"/>
<rect x="376.70" y="192.64" width="6.42" height="6.42" fill="#f2fbf2"/>
<rect x="382.52" y="192.64" width="6.42" height="6.42" fill="#f2fbf2"/>
<rect x="388.33" y="192.64" width="6.42" height="6.42" fill="#ffffff"/>
<rect x="394.15" y="192.64" width="6.42" height="6.42" fill="#67d367"/>
<rect x="399.97" y="192.64" width="6.42" height="6.42" fill="#41c841"/>
<rect x="405.78" y="192.64" width="5.82" height="6.42" fill="#80da80"/>
<rect x="376.70" y="198.46" width="6.42" height="6.42" fill="#b3e9b3"/>
<rect x="382.52" y="198.46" width="6.42" height="6.42" fill="#ccf0cc"/>
<rect x="388.33" y="198.46" width="6.42" height="6.42" fill="#e6f8e6"/>
<rect x="394.15" y="198.46" width="6.42" height="6.42" fill="#02b602"/>
<rect x="399.97" y="198.46" width="6.42" height="6.42" fill="#02b602"/>
<rect x="405.78" y="198.46" width="5.82" height="6.42" fill="#28c128"/>
<rect x="376.70" y="204.28" width="6.42" height="6.42" fill="#74d774"/>
<rect x="382.52" y="204.28" width="6.42" height="6.42" fill="#a6e5a6"/>
<rect x="388.33" y="204.28" width="6.42" height="6.42" fill="#c0edc0"/>
<rect x="394.15" y="204.28" width="6.42" height="6.42" fill="#c0edc0"/>
<rect x="399.97" y="204.28" width="6.42" height="6.42" fill="#67d367"/>
<rect x="405.78" y="204.28" width="5.82" height="6.42" fill="#b3e9b3"/>
<rect x="376.70" y="210.11" width="6.42" height="6.42" fill="#fafefa"/>
<rect x="382.52" y="210.11" width="6.42" height="6.42" fill="#fafefa"/>
<rect x="388.33" y="210.11" width="6.42" height="6.42" fill="#fafefa"/>
<rect x="394.15" y="210.11" width="6.42" height="6.42" fill="#02b602"/>
<rect x="399.97" y="210.11" width="6.42" height="6.42" fill="#02b602"/>
<rect x="405.78" y="210.11" width="5.82" height="6.42" fill="#02b602"/>
<rect x="376.70" y="215.93" width="6.42" height="6.42" fill="#fafefa"/>
<rect x="382.52" y="215.93" width="6.42" height="6.42" fill="#fafefa"/>
<rect x="388.33" y="215.93" width="6.42" height="6.42" fill="#f2fbf2"/>
<rect x="394.15" y="215.93" width="6.42" height="6.42" fill="#80da80"/>
<rect x="399.97" y="215.93" width="6.42" height="6.42" fill="#b3e9b3"/>
<rect x="405.78" y="215.93" width="5.82" height="6.42" fill="#fafefa"/>
<rect x="376.70" y="221.75" width="6.42" height="6.42" fill="#ebf9eb"/>
<rect x="382.52" y="221.75" width="6.42" height="6.42" fill="#e6f8e6"/>
<rect x="388.33" y="221.75" width="6.42" height="6.42" fill="#f2fbf2"/>
<rect x="394.15" y="221.75" width="6.42" height="6.42" fill="#02b602"/>
<rect x="399.97" y="221.75" width="6.42" height="6.42" fill="#02b602"/>
<rect x="405.78" y="221.75" width="5.82" height="6.42" fill="#02b602"/>
<rect x="376.70" y="227.57" width="6.42" height="6.42" fill="#f2fbf2"/>
<rect x="382.52" y="227.57" width="6.42" height="6.42" fill="#ebf9eb"/>
<rect x="388.33" y="227.57" width="6.42" height="6.42" fill="#e6f8e6"/>
<rect x="394.15" y="227.57" width="6.42" height="6.42" fill="#02b602"/>
<rect x="399.97" y="227.57" width="6.42" height="6.42" fill="#02b602"/>
<rect x="405.78" y="227.57" width="5.82" height="6.42" fill="#02b602"/>
<rect x="376.70" y="233.39" width="6.42" height="6.42" fill="#4ecc4e"/>
<rect x="382.52" y="233.39" width="6.42" height="6.42" fill="#74d774"/>
<rect x="388.33" y="233.39" width="6.42" height="6.42" fill="#8dde8d"/>
<rect x="394.15" y="233.39" width="6.42" height="6.42" fill="#02b602"/>
<rect x="399.97" y="233.39" width="6.42" height="6.42" fill="#02b602"/>
<rect x="405.78" y="233.39" width="5.82" height="6.42" fill="#02b602"/>
<rect x="376.70" y="239.21" width="6.42" height="6.42" fill="#d9f4d9"/>
<rect x="382.52" y="239.21" width="6.42" height="6.42" fill="#e6f8e6"/>
<rect x="388.33" y="239.21" width="6.42" height="6.42" fill="#e6f8e6"/>
<rect x="394.15" y="239.21" width="6.42" height="6.42" fill="#67d367"/>
<rect x="399.97" y="239.21" width="6.42" height="6.42" fill="#80da80"/>
<rect x="405.78" y="239.21" width="5.82" height="6.42" fill="#02b602"/>
<rect x="376.70" y="245.03" width="6.42" height="6.42" fill="#e6f8e6"/>
<rect x="382.52" y="245.03" width="6.42" height="6.42" fill="#e6f8e6"/>
<rect x="388.33" y="245.03" width="6.42" height="6.42" fill="#e6f8e6"/>
<rect x="394.15" y="245.03" width="6.42" height="6.42" fill="#02b602"/>
<rect x="399.97" y="245.03" width="6.42" height="6.42" fill="#02b602"/>
<rect x="405.78" y="245.03" width="5.82" height="6.42" fill="#02b602"/>
<rect x="376.70" y="250.85" width="6.42" height="6.42" fill="#35c535"/>
<rect x="382.52" y="250.85" width="6.42" height="6.42" fill="#80da80"/>
<rect x="388.33" y="250.85" width="6.42" height="6.42" fill="#e6f8e6"/>
<rect x="394.15" y="250.85" width="6.42" height="6.42" fill="#02b602"/>
<rect x="399.97" y="250.85" width="6.42" height="6.42" fill="#02b602"/>
<rect x="405.78" y="250.85" width="5.82" height="6.42" fill="#1bbd1b"/>
<rect x="376.70" y="256.67" width="6.42" height="6.42" fill="#e6f8e6"/>
<rect x="382.52" y="256.67" width="6.42" height="6.42" fill="#e6f8e6"/>
<rect x="388.33" y="256.67" width="6.42" height="6.42" fill="#f2fbf2"/>
<rect x="394.15" y="256.67" width="6.42" height="6.42" fill="#02b602"/>
<rect x="399.97" y="256.67" width="6.42" height="6.42" fill="#02b602"/>
<rect x="405.78" y="256.67" width="5.82" height="6.42" fill="#02b602"/>
<rect x="376.70" y="262.49" width="6.42" height="6.42" fill="#b3e9b3"/>
<rect x="382.52" y="262.49" width="6.42" height="6.42" fill="#f2fbf2"/>
<rect x="388.33" y="262.49" width="6.42" height="6.42" fill="#b3e9b3"/>
<rect x="394.15" y="262.49" width="6.42" height="6.42" fill="#02b602"/>
<rect x="399.97" y="262.49" width="6.42" height="6.42" fill="#02b602"/>
<rect x="405.78" y="262.49" width="5.82" height="6.42" fill="#02b602"/>
<rect x="376.70" y="268.32" width="6.42" height="6.42" fill="#f2fbf2"/>
<rect x="382.52" y="268.32" width="6.42" height="6.42" fill="#f2fbf2"/>
<rect x="388.33" y="268.32" width="6.42" height="6.42" fill="#f2fbf2"/>
<rect x="394.15" y="268.32" width="6.42" height="6.42" fill="#1bbd1b"/>
<rect x="399.97" y="268.32" width="6.42" height="6.42" fill="#02b602"/>
<rect x="405.78" y="268.32" width="5.82" height="6.42" fill="#02b602"/>
<rect x="376.70" y="274.14" width="6.42" height="6.42" fill="#f2fbf2"/>
<rect x="382.52" y="274.14" width="6.42" height="6.42" fill="#f2fbf2"/>
<rect x="388.33" y="274.14" width="6.42" height="6.42" fill="#e6f8e6"/>
<rect x="394.15" y="274.14" width="6.42" height="6.42" fill="#67d367"/>
<rect x="399.97" y="274.14" width="6.42" height="6.42" fill="#80da80"/>
<rect x="405.78" y="274.14" width="5.82" height="6.42" fill="#9ae29a"/>
<rect x="376.70" y="279.96" width="6.42" height="6.42" fill="#f2fbf2"/>
<rect x="382.52" y="279.96" width="6.42" height="6.42" fill="#b3e9b3"/>
<rect x="388.33" y="279.96" width="6.42" height="6.42" fill="#67d367"/>
<rect x="394.15" y="279.96" width="6.42" height="6.42" fill="#02b602"/>
<rect x="399.97" y="279.96" width="6.42" height="6.42" fill="#02b602"/>
<rect x="405.78" y="279.96" width="5.82" height="6.42" fill="#02b602"/>
<rect x="376.70" y="285.78" width="6.42" height="5.82" fill="#1bbd1b"/>
<rect x="382.52" y="285.78" width="6.42" height="5.82" fill="#4ecc4e"/>
<rect x="388.33" y="285.78" width="6.42" height="5.82" fill="#9ae29a"/>
<rect x="394.15" y="285.78" width="6.42" height="5.82" fill="#02b602"/>
<rect x="399.97" y="285.78" width="6.42" height="5.82" fill="#02b602"/>
<rect x="405.78" y="285.78" width="5.82" height="5.82" fill="#02b602"/>
<rect x="415.70" y="181.00" width="6.18" height="6.42" fill="#f2fbf2"/>
<rect x="421.28" y="181.00" width="6.18" height="6.42" fill="#f2fbf2"/>
<rect x="426.86" y="181.00" width="6.18" height="6.42" fill="#f2fbf2"/>
<rect x="432.43" y="181.00" width="6.18" height="6.42" fill="#ffffff"/>
<rect x="438.01" y="181.00" width="6.18" height="6.42" fill="#f2fbf2"/>
<rect x="443.59" y="181.00" width="6.18" height="6.42" fill="#e6f8e6"/>
<rect x="449.17" y="181.00" width="6.18" height="6.42" fill="#e6f8e6"/>
<rect x="454.74" y="181.00" width="6.18" height="6.42" fill="#e6f8e6"/>
<rect x="460.32" y="181.00" width="5.58" height="6.42" fill="#d9f4d9"/>
<rect x="415.70" y="186.82" width="6.18" height="6.42" fill="#fafefa"/>
<rect x="421.28" y="186.82" width="6.18" height="6.42" fill="#ffffff"/>
<rect x="426.86" y="186.82" width="6.18" height="6.42" fill="#ffffff"/>
<rect x="432.43" y="186.82" width="6.18" height="6.42" fill="#ffffff"/>
<rect x="438.01" y="186.82" width="6.18" height="6.42" fill="#ccf0cc"/>
<rect x="443.59" y="186.82" width="6.18" height="6.42" fill="#ccf0cc"/>
<rect x="449.17" y="186.82" width="6.18" height="6.42" fill="#d9f4d9"/>
<rect x="454.74" y="186.82" width="6.18" height="6.42" fill="#d9f4d9"/>
<rect x="460.32" y="186.82" width="5.58" height="6.42" fill="#ccf0cc"/>
<rect x="415.70" y="192.64" width="6.18" height="6.42" fill="#f2fbf2"/>
<rect x="421.28" y="192.64" width="6.18" height="6.42" fill="#f2fbf2"/>
<rect x="426.86" y="192.64" width="6.18" height="6.42" fill="#f2fbf2"/>
<rect x="432.43" y="192.64" width="6.18" height="6.42" fill="#ffffff"/>
<rect x="438.01" y="192.64" width="6.18" height="6.42" fill="#80da80"/>
<rect x="443.59" y="192.64" width="6.18" height="6.42" fill="#a6e5a6"/>
<rect x="449.17" y="192.64" width="6.18" height="6.42" fill="#d9f4d9"/>
<rect x="454.74" y="192.64" width="6.18" height="6.42" fill="#e6f8e6"/>
<rect x="460.32" y="192.64" width="5.58" height="6.42" fill="#f2fbf2"/>
<rect x="415.70" y="198.46" width="6.18" height="6.42" fill="#f2fbf2"/>
<rect x="421.28" y="198.46" width="6.18" height="6.42" fill="#fafefa"/>
<rect x="426.86" y="198.46" width="6.18" height="6.42" fill="#f2fbf2"/>
<rect x="432.43" y="198.46" width="6.18" height="6.42" fill="#ffffff"/>
<rect x="438.01" y="198.46" width="6.18" height="6.42" fill="#e6f8e6"/>
<rect x="443.59" y="198.46" width="6.18" height="6.42" fill="#d9f4d9"/>
<rect x="449.17" y="198.46" width="6.18" height="6.42" fill="#d9f4d9"/>
<rect x="454.74" y="198.46" width="6.18" height="6.42" fill="#d9f4d9"/>
<rect x="460.32" y="198.46" width="5.58" height="6.42" fill="#d9f4d9"/>
<rect x="415.70" y="204.28" width="6.18" height="6.42" fill="#d9f4d9"/>
<rect x="421.28" y="204.28" width="6.18" height="6.42" fill="#e6f8e6"/>
<rect x="426.86" y="204.28" width="6.18" height="6.42" fill="#e6f8e6"/>
<rect x="432.43" y="204.28" width="6.18" height="6.42" fill="#ffffff"/>
<rect x="438.01" y="204.28" width="6.18" height="6.42" fill="#e6f8e6"/>
<rect x="443.59" y="204.28" width="6.18" height="6.42" fill="#d9f4d9"/>
<rect x="449.17" y="204.28" width="6.18" height="6.42" fill="#d9f4d9"/>
<rect x="454.74" y="204.28" width="6.18" height="6.42" fill="#ccf0cc"/>
<rect x="460.32" y="204.28" width="5.58" height="6.42" fill="#80da80"/>
<rect x="415.70" y="210.11" width="6.18" height="6.42" fill="#f2fbf2"/>
<rect x="421.28" y="210.11" width="6.18" height="6.42" fill="#f2fbf2"/>
<rect x="426.86" y="210.11" width="6.18" height="6.42" fill="#e6f8e6"/>
<rect x="432.43" y="210.11" width="6.18" height="6.42" fill="#ffffff"/>
<rect x="438.01" y="210.11" width="6.18" height="6.42" fill="#f2fbf2"/>
<rect x="443.59" y="210.11" width="6.18" height="6.42" fill="#e6f8e6"/>
<rect x="449.17" y="210.11" width="6.18" height="6.42" fill="#f2fbf2"/>
<rect x="454.74" y="210.11" width="6.18" height="6.42" fill="#e6f8e6"/>
<rect x="460.32" y="210.11" width="5.58" height="6.42" fill="#d9f4d9"/>
<rect x="415.70" y="215.93" width="6.18" height="6.42" fill="#f2fbf2"/>
<rect x="421.28" y="215.93" width="6.18" height="6.42" fill="#fafefa"/>
<rect x="426.86" y="215.93" width="6.18" height="6.42" fill="#ffffff"/>
<rect x="432.43" y="215.93" width="6.18" height="6.42" fill="#ffffff"/>
<rect x="438.01" y="215.93" width="6.18" height="6.42" fill="#ffffff"/>
<rect x="443.59" y="215.93" width="6.18" height="6.42" fill="#d9f4d9"/>
<rect x="449.17" y="215.93" width="6.18" height="6.42" fill="#c0edc0"/>
<rect x="454.74" y="215.93" width="6.18" height="6.42" fill="#ccf0cc"/>
<rect x="460.32" y="215.93" width="5.58" height="6.42" fill="#b3e9b3"/>
<rect x="415.70" y="221.75" width="6.18" height="6.42" fill="#ebf9eb"/>
<rect x="421.28" y="221.75" width="6.18" height="6.42" fill="#e6f8e6"/>
<rect x="426.86" y="221.75" width="6.18" height="6.42" fill="#e6f8e6"/>
<rect x="432.43" y="221.75" width="6.18" height="6.42" fill="#ffffff"/>
<rect x="438.01" y="221.75" width="6.18" height="6.42" fill="#c0edc0"/>
<rect x="443.59" y="221.75" width="6.18" height="6.42" fill="#ccf0cc"/>
<rect x="449.17" y="221.75" width="6.18" height="6.42" fill="#d9f4d9"/>
<rect x="454.74" y="221.75" width="6.18" height="6.42" fill="#a6e5a6"/>
<rect x="460.32" y="221.75" width="5.58" height="6.42" fill="#ccf0cc"/>
<rect x="415.70" y="227.57" width="6.18" height="6.42" fill="#e6f8e6"/>
<rect x="421.28" y="227.57" width="6.18" height="6.42" fill="#e6f8e6"/>
<rect x="426.86" y="227.57" width="6.18" height="6.42" fill="#d9f4d9"/>
<rect x="432.43" y="227.57" width="6.18" height="6.42" fill="#ffffff"/>
<rect x="438.01" y="227.57" width="6.18" height="6.42" fill="#ccf0cc"/>
<rect x="443.59" y="227.57" width="6.18" height="6.42" fill="#9ae29a"/>
<rect x="449.17" y="227.57" width="6.18" height="6.42" fill="#80da80"/>
<rect x="454.74" y="227.57" width="6.18" height="6.42" fill="#8dde8d"/>
<rect x="460.32" y="227.57" width="5.58" height="6.42" fill="#80da80"/>
<rect x="415.70" y="233.39" width="6.18" height="6.42" fill="#e6f8e6"/>
<rect x="421.28" y="233.39" width="6.18" height="6.42" fill="#e6f8e6"/>
<rect x="426.86" y="233.39" width="6.18" height="6.42" fill="#d9f4d9"/>
<rect x="432.43" y="233.39" width="6.18" height="6.42" fill="#ffffff"/>
<rect x="438.01" y="233.39" width="6.18" height="6.42" fill="#74d774"/>
<rect x="443.59" y="233.39" width="6.18" height="6.42" fill="#ccf0cc"/>
<rect x="449.17" y="233.39" width="6.18" height="6.42" fill="#d9f4d9"/>
<rect x="454.74" y="233.39" width="6.18" height="6.42" fill="#ccf0cc"/>
<rect x="460.32" y="233.39" width="5.58" height="6.42" fill="#d9f4d9"/>
<rect x="415.70" y="239.21" width="6.18" height="6.42" fill="#e6f8e6"/>
<rect x="421.28" y="239.21" width="6.18" height="6.42" fill="#f2fbf2"/>
<rect x="426.86" y="239.21" width="6.18" height="6.42" fill="#f2fbf2"/>
<rect x="432.43" y="239.21" width="6.18" height="6.42" fill="#ffffff"/>
<rect x="438.01" y="239.21" width="6.18" height="6.42" fill="#d9f4d9"/>
<rect x="443.59" y="239.21" width="6.18" height="6.42" fill="#ccf0cc"/>
<rect x="449.17" y="239.21" width="6.18" height="6.42" fill="#9ae29a"/>
<rect x="454.74" y="239.21" width="6.18" height="6.42" fill="#67d367"/>
<rect x="460.32" y="239.21" width="5.58" height="6.42" fill="#67d367"/>
<rect x="415.70" y="245.03" width="6.18" height="6.42" fill="#b3e9b3"/>
<rect x="421.28" y="245.03" width="6.18" height="6.42" fill="#c0edc0"/>
<rect x="426.86" y="245.03" width="6.18" height="6.42" fill="#e6f8e6"/>
<rect x="432.43" y="245.03" width="6.18" height="6.42" fill="#ffffff"/>
<rect x="438.01" y="245.03" width="6.18" height="6.42" fill="#ccf0cc"/>
<rect x="443.59" y="245.03" width="6.18" height="6.42" fill="#c0edc0"/>
<rect x="449.17" y="245.03" width="6.18" height="6.42" fill="#80da80"/>
<rect x="454.74" y="245.03" width="6.18" height="6.42" fill="#74d774"/>
<rect x="460.32" y="245.03" width="5.58" height="6.42" fill="#80da80"/>
<rect x="415.70" y="250.85" width="6.18" height="6.42" fill="#d9f4d9"/>
<rect x="421.28" y="250.85" width="6.18" height="6.42" fill="#d9f4d9"/>
<rect x="426.86" y="250.85" width="6.18" height="6.42" fill="#ccf0cc"/>
<rect x="432.43" y="250.85" width="6.18" height="6.42" fill="#ffffff"/>
<rect x="438.01" y="250.85" width="6.18" height="6.42" fill="#35c535"/>
<rect x="443.59" y="250.85" width="6.18" height="6.42" fill="#67d367"/>
<rect x="449.17" y="250.85" width="6.18" height="6.42" fill="#b3e9b3"/>
<rect x="454.74" y="250.85" width="6.18" height="6.42" fill="#ccf0cc"/>
<rect x="460.32" y="250.85" width="5.58" height="6.42" fill="#e6f8e6"/>
<rect x="415.70" y="256.67" width="6.18" height="6.42" fill="#e6f8e6"/>
<rect x="421.28" y="256.67" width="6.18" height="6.42" fill="#e6f8e6"/>
<rect x="426.86" y="256.67" width="6.18" height="6.42" fill="#e6f8e6"/>
<rect x="432.43" y="256.67" width="6.18" height="6.42" fill="#ffffff"/>
<rect x="438.01" y="256.67" width="6.18" height="6.42" fill="#1bbd1b"/>
<rect x="443.59" y="256.67" width="6.18" height="6.42" fill="#4ecc4e"/>
<rect x="449.17" y="256.67" width="6.18" height="6.42" fill="#80da80"/>
<rect x="454.74" y="256.67" width="6.18" height="6.42" fill="#80da80"/>
<rect x="460.32" y="256.67" width="5.58" height="6.42" fill="#9ae29a"/>
<rect x="415.70" y="262.49" width="6.18" height="6.42" fill="#02b602"/>
<rect x="421.28" y="262.49" width="6.18" height="6.42" fill="#9ae29a"/>
<rect x="426.86" y="262.49" width="6.18" height="6.42" fill="#e6f8e6"/>
<rect x="432.43" y="262.49" width="6.18" height="6.42" fill="#ffffff"/>
<rect x="438.01" y="262.49" width="6.18" height="6.42" fill="#02b602"/>
<rect x="443.59" y="262.49" width="6.18" height="6.42" fill="#02b602"/>
<rect x="449.17" y="262.49" width="6.18" height="6.42" fill="#4ecc4e"/>
<rect x="454.74" y="262.49" width="6.18" height="6.42" fill="#35c535"/>
<rect x="460.32" y="262.49" width="5.58" height="6.42" fill="#80da80"/>
<rect x="415.70" y="268.32" width="6.18" height="6.42" fill="#f2fbf2"/>
<rect x="421.28" y="268.32" width="6.18" height="6.42" fill="#e6f8e6"/>
<rect x="426.86" y="268.32" width="6.18" height="6.42" fill="#e6f8e6"/>
<rect x="432.43" y="268.32" width="6.18" height="6.42" fill="#ffffff"/>
<rect x="438.01" y="268.32" width="6.18" height="6.42" fill="#02b602"/>
<rect x="443.59" y="268.32" width="6.18" height="6.42" fill="#35c535"/>
<rect x="449.17" y="268.32" width="6.18" height="6.42" fill="#1bbd1b"/>
<rect x="454.74" y="268.32" width="6.18" height="6.42" fill="#4ecc4e"/>
<rect x="460.32" y="268.32" width="5.58" height="6.42" fill="#4ecc4e"/>
<rect x="415.70" y="274.14" width="6.18" height="6.42" fill="#e6f8e6"/>
<rect x="421.28" y="274.14" width="6.18" height="6.42" fill="#f2fbf2"/>
<rect x="426.86" y="274.14" width="6.18" height="6.42" fill="#e6f8e6"/>
<rect x="432.43" y="274.14" width="6.18" height="6.42" fill="#ffffff"/>
<rect x="438.01" y="274.14" width="6.18" height="6.42" fill="#02b602"/>
<rect x="443.59" y="274.14" width="6.18" height="6.42" fill="#02b602"/>
<rect x="449.17" y="274.14" width="6.18" height="6.42" fill="#02b602"/>
<rect x="454.74" y="274.14" width="6.18" height="6.42" fill="#02b602"/>
<rect x="460.32" y="274.14" width="5.58" height="6.42" fill="#02b602"/>
<rect x="415.70" y="279.96" width="6.18" height="6.42" fill="#e6f8e6"/>
<rect x="421.28" y="279.96" width="6.18" height="6.42" fill="#ccf0cc"/>
<rect x="426.86" y="279.96" width="6.18" height="6.42" fill="#d9f4d9"/>
<rect x="432.43" y="279.96" width="6.18" height="6.42" fill="#ffffff"/>
<rect x="438.01" y="279.96" width="6.18" height="6.42" fill="#02b602"/>
<rect x="443.59" y="279.96" width="6.18" height="6.42" fill="#35c535"/>
<rect x="449.17" y="279.96" width="6.18" height="6.42" fill="#02b602"/>
<rect x="454.74" y="279.96" width="6.18" height="6.42" fill="#02b602"/>
<rect x="460.32" y="279.96" width="5.58" height="6.42" fill="#02b602"/>
<rect x="415.70" y="285.78" width="6.18" height="5.82" fill="#f2fbf2"/>
<rect x="421.28" y="285.78" width="6.18" height="5.82" fill="#e6f8e6"/>
<rect x="426.86" y="285.78" width="6.18" height="5.82" fill="#f2fbf2"/>
<rect x="432.43" y="285.78" width="6.18" height="5.82" fill="#ffffff"/>
<rect x="438.01" y="285.78" width="6.18" height="5.82" fill="#1bbd1b"/>
<rect x="443.59" y="285.78" width="6.18" height="5.82" fill="#02b602"/>
<rect x="449.17" y="285.78" width="6.18" height="5.82" fill="#02b602"/>
<rect x="454.74" y="285.78" width="6.18" height="5.82" fill="#02b602"/>
<rect x="460.32" y="285.78" width="5.58" height="5.82" fill="#1bbd1b"/>
<rect x="470.20" y="181.00" width="6.32" height="6.42" fill="#f2fbf2"/>
<rect x="475.92" y="181.00" width="6.32" height="6.42" fill="#f2fbf2"/>
<rect x="481.63" y="181.00" width="6.32" height="6.42" fill="#e6f8e6"/>
<rect x="487.35" y="181.00" width="6.32" height="6.42" fill="#9ae29a"/>
<rect x="493.07" y="181.00" width="6.32" height="6.42" fill="#b3e9b3"/>
<rect x="498.78" y="181.00" width="5.72" height="6.42" fill="#ccf0cc"/>
<rect x="470.20" y="186.82" width="6.32" height="6.42" fill="#f2fbf2"/>
<rect x="475.92" y="186.82" width="6.32" height="6.42" fill="#e6f8e6"/>
<rect x="481.63" y="186.82" width="6.32" height="6.42" fill="#f2fbf2"/>
<rect x="487.35" y="186.82" width="6.32" height="6.42" fill="#80da80"/>
<rect x="493.07" y="186.82" width="6.32" height="6.42" fill="#a6e5a6"/>
<rect x="498.78" y="186.82" width="5.72" height="6.42" fill="#c0edc0"/>
<rect x="470.20" y="192.64" width="6.32" height="6.42" fill="#80da80"/>
<rect x="475.92" y="192.64" width="6.32" height="6.42" fill="#ccf0cc"/>
<rect x="481.63" y="192.64" width="6.32" height="6.42" fill="#e6f8e6"/>
<rect x="487.35" y="192.64" width="6.32" height="6.42" fill="#4ecc4e"/>
<rect x="493.07" y="192.64" width="6.32" height="6.42" fill="#80da80"/>
<rect x="498.78" y="192.64" width="5.72" height="6.42" fill="#b3e9b3"/>
<rect x="470.20" y="198.46" width="6.32" height="6.42" fill="#d9f4d9"/>
<rect x="475.92" y="198.46" width="6.32" height="6.42" fill="#e6f8e6"/>
<rect x="481.63" y="198.46" width="6.32" height="6.42" fill="#d9f4d9"/>
<rect x="487.35" y="198.46" width="6.32" height="6.42" fill="#67d367"/>
<rect x="493.07" y="198.46" width="6.32" height="6.42" fill="#1bbd1b"/>
<rect x="498.78" y="198.46" width="5.72" height="6.42" fill="#4ecc4e"/>
<rect x="470.20" y="204.28" width="6.32" height="6.42" fill="#9ae29a"/>
<rect x="475.92" y="204.28" width="6.32" height="6.42" fill="#b3e9b3"/>
<rect x="481.63" y="204.28" width="6.32" height="6.42" fill="#35c535"/>
<rect x="487.35" y="204.28" width="6.32" height="6.42" fill="#02b602"/>
<rect x="493.07" y="204.28" width="6.32" height="6.42" fill="#02b602"/>
<rect x="498.78" y="204.28" width="5.72" height="6.42" fill="#02b602"/>
<rect x="470.20" y="210.11" width="6.32" height="6.42" fill="#f2fbf2"/>
<rect x="475.92" y="210.11" width="6.32" height="6.42" fill="#f2fbf2"/>
<rect x="481.63" y="210.11" width="6.32" height="6.42" fill="#f2fbf2"/>
<rect x="487.35" y="210.11" width="6.32" height="6.42" fill="#02b602"/>
<rect x="493.07" y="210.11" width="6.32" height="6.42" fill="#02b602"/>
<rect x="498.78" y="210.11" width="5.72" height="6.42" fill="#67d367"/>
<rect x="470.20" y="215.93" width="6.32" height="6.42" fill="#fafefa"/>
<rect x="475.92" y="215.93" width="6.32" height="6.42" fill="#fafefa"/>
<rect x="481.63" y="215.93" width="6.32" height="6.42" fill="#f2fbf2"/>
<rect x="487.35" y="215.93" width="6.32" height="6.42" fill="#02b602"/>
<rect x="493.07" y="215.93" width="6.32" height="6.42" fill="#67d367"/>
<rect x="498.78" y="215.93" width="5.72" height="6.42" fill="#b3e9b3"/>
<rect x="470.20" y="221.75" width="6.32" height="6.42" fill="#f2fbf2"/>
<rect x="475.92" y="221.75" width="6.32" height="6.42" fill="#f2fbf2"/>
<rect x="481.63" y="221.75" width="6.32" height="6.42" fill="#e6f8e6"/>
<rect x="487.35" y="221.75" width="6.32" height="6.42" fill="#02b602"/>
<rect x="493.07" y="221.75" width="6.32" height="6.42" fill="#02b602"/>
<rect x="498.78" y="221.75" width="5.72" height="6.42" fill="#02b602"/>
<rect x="470.20" y="227.57" width="6.32" height="6.42" fill="#e6f8e6"/>
<rect x="475.92" y="227.57" width="6.32" height="6.42" fill="#e6f8e6"/>
<rect x="481.63" y="227.57" width="6.32" height="6.42" fill="#d9f4d9"/>
<rect x="487.35" y="227.57" width="6.32" height="6.42" fill="#02b602"/>
<rect x="493.07" y="227.57" width="6.32" height="6.42" fill="#02b602"/>
<rect x="498.78" y="227.57" width="5.72" height="6.42" fill="#02b602"/>
<rect x="470.20" y="233.39" width="6.32" height="6.42" fill="#d9f4d9"/>
<rect x="475.92" y="233.39" width="6.32" height="6.42" fill="#e6f8e6"/>
<rect x="481.63" y="233.39" width="6.32" height="6.42" fill="#d9f4d9"/>
<rect x="487.35" y="233.39" width="6.32" height="6.42" fill="#02b602"/>
<rect x="493.07" y="233.39" width="6.32" height="6.42" fill="#02b602"/>
<rect x="498.78" y="233.39" width="5.72" height="6.42" fill="#1bbd1b"/>
<rect x="470.20" y="239.21" width="6.32" height="6.42" fill="#b3e9b3"/>
<rect x="475.92" y="239.21" width="6.32" height="6.42" fill="#d9f4d9"/>
<rect x="481.63" y="239.21" width="6.32" height="6.42" fill="#ccf0cc"/>
<rect x="487.35" y="239.21" width="6.32" height="6.42" fill="#4ecc4e"/>
<rect x="493.07" y="239.21" width="6.32" height="6.42" fill="#80da80"/>
<rect x="498.78" y="239.21" width="5.72" height="6.42" fill="#9ae29a"/>
<rect x="470.20" y="245.03" width="6.32" height="6.42" fill="#d9f4d9"/>
<rect x="475.92" y="245.03" width="6.32" height="6.42" fill="#e6f8e6"/>
<rect x="481.63" y="245.03" width="6.32" height="6.42" fill="#e6f8e6"/>
<rect x="487.35" y="245.03" width="6.32" height="6.42" fill="#02b602"/>
<rect x="493.07" y="245.03" width="6.32" height="6.42" fill="#02b602"/>
<rect x="498.78" y="245.03" width="5.72" height="6.42" fill="#02b602"/>
<rect x="470.20" y="250.85" width="6.32" height="6.42" fill="#e6f8e6"/>
<rect x="475.92" y="250.85" width="6.32" height="6.42" fill="#f2fbf2"/>
<rect x="481.63" y="250.85" width="6.32" height="6.42" fill="#e6f8e6"/>
<rect x="487.35" y="250.85" width="6.32" height="6.42" fill="#02b602"/>
<rect x="493.07" y="250.85" width="6.32" height="6.42" fill="#02b602"/>
<rect x="498.78" y="250.85" width="5.72" height="6.42" fill="#35c535"/>
<rect x="470.20" y="256.67" width="6.32" height="6.42" fill="#fafefa"/>
<rect x="475.92" y="256.67" width="6.32" height="6.42" fill="#ffffff"/>
<rect x="481.63" y="256.67" width="6.32" height="6.42" fill="#f2fbf2"/>
<rect x="487.35" y="256.67" width="6.32" height="6.42" fill="#02b602"/>
<rect x="493.07" y="256.67" width="6.32" height="6.42" fill="#80da80"/>
<rect x="498.78" y="256.67" width="5.72" height="6.42" fill="#ccf0cc"/>
<rect x="470.20" y="262.49" width="6.32" height="6.42" fill="#e6f8e6"/>
<rect x="475.92" y="262.49" width="6.32" height="6.42" fill="#e6f8e6"/>
<rect x="481.63" y="262.49" width="6.32" height="6.42" fill="#e6f8e6"/>
<rect x="487.35" y="262.49" width="6.32" height="6.42" fill="#02b602"/>
<rect x="493.07" y="262.49" width="6.32" height="6.42" fill="#02b602"/>
<rect x="498.78" y="262.49" width="5.72" height="6.42" fill="#02b602"/>
<rect x="470.20" y="268.32" width="6.32" height="6.42" fill="#ffffff"/>
<rect x="475.92" y="268.32" width="6.32" height="6.42" fill="#ffffff"/>
<rect x="481.63" y="268.32" width="6.32" height="6.42" fill="#ffffff"/>
<rect x="487.35" y="268.32" width="6.32" height="6.42" fill="#f2fbf2"/>
<rect x="493.07" y="268.32" width="6.32" height="6.42" fill="#80da80"/>
<rect x="498.78" y="268.32" width="5.72" height="6.42" fill="#67d367"/>
<rect x="470.20" y="274.14" width="6.32" height="6.42" fill="#e6f8e6"/>
<rect x="475.92" y="274.14" width="6.32" height="6.42" fill="#e6f8e6"/>
<rect x="481.63" y="274.14" width="6.32" height="6.42" fill="#d9f4d9"/>
<rect x="487.35" y="274.14" width="6.32" height="6.42" fill="#4ecc4e"/>
<rect x="493.07" y="274.14" width="6.32" height="6.42" fill="#80da80"/>
<rect x="498.78" y="274.14" width="5.72" height="6.42" fill="#b3e9b3"/>
<rect x="470.20" y="279.96" width="6.32" height="6.42" fill="#e6f8e6"/>
<rect x="475.92" y="279.96" width="6.32" height="6.42" fill="#d9f4d9"/>
<rect x="481.63" y="279.96" width="6.32" height="6.42" fill="#e6f8e6"/>
<rect x="487.35" y="279.96" width="6.32" height="6.42" fill="#1bbd1b"/>
<rect x="493.07" y="279.96" width="6.32" height="6.42" fill="#02b602"/>
<rect x="498.78" y="279.96" width="5.72" height="6.42" fill="#02b602"/>
<rect x="470.20" y="285.78" width="6.32" height="5.82" fill="#ccf0cc"/>
<rect x="475.92" y="285.78" width="6.32" height="5.82" fill="#d9f4d9"/>
<rect x="481.63" y="285.78" width="6.32" height="5.82" fill="#ccf0cc"/>
<rect x="487.35" y="285.78" width="6.32" height="5.82" fill="#02b602"/>
<rect x="493.07" y="285.78" width="6.32" height="5.82" fill="#4ecc4e"/>
<rect x="498.78" y="285.78" width="5.72" height="5.82" fill="#80da80"/>
<rect x="376.70" y="181.00" width="34.90" height="110.60" fill="none" stroke="#000" stroke-width="0.9"/>
<rect x="415.70" y="181.00" width="50.20" height="110.60" fill="none" stroke="#000" stroke-width="0.9"/>
<rect x="470.20" y="181.00" width="34.30" height="110.60" fill="none" stroke="#000" stroke-width="0.9"/>
<line x1="382.52" y1="178.80" x2="382.52" y2="181.00" stroke="#000" stroke-width="0.8"/>
<text x="381.32" y="177.00" font-size="8.8" fill="#000" text-anchor="middle">-2</text>
<line x1="394.15" y1="178.80" x2="394.15" y2="181.00" stroke="#000" stroke-width="0.8"/>
<text x="394.15" y="177.00" font-size="8.8" fill="#000" text-anchor="middle">0</text>
<line x1="405.78" y1="178.80" x2="405.78" y2="181.00" stroke="#000" stroke-width="0.8"/>
<text x="405.78" y="177.00" font-size="8.8" fill="#000" text-anchor="middle">2</text>
<line x1="426.86" y1="178.80" x2="426.86" y2="181.00" stroke="#000" stroke-width="0.8"/>
<text x="425.66" y="177.00" font-size="8.8" fill="#000" text-anchor="middle">-2</text>
<line x1="438.01" y1="178.80" x2="438.01" y2="181.00" stroke="#000" stroke-width="0.8"/>
<text x="438.01" y="177.00" font-size="8.8" fill="#000" text-anchor="middle">0</text>
<line x1="449.17" y1="178.80" x2="449.17" y2="181.00" stroke="#000" stroke-width="0.8"/>
<text x="449.17" y="177.00" font-size="8.8" fill="#000" text-anchor="middle">2</text>
<line x1="460.32" y1="178.80" x2="460.32" y2="181.00" stroke="#000" stroke-width="0.8"/>
<text x="460.32" y="177.00" font-size="8.8" fill="#000" text-anchor="middle">4</text>
<line x1="475.92" y1="178.80" x2="475.92" y2="181.00" stroke="#000" stroke-width="0.8"/>
<text x="474.72" y="177.00" font-size="8.8" fill="#000" text-anchor="middle">-2</text>
<line x1="487.35" y1="178.80" x2="487.35" y2="181.00" stroke="#000" stroke-width="0.8"/>
<text x="487.35" y="177.00" font-size="8.8" fill="#000" text-anchor="middle">0</text>
<line x1="498.78" y1="178.80" x2="498.78" y2="181.00" stroke="#000" stroke-width="0.8"/>
<text x="498.78" y="177.00" font-size="8.8" fill="#000" text-anchor="middle">2</text>
<line x1="375.10" y1="183.91" x2="376.70" y2="183.91" stroke="#000" stroke-width="0.7"/>
<line x1="375.10" y1="189.73" x2="376.70" y2="189.73" stroke="#000" stroke-width="0.7"/>
<line x1="375.10" y1="195.55" x2="376.70" y2="195.55" stroke="#000" stroke-width="0.7"/>
<line x1="375.10" y1="201.37" x2="376.70" y2="201.37" stroke="#000" stroke-width="0.7"/>
<line x1="374.30" y1="207.19" x2="376.70" y2="207.19" stroke="#000" stroke-width="0.7"/>
<line x1="375.10" y1="213.02" x2="376.70" y2="213.02" stroke="#000" stroke-width="0.7"/>
<line x1="375.10" y1="218.84" x2="376.70" y2="218.84" stroke="#000" stroke-width="0.7"/>
<line x1="375.10" y1="224.66" x2="376.70" y2="224.66" stroke="#000" stroke-width="0.7"/>
<line x1="375.10" y1="230.48" x2="376.70" y2="230.48" stroke="#000" stroke-width="0.7"/>
<line x1="374.30" y1="236.30" x2="376.70" y2="236.30" stroke="#000" stroke-width="0.7"/>
<line x1="375.10" y1="242.12" x2="376.70" y2="242.12" stroke="#000" stroke-width="0.7"/>
<line x1="375.10" y1="247.94" x2="376.70" y2="247.94" stroke="#000" stroke-width="0.7"/>
<line x1="375.10" y1="253.76" x2="376.70" y2="253.76" stroke="#000" stroke-width="0.7"/>
<line x1="375.10" y1="259.58" x2="376.70" y2="259.58" stroke="#000" stroke-width="0.7"/>
<line x1="374.30" y1="265.41" x2="376.70" y2="265.41" stroke="#000" stroke-width="0.7"/>
<line x1="375.10" y1="271.23" x2="376.70" y2="271.23" stroke="#000" stroke-width="0.7"/>
<line x1="375.10" y1="277.05" x2="376.70" y2="277.05" stroke="#000" stroke-width="0.7"/>
<line x1="375.10" y1="282.87" x2="376.70" y2="282.87" stroke="#000" stroke-width="0.7"/>
<line x1="375.10" y1="288.69" x2="376.70" y2="288.69" stroke="#000" stroke-width="0.7"/>
<text x="374.20" y="210.09" font-size="8.0" fill="#000" text-anchor="end">5</text>
<text x="374.20" y="239.20" font-size="8.0" fill="#000" text-anchor="end">10</text>
<text x="374.20" y="268.31" font-size="8.0" fill="#000" text-anchor="end">15</text>
<text x="364.30" y="232.60" font-size="12.6" fill="#000" text-anchor="middle" transform="rotate(-90 364.30 232.60)">Neurons</text>
<text x="377.40" y="302.40" font-size="10.2" fill="#19c3e6" text-anchor="start">V.S.</text>
<rect x="394.60" y="292.40" width="11.40" height="4.60" fill="#14c6ec"/>
<text x="418.00" y="302.40" font-size="10.2" fill="#ec1c2e" text-anchor="start">P.S.</text>
<rect x="434.40" y="292.40" width="2.40" height="4.90" fill="#ec1c2e"/>
<text x="470.80" y="302.40" font-size="10.2" fill="#19c3e6" text-anchor="start">V.S.</text>
<rect x="487.70" y="292.40" width="10.80" height="4.60" fill="#14c6ec"/>
<text x="510.50" y="226.20" font-size="8.2" fill="#000" text-anchor="start">ΔF/F<tspan font-size="62%" dy="1.2">0</tspan></text>
<rect x="511.3" y="231.3" width="5.6" height="3.7" fill="#02b602" stroke="#000" stroke-width="0.7"/>
<text x="520.30" y="236.20" font-size="8.8" fill="#000" text-anchor="start">&gt;2</text>
<rect x="511.30" y="241.70" width="5.60" height="5.39" fill="#0fba0f"/>
<rect x="511.30" y="246.59" width="5.60" height="5.39" fill="#28c128"/>
<rect x="511.30" y="251.48" width="5.60" height="5.39" fill="#41c841"/>
<rect x="511.30" y="256.37" width="5.60" height="5.39" fill="#5bd05b"/>
<rect x="511.30" y="261.26" width="5.60" height="5.39" fill="#74d774"/>
<rect x="511.30" y="266.15" width="5.60" height="5.39" fill="#8dde8d"/>
<rect x="511.30" y="271.04" width="5.60" height="5.39" fill="#a6e5a6"/>
<rect x="511.30" y="275.93" width="5.60" height="5.39" fill="#c0edc0"/>
<rect x="511.30" y="280.82" width="5.60" height="5.39" fill="#d9f4d9"/>
<rect x="511.30" y="285.71" width="5.60" height="4.89" fill="#f2fbf2"/>
<rect x="511.3" y="241.7" width="5.6" height="48.9" fill="none" stroke="#000" stroke-width="0.7"/>
<text x="518.30" y="245.60" font-size="8.8" fill="#000" text-anchor="start">2</text>
<text x="518.30" y="292.60" font-size="8.8" fill="#000" text-anchor="start">0</text>
<text x="563.00" y="14.90" font-size="21" fill="#000" text-anchor="start">e</text>
<circle cx="601.20" cy="50.32" r="1.5" fill="#7d7d7d" stroke="none" stroke-width="1"/>
<circle cx="601.20" cy="63.24" r="1.5" fill="#7d7d7d" stroke="none" stroke-width="1"/>
<circle cx="599.20" cy="77.79" r="1.5" fill="#7d7d7d" stroke="none" stroke-width="1"/>
<circle cx="603.20" cy="77.79" r="1.5" fill="#7d7d7d" stroke="none" stroke-width="1"/>
<circle cx="597.70" cy="85.06" r="1.5" fill="#7d7d7d" stroke="none" stroke-width="1"/>
<circle cx="601.70" cy="85.87" r="1.5" fill="#7d7d7d" stroke="none" stroke-width="1"/>
<circle cx="604.70" cy="87.48" r="1.5" fill="#7d7d7d" stroke="none" stroke-width="1"/>
<circle cx="599.70" cy="89.10" r="1.5" fill="#7d7d7d" stroke="none" stroke-width="1"/>
<circle cx="603.70" cy="89.91" r="1.5" fill="#7d7d7d" stroke="none" stroke-width="1"/>
<circle cx="597.20" cy="91.52" r="1.5" fill="#7d7d7d" stroke="none" stroke-width="1"/>
<circle cx="601.70" cy="93.14" r="1.5" fill="#7d7d7d" stroke="none" stroke-width="1"/>
<circle cx="605.20" cy="94.76" r="1.5" fill="#7d7d7d" stroke="none" stroke-width="1"/>
<circle cx="599.20" cy="97.18" r="1.5" fill="#7d7d7d" stroke="none" stroke-width="1"/>
<circle cx="602.70" cy="101.22" r="1.5" fill="#7d7d7d" stroke="none" stroke-width="1"/>
<circle cx="600.20" cy="104.45" r="1.5" fill="#7d7d7d" stroke="none" stroke-width="1"/>
<circle cx="628.80" cy="41.43" r="1.55" fill="#3394c4" stroke="none" stroke-width="1"/>
<circle cx="628.30" cy="45.47" r="1.55" fill="#3394c4" stroke="none" stroke-width="1"/>
<circle cx="629.80" cy="73.75" r="1.55" fill="#3394c4" stroke="none" stroke-width="1"/>
<circle cx="626.30" cy="76.98" r="1.55" fill="#3394c4" stroke="none" stroke-width="1"/>
<circle cx="631.80" cy="78.60" r="1.55" fill="#3394c4" stroke="none" stroke-width="1"/>
<circle cx="628.30" cy="85.06" r="1.55" fill="#3394c4" stroke="none" stroke-width="1"/>
<circle cx="631.30" cy="86.68" r="1.55" fill="#3394c4" stroke="none" stroke-width="1"/>
<circle cx="624.80" cy="91.52" r="1.55" fill="#3394c4" stroke="none" stroke-width="1"/>
<circle cx="627.30" cy="93.14" r="1.55" fill="#3394c4" stroke="none" stroke-width="1"/>
<circle cx="632.80" cy="93.95" r="1.55" fill="#3394c4" stroke="none" stroke-width="1"/>
<circle cx="629.80" cy="94.76" r="1.55" fill="#3394c4" stroke="none" stroke-width="1"/>
<circle cx="625.80" cy="96.37" r="1.55" fill="#3394c4" stroke="none" stroke-width="1"/>
<circle cx="631.30" cy="97.18" r="1.55" fill="#3394c4" stroke="none" stroke-width="1"/>
<circle cx="624.30" cy="98.80" r="1.55" fill="#3394c4" stroke="none" stroke-width="1"/>
<circle cx="628.80" cy="100.41" r="1.55" fill="#3394c4" stroke="none" stroke-width="1"/>
<line x1="582.40" y1="28.00" x2="582.40" y2="109.85" stroke="#000" stroke-width="1.1"/>
<line x1="581.90" y1="109.30" x2="646.60" y2="109.30" stroke="#000" stroke-width="1.1"/>
<line x1="579.90" y1="109.30" x2="582.40" y2="109.30" stroke="#000" stroke-width="1.0"/>
<text x="579.20" y="112.90" font-size="10.6" fill="#000" text-anchor="end">0</text>
<line x1="579.90" y1="93.14" x2="582.40" y2="93.14" stroke="#000" stroke-width="1.0"/>
<text x="579.20" y="96.74" font-size="10.6" fill="#000" text-anchor="end">2</text>
<line x1="579.90" y1="76.98" x2="582.40" y2="76.98" stroke="#000" stroke-width="1.0"/>
<text x="579.20" y="80.58" font-size="10.6" fill="#000" text-anchor="end">4</text>
<line x1="579.90" y1="60.82" x2="582.40" y2="60.82" stroke="#000" stroke-width="1.0"/>
<text x="579.20" y="64.42" font-size="10.6" fill="#000" text-anchor="end">6</text>
<line x1="579.90" y1="44.66" x2="582.40" y2="44.66" stroke="#000" stroke-width="1.0"/>
<text x="579.20" y="48.26" font-size="10.6" fill="#000" text-anchor="end">8</text>
<line x1="579.90" y1="28.50" x2="582.40" y2="28.50" stroke="#000" stroke-width="1.0"/>
<text x="579.20" y="32.10" font-size="10.6" fill="#000" text-anchor="end">10</text>
<line x1="601.20" y1="109.30" x2="601.20" y2="111.80" stroke="#000" stroke-width="1.0"/>
<line x1="628.30" y1="109.30" x2="628.30" y2="111.80" stroke="#000" stroke-width="1.0"/>
<text x="569.80" y="66.00" font-size="12.4" fill="#000" text-anchor="middle" transform="rotate(-90 569.80 66.00)">ΔF/F<tspan font-size="62%" dy="1.2">0</tspan></text>
<text x="615.00" y="32.80" font-size="12.3" fill="#000" text-anchor="middle">n.s.</text>
<text x="584.00" y="123.10" font-size="11.3" fill="#000" text-anchor="start">Before After</text>
<line x1="592.30" y1="85.80" x2="610.50" y2="85.80" stroke="#000" stroke-width="1.2"/>
<line x1="596.30" y1="82.40" x2="606.20" y2="82.40" stroke="#000" stroke-width="1.0"/>
<line x1="596.30" y1="89.30" x2="606.20" y2="89.30" stroke="#000" stroke-width="1.0"/>
<line x1="601.20" y1="82.40" x2="601.20" y2="89.30" stroke="#000" stroke-width="1.0"/>
<line x1="619.40" y1="82.10" x2="637.60" y2="82.10" stroke="#000" stroke-width="1.2"/>
<line x1="623.40" y1="77.70" x2="633.30" y2="77.70" stroke="#000" stroke-width="1.0"/>
<line x1="623.40" y1="86.80" x2="633.30" y2="86.80" stroke="#000" stroke-width="1.0"/>
<line x1="628.30" y1="77.70" x2="628.30" y2="86.80" stroke="#000" stroke-width="1.0"/>
<text x="563.40" y="172.90" font-size="21.2" fill="#000" text-anchor="start">g</text>
<line x1="599.00" y1="195.88" x2="629.30" y2="204.79" stroke="#cbcbcb" stroke-width="0.8"/>
<line x1="599.00" y1="204.79" x2="629.30" y2="195.19" stroke="#cbcbcb" stroke-width="0.8"/>
<line x1="599.00" y1="206.17" x2="629.30" y2="228.12" stroke="#cbcbcb" stroke-width="0.8"/>
<line x1="599.00" y1="215.77" x2="629.30" y2="199.99" stroke="#cbcbcb" stroke-width="0.8"/>
<line x1="599.00" y1="221.94" x2="629.30" y2="210.97" stroke="#cbcbcb" stroke-width="0.8"/>
<line x1="599.00" y1="224.69" x2="629.30" y2="246.64" stroke="#cbcbcb" stroke-width="0.8"/>
<line x1="599.00" y1="226.06" x2="629.30" y2="232.92" stroke="#cbcbcb" stroke-width="0.8"/>
<line x1="599.00" y1="239.09" x2="629.30" y2="216.46" stroke="#cbcbcb" stroke-width="0.8"/>
<line x1="599.00" y1="240.12" x2="629.30" y2="248.01" stroke="#cbcbcb" stroke-width="0.8"/>
<line x1="599.00" y1="241.15" x2="629.30" y2="235.66" stroke="#cbcbcb" stroke-width="0.8"/>
<line x1="599.00" y1="242.18" x2="629.30" y2="249.38" stroke="#cbcbcb" stroke-width="0.8"/>
<line x1="599.00" y1="243.21" x2="629.30" y2="237.04" stroke="#cbcbcb" stroke-width="0.8"/>
<line x1="599.00" y1="244.24" x2="629.30" y2="250.07" stroke="#cbcbcb" stroke-width="0.8"/>
<line x1="599.00" y1="245.27" x2="629.30" y2="241.15" stroke="#cbcbcb" stroke-width="0.8"/>
<line x1="599.00" y1="246.64" x2="629.30" y2="248.70" stroke="#cbcbcb" stroke-width="0.8"/>
<line x1="599.00" y1="248.01" x2="629.30" y2="244.58" stroke="#cbcbcb" stroke-width="0.8"/>
<line x1="599.00" y1="249.38" x2="629.30" y2="247.33" stroke="#cbcbcb" stroke-width="0.8"/>
<circle cx="599.00" cy="195.88" r="1.3" fill="#7d7d7d" stroke="none" stroke-width="1"/>
<circle cx="599.00" cy="204.79" r="1.3" fill="#7d7d7d" stroke="none" stroke-width="1"/>
<circle cx="599.00" cy="206.17" r="1.3" fill="#7d7d7d" stroke="none" stroke-width="1"/>
<circle cx="599.00" cy="215.77" r="1.3" fill="#7d7d7d" stroke="none" stroke-width="1"/>
<circle cx="599.00" cy="221.94" r="1.3" fill="#7d7d7d" stroke="none" stroke-width="1"/>
<circle cx="599.00" cy="224.69" r="1.3" fill="#7d7d7d" stroke="none" stroke-width="1"/>
<circle cx="599.00" cy="226.06" r="1.3" fill="#7d7d7d" stroke="none" stroke-width="1"/>
<circle cx="599.00" cy="239.09" r="1.3" fill="#7d7d7d" stroke="none" stroke-width="1"/>
<circle cx="599.00" cy="240.12" r="1.3" fill="#7d7d7d" stroke="none" stroke-width="1"/>
<circle cx="599.00" cy="241.15" r="1.3" fill="#7d7d7d" stroke="none" stroke-width="1"/>
<circle cx="599.00" cy="242.18" r="1.3" fill="#7d7d7d" stroke="none" stroke-width="1"/>
<circle cx="599.00" cy="243.21" r="1.3" fill="#7d7d7d" stroke="none" stroke-width="1"/>
<circle cx="599.00" cy="244.24" r="1.3" fill="#7d7d7d" stroke="none" stroke-width="1"/>
<circle cx="599.00" cy="245.27" r="1.3" fill="#7d7d7d" stroke="none" stroke-width="1"/>
<circle cx="599.00" cy="246.64" r="1.3" fill="#7d7d7d" stroke="none" stroke-width="1"/>
<circle cx="599.00" cy="248.01" r="1.3" fill="#7d7d7d" stroke="none" stroke-width="1"/>
<circle cx="599.00" cy="249.38" r="1.3" fill="#7d7d7d" stroke="none" stroke-width="1"/>
<circle cx="629.30" cy="204.79" r="1.4" fill="#e6f3fa" stroke="#3394c4" stroke-width="0.9"/>
<circle cx="629.30" cy="195.19" r="1.4" fill="#e6f3fa" stroke="#3394c4" stroke-width="0.9"/>
<circle cx="629.30" cy="228.12" r="1.4" fill="#e6f3fa" stroke="#3394c4" stroke-width="0.9"/>
<circle cx="629.30" cy="199.99" r="1.4" fill="#e6f3fa" stroke="#3394c4" stroke-width="0.9"/>
<circle cx="629.30" cy="210.97" r="1.4" fill="#e6f3fa" stroke="#3394c4" stroke-width="0.9"/>
<circle cx="629.30" cy="246.64" r="1.4" fill="#e6f3fa" stroke="#3394c4" stroke-width="0.9"/>
<circle cx="629.30" cy="232.92" r="1.4" fill="#e6f3fa" stroke="#3394c4" stroke-width="0.9"/>
<circle cx="629.30" cy="216.46" r="1.4" fill="#e6f3fa" stroke="#3394c4" stroke-width="0.9"/>
<circle cx="629.30" cy="248.01" r="1.4" fill="#e6f3fa" stroke="#3394c4" stroke-width="0.9"/>
<circle cx="629.30" cy="235.66" r="1.4" fill="#e6f3fa" stroke="#3394c4" stroke-width="0.9"/>
<circle cx="629.30" cy="249.38" r="1.4" fill="#e6f3fa" stroke="#3394c4" stroke-width="0.9"/>
<circle cx="629.30" cy="237.04" r="1.4" fill="#e6f3fa" stroke="#3394c4" stroke-width="0.9"/>
<circle cx="629.30" cy="250.07" r="1.4" fill="#e6f3fa" stroke="#3394c4" stroke-width="0.9"/>
<circle cx="629.30" cy="241.15" r="1.4" fill="#e6f3fa" stroke="#3394c4" stroke-width="0.9"/>
<circle cx="629.30" cy="248.70" r="1.4" fill="#e6f3fa" stroke="#3394c4" stroke-width="0.9"/>
<circle cx="629.30" cy="244.58" r="1.4" fill="#e6f3fa" stroke="#3394c4" stroke-width="0.9"/>
<circle cx="629.30" cy="247.33" r="1.4" fill="#e6f3fa" stroke="#3394c4" stroke-width="0.9"/>
<line x1="582.40" y1="184.40" x2="582.40" y2="254.05" stroke="#000" stroke-width="1.1"/>
<line x1="581.90" y1="253.50" x2="646.40" y2="253.50" stroke="#000" stroke-width="1.1"/>
<line x1="579.90" y1="253.50" x2="582.40" y2="253.50" stroke="#000" stroke-width="1.0"/>
<text x="579.20" y="257.10" font-size="10.6" fill="#000" text-anchor="end">0</text>
<line x1="579.90" y1="239.78" x2="582.40" y2="239.78" stroke="#000" stroke-width="1.0"/>
<text x="579.20" y="243.38" font-size="10.6" fill="#000" text-anchor="end">2</text>
<line x1="579.90" y1="226.06" x2="582.40" y2="226.06" stroke="#000" stroke-width="1.0"/>
<text x="579.20" y="229.66" font-size="10.6" fill="#000" text-anchor="end">4</text>
<line x1="579.90" y1="212.34" x2="582.40" y2="212.34" stroke="#000" stroke-width="1.0"/>
<text x="579.20" y="215.94" font-size="10.6" fill="#000" text-anchor="end">6</text>
<line x1="579.90" y1="198.62" x2="582.40" y2="198.62" stroke="#000" stroke-width="1.0"/>
<text x="579.20" y="202.22" font-size="10.6" fill="#000" text-anchor="end">8</text>
<line x1="579.90" y1="184.90" x2="582.40" y2="184.90" stroke="#000" stroke-width="1.0"/>
<text x="579.20" y="188.50" font-size="10.6" fill="#000" text-anchor="end">10</text>
<line x1="599.00" y1="253.50" x2="599.00" y2="256.00" stroke="#000" stroke-width="1.0"/>
<line x1="629.30" y1="253.50" x2="629.30" y2="256.00" stroke="#000" stroke-width="1.0"/>
<text x="569.60" y="214.40" font-size="12.4" fill="#000" text-anchor="middle" transform="rotate(-90 569.60 214.40)">ΔF/F<tspan font-size="62%" dy="1.2">0</tspan></text>
<text x="615.40" y="191.80" font-size="12.3" fill="#000" text-anchor="middle">n.s.</text>
<text x="584.20" y="266.40" font-size="11.3" fill="#000" text-anchor="start">Before After</text>
<line x1="587.00" y1="228.30" x2="611.40" y2="228.30" stroke="#000" stroke-width="1.25"/>
<line x1="591.10" y1="224.60" x2="606.20" y2="224.60" stroke="#000" stroke-width="1.1"/>
<line x1="591.10" y1="232.00" x2="606.20" y2="232.00" stroke="#000" stroke-width="1.1"/>
<line x1="618.00" y1="231.80" x2="640.70" y2="231.80" stroke="#000" stroke-width="1.25"/>
<line x1="622.10" y1="227.70" x2="636.20" y2="227.70" stroke="#000" stroke-width="1.1"/>
<line x1="622.10" y1="236.40" x2="636.20" y2="236.40" stroke="#000" stroke-width="1.1"/>
<text x="-1.50" y="329.80" font-size="21" fill="#000" text-anchor="start">h</text>
<text x="21.60" y="330.00" font-size="11" fill="#000" text-anchor="start">Neuron</text>
<text x="21.20" y="342.30" font-size="11" fill="#000" text-anchor="start">1</text>
<text x="21.20" y="389.80" font-size="11" fill="#000" text-anchor="start">2</text>
<text x="21.40" y="427.00" font-size="11" fill="#000" text-anchor="start">3</text>
<path d="M30.00 358.09 L30.60 358.36 L31.20 358.61 L31.80 358.28 L32.10 358.17 L32.40 349.32 L32.60 342.82 L33.00 352.12 L33.60 356.77 L34.20 358.19 L34.80 358.78 L35.40 359.21 L36.00 359.39 L36.60 358.62 L37.20 358.37 L37.80 358.21 L38.40 358.20 L39.00 358.49 L39.60 358.50 L40.20 358.22 L40.80 358.12 L41.40 359.44 L42.00 358.43 L42.60 359.45 L43.20 358.52 L43.80 358.11 L44.40 358.18 L45.00 358.21 L45.60 358.33 L46.20 358.17 L46.80 358.21 L47.40 358.52 L48.00 358.92 L48.60 358.90 L49.20 359.14 L49.80 358.91 L50.40 359.60 L51.00 357.94 L51.60 358.10 L52.20 358.44 L52.80 358.44 L53.40 358.64 L54.00 358.73 L54.60 359.21 L55.20 358.83 L55.80 358.65 L56.40 358.21 L57.00 358.44 L57.60 358.35 L58.20 358.60 L58.80 358.46 L59.40 358.64 L60.00 358.40 L60.60 357.96 L61.20 358.00 L61.80 358.00 L62.40 358.67 L63.00 358.53 L63.60 358.68 L64.20 359.01 L64.80 359.00 L65.40 358.68 L66.00 358.72 L66.60 357.72 L67.20 358.43 L67.80 358.15 L68.40 357.61 L69.00 358.35 L69.60 358.30 L70.20 357.75 L70.80 358.41 L71.40 359.00 L72.00 358.78 L72.60 358.39 L73.20 358.70 L73.80 359.39 L74.40 358.62 L75.00 358.44 L75.60 358.21 L76.20 358.43 L76.80 358.52 L77.40 358.75 L78.00 358.49 L78.60 358.68 L79.20 359.43 L79.80 358.41 L80.40 358.36 L81.00 358.39 L81.60 358.30 L82.20 358.32 L82.80 358.31 L83.40 358.61 L84.00 358.45 L84.60 358.53 L85.20 358.51 L85.80 358.84 L86.40 357.82 L87.00 358.40 L87.60 357.89 L88.20 357.91 L88.80 358.18 L89.40 357.90 L90.00 358.38 L90.60 358.55 L91.20 358.89 L91.80 359.11 L92.40 358.36 L93.00 359.26 L93.60 359.00 L94.20 359.00 L94.80 358.45 L95.40 358.10 L96.00 358.70 L96.60 358.77 L97.20 357.99 L97.80 358.55 L98.40 358.72 L99.00 357.86 L99.60 357.31 L100.20 357.75 L100.80 357.85 L101.40 358.29 L102.00 358.92 L102.10 359.34 L102.60 342.48 L102.80 335.83 L103.10 336.14 L103.20 339.51 L103.80 351.49 L104.40 356.20 L105.00 358.11 L105.60 358.37 L106.20 358.92 L106.80 358.63 L107.40 358.98 L108.00 359.11 L108.60 358.94 L109.20 358.32 L109.80 358.38 L110.40 359.17 L111.00 359.36 L111.60 359.34 L112.20 358.61 L112.80 359.03 L113.40 358.49 L114.00 358.53 L114.60 358.77 L115.20 359.40 L115.80 358.68 L116.40 358.73 L117.00 358.09 L117.60 357.97 L118.20 358.66 L118.80 358.87 L119.40 359.13 L120.00 359.42 L120.60 359.74 L121.20 359.38 L121.80 358.54 L122.40 358.39 L123.00 358.18 L123.60 358.32 L124.20 358.22 L124.80 358.48 L125.40 358.21 L126.00 358.83 L126.60 358.44 L127.20 358.29 L127.80 357.92 L128.40 357.79 L129.00 358.20 L129.60 358.37 L130.20 358.24 L130.80 358.42 L131.30 358.73 L131.40 357.59 L131.80 355.31 L132.00 356.52 L132.60 357.64 L133.20 358.22 L133.40 358.50 L133.80 348.48 L134.30 336.10 L134.40 336.07 L135.00 336.14 L135.60 336.19 L135.80 335.98 L136.20 345.72 L136.80 353.26 L137.40 356.32 L138.00 358.68 L138.60 358.30 L139.20 357.79 L139.80 357.99 L140.40 359.13 L141.00 359.29 L141.60 358.61 L142.20 358.74 L142.80 359.02 L143.40 358.62 L144.00 358.69 L144.60 358.70 L145.20 358.72 L145.80 358.42 L146.40 358.40 L147.00 358.37 L147.60 358.90 L148.20 357.78 L148.80 357.71 L149.40 358.68 L150.00 358.87 L150.60 358.56 L151.20 357.19 L151.80 358.13 L152.40 358.85 L153.00 358.57 L153.60 358.51 L154.20 358.53 L154.80 359.03 L155.40 357.97 L156.00 358.02 L156.60 358.19 L157.20 358.80 L157.80 359.10 L158.40 358.67 L159.00 358.13 L159.60 358.42 L160.20 358.42 L160.80 358.70 L161.40 358.66 L162.00 358.58 L162.60 358.71 L163.20 358.67 L163.80 358.91 L164.40 358.94 L165.00 358.32 L165.60 358.61 L166.20 359.06 L166.80 359.50 L167.40 360.03 L168.00 359.56 L168.60 359.24 L169.20 358.16 L169.80 358.01 L170.40 358.18 L171.00 358.21 L171.60 357.90 L172.20 357.83 L172.80 358.74 L173.40 358.43 L174.00 358.52 L174.60 359.31 L175.20 358.69 L175.80 357.84 L176.40 358.45 L177.00 359.25 L177.60 358.65 L178.20 358.66 L178.80 358.62 L179.40 358.79 L180.00 358.87 L180.60 358.60 L181.20 358.40 L181.80 358.27 L182.40 358.44" fill="none" stroke="#000" stroke-width="1.05" stroke-linejoin="round" stroke-linecap="round"/>
<text x="25.20" y="370.00" font-size="9.9" fill="#ed1c24" text-anchor="start">Photostimulation</text>
<path d="M101.50 361.70 Q102.50 368.72 105.40 373.80 L101.50 371.38 L97.60 373.80 Q100.50 368.72 101.50 361.70 Z" fill="#ed1c24"/>
<text x="160.20" y="350.00" font-size="9.4" fill="#000" text-anchor="start">10 s</text>
<line x1="168.50" y1="341.40" x2="176.90" y2="341.40" stroke="#000" stroke-width="0.9"/>
<line x1="181.80" y1="336.00" x2="181.80" y2="354.60" stroke="#000" stroke-width="0.9"/>
<text x="192.60" y="358.00" font-size="9.4" fill="#000" text-anchor="start" transform="rotate(-90 192.60 358.00)">2 ΔF/F<tspan font-size="62%" dy="1.2">0</tspan></text>
<path d="M30.00 402.78 L30.62 402.50 L31.24 402.86 L31.86 402.61 L32.48 401.52 L33.10 402.24 L33.72 402.00 L34.34 402.72 L34.40 403.28 L34.96 383.49 L35.00 381.92 L35.58 392.53 L36.20 398.08 L36.82 400.63 L37.44 401.01 L38.06 401.69 L38.50 401.69 L38.68 401.32 L39.00 399.49 L39.30 400.52 L39.92 402.29 L40.54 402.73 L41.16 401.99 L41.78 401.99 L42.40 402.64 L43.02 402.40 L43.64 402.15 L44.26 402.79 L44.88 403.05 L45.00 402.63 L45.50 395.97 L46.12 400.01 L46.74 401.43 L47.36 401.71 L47.98 402.52 L48.60 403.25 L49.22 402.29 L49.84 402.10 L50.46 402.68 L51.08 402.62 L51.50 402.94 L51.70 401.70 L52.00 400.60 L52.32 400.79 L52.94 401.96 L53.56 401.86 L54.18 401.22 L54.80 401.44 L55.42 401.69 L56.04 402.52 L56.66 402.41 L57.28 402.01 L57.90 401.79 L58.52 402.22 L59.14 402.63 L59.76 402.02 L60.38 402.33 L61.00 402.47 L61.62 402.33 L62.24 402.22 L62.86 402.19 L63.48 402.03 L64.10 401.82 L64.72 402.07 L65.34 402.13 L65.96 402.10 L66.58 401.68 L66.80 402.49 L67.20 399.66 L67.30 399.60 L67.82 401.85 L68.44 402.93 L69.06 403.87 L69.68 402.72 L70.30 401.76 L70.70 401.72 L70.92 400.30 L71.20 397.93 L71.54 400.31 L72.16 401.54 L72.78 402.13 L73.40 402.85 L74.02 402.77 L74.64 403.43 L74.70 403.40 L75.20 394.30 L75.26 395.07 L75.88 399.97 L76.50 401.96 L77.12 401.81 L77.74 402.28 L78.36 402.50 L78.98 402.42 L79.60 402.28 L80.22 402.26 L80.84 403.04 L81.46 402.72 L82.08 402.74 L82.70 402.84 L83.30 401.90 L83.32 401.77 L83.80 395.85 L83.94 396.59 L84.56 400.06 L85.18 400.91 L85.80 401.75 L86.42 402.59 L87.04 402.38 L87.66 402.15 L88.28 402.28 L88.90 402.88 L89.52 402.11 L90.10 401.73 L90.14 400.99 L90.76 380.58 L90.90 376.28 L91.38 386.23 L92.00 393.74 L92.62 397.71 L93.24 399.60 L93.86 401.06 L94.00 401.30 L94.48 398.83 L94.50 398.58 L95.10 400.78 L95.72 402.35 L96.34 402.91 L96.96 402.66 L97.58 402.05 L98.20 401.93 L98.82 401.59 L99.44 401.81 L100.06 403.01 L100.68 402.24 L100.90 402.95 L101.30 394.63 L101.40 392.77 L101.92 397.53 L102.54 400.41 L103.16 400.72 L103.78 401.69 L104.40 401.95 L105.02 402.59 L105.64 403.18 L106.26 402.52 L106.70 402.68 L106.88 399.61 L107.20 394.47 L107.50 397.29 L108.12 400.17 L108.74 401.75 L109.36 401.98 L109.98 402.71 L110.60 402.52 L111.22 402.57 L111.84 402.27 L112.46 401.92 L113.08 402.20 L113.50 402.86 L113.70 400.33 L114.00 397.33 L114.32 399.02 L114.94 400.75 L115.56 401.47 L116.18 402.64 L116.80 403.05 L117.42 400.93 L118.04 401.17 L118.50 401.92 L118.66 401.12 L119.00 399.64 L119.28 400.37 L119.90 401.94 L120.52 402.23 L121.14 401.63 L121.76 402.23 L122.38 402.35 L123.00 402.94 L123.62 402.48 L124.24 402.88 L124.50 402.12 L124.86 400.06 L125.00 399.34 L125.48 400.66 L126.10 401.62 L126.72 402.50 L127.34 402.96 L127.96 402.75 L128.58 402.50 L129.20 402.68 L129.82 402.38 L130.44 402.42 L131.06 402.79 L131.68 401.50 L132.30 401.74 L132.92 401.91 L133.54 402.31 L134.16 402.55 L134.78 402.92 L135.40 403.60 L136.02 403.14 L136.64 401.83 L137.26 401.74 L137.88 402.59 L138.50 402.38 L139.12 401.73 L139.50 402.04 L139.74 401.21 L140.00 400.70 L140.36 401.20 L140.98 401.78 L141.60 402.54 L142.22 402.59 L142.84 401.40 L143.46 402.28 L144.08 402.47 L144.70 403.17 L145.32 403.06 L145.94 402.23 L146.56 401.94 L147.18 402.41 L147.80 402.94 L148.42 403.04 L149.04 402.47 L149.66 402.59 L150.28 402.87 L150.90 402.80 L151.52 402.30 L152.14 402.22 L152.76 401.69 L153.38 402.17 L154.00 402.18 L154.62 401.95 L155.24 403.42 L155.86 402.75 L156.48 402.63 L157.10 402.81 L157.72 402.86 L158.34 402.44 L158.96 402.10 L159.58 402.62 L160.20 402.78 L160.82 402.89 L161.44 401.93 L162.06 401.83 L162.60 402.21 L162.68 400.18 L163.20 384.97 L163.30 387.48 L163.92 396.14 L164.54 400.22 L165.16 401.61 L165.78 402.76 L166.10 402.40 L166.40 397.27 L166.60 393.64 L167.02 397.52 L167.64 400.60 L168.26 401.32 L168.88 401.95 L169.50 402.27 L170.12 402.60 L170.50 402.36 L170.74 400.06 L171.00 397.30 L171.36 398.91 L171.98 400.64 L172.60 401.42 L173.22 402.41 L173.84 403.11 L174.46 402.94 L174.50 402.24 L175.00 398.43 L175.08 398.44 L175.70 400.60 L176.32 401.50 L176.94 402.33 L177.56 401.91 L178.18 402.82 L178.80 402.97 L179.42 402.26 L180.04 401.87" fill="none" stroke="#000" stroke-width="1.05" stroke-linejoin="round" stroke-linecap="round"/>
<path d="M89.80 406.40 Q90.80 413.42 93.70 418.50 L89.80 416.08 L85.90 418.50 Q88.80 413.42 89.80 406.40 Z" fill="#ed1c24"/>
<text x="141.40" y="400.60" font-size="9.4" fill="#000" text-anchor="start">10 s</text>
<line x1="141.60" y1="391.40" x2="157.40" y2="391.40" stroke="#000" stroke-width="0.9"/>
<path d="M28.60 459.82 L29.20 460.06 L29.80 460.43 L30.40 460.04 L30.70 460.58 L31.00 452.34 L31.20 447.00 L31.60 454.27 L32.20 458.55 L32.80 460.10 L33.10 460.35 L33.40 457.63 L33.50 456.99 L34.00 458.73 L34.60 459.90 L35.20 459.79 L35.80 459.88 L36.40 460.53 L37.00 461.10 L37.60 460.47 L38.20 460.69 L38.80 460.00 L39.40 460.12 L40.00 460.60 L40.60 459.89 L41.20 460.22 L41.80 459.92 L42.40 460.03 L43.00 460.14 L43.60 460.06 L44.20 459.91 L44.80 460.27 L45.40 460.36 L46.00 460.19 L46.60 459.39 L47.20 459.34 L47.80 459.09 L48.40 459.06 L49.00 459.28 L49.20 459.93 L49.60 455.27 L50.20 459.09 L50.80 459.83 L51.40 460.15 L52.00 460.72 L52.60 460.36 L53.20 460.04 L53.80 459.67 L54.40 459.96 L55.00 460.28 L55.60 445.07 L56.20 428.79 L56.80 423.65 L57.40 425.24 L58.00 426.57 L58.60 428.83 L59.20 433.16 L59.80 438.13 L60.40 442.39 L61.00 447.43 L61.60 451.81 L62.20 456.51 L62.80 460.47 L63.40 460.01 L64.00 460.11 L64.60 459.93 L65.20 459.87 L65.80 460.38 L66.40 460.60 L67.00 460.44 L67.60 460.42 L68.20 460.59 L68.80 460.18 L69.40 460.74 L70.00 460.15 L70.60 460.11 L71.20 459.76 L71.80 459.71 L72.40 460.01 L73.00 460.67 L73.60 460.34 L74.20 460.19 L74.80 459.79 L75.40 459.85 L76.00 460.80 L76.40 460.94 L76.60 458.19 L76.80 456.21 L77.20 458.46 L77.80 459.43 L78.40 460.14 L79.00 460.58 L79.60 460.12 L80.20 460.13 L80.80 460.37 L81.40 459.83 L82.00 460.83 L82.60 460.98 L83.20 459.83 L83.80 460.37 L84.40 460.13 L85.00 460.18 L85.60 459.79 L86.20 459.83 L86.80 460.05 L87.40 459.66 L88.00 459.63 L88.60 460.13 L89.20 459.54 L89.80 459.88 L90.40 460.11 L91.00 459.76 L91.60 459.97 L92.20 460.08 L92.80 459.88 L93.40 459.83 L94.00 460.19 L94.20 459.84 L94.60 455.10 L95.20 458.97 L95.80 459.93 L96.40 459.93 L97.00 460.04 L97.60 460.44 L98.20 460.20 L98.80 460.53 L99.40 459.82 L100.00 459.94 L100.60 460.51 L101.20 460.40 L101.70 459.88 L101.80 456.98 L102.40 437.56 L103.00 448.78 L103.60 454.30 L104.20 457.18 L104.80 458.57 L105.40 458.83 L106.00 459.59 L106.60 460.14 L107.00 457.43 L107.20 458.08 L107.80 458.81 L108.40 459.35 L109.00 459.19 L109.60 459.36 L110.20 459.85 L110.80 460.23 L111.40 459.92 L112.00 459.59 L112.40 454.47 L112.60 456.59 L113.20 459.16 L113.80 459.95 L114.40 459.97 L115.00 460.30 L115.60 460.19 L116.20 459.82 L116.80 459.99 L117.40 459.87 L118.00 459.90 L118.60 460.37 L119.20 460.28 L119.80 460.60 L120.40 460.74 L121.00 460.35 L121.60 460.37 L121.80 460.70 L122.20 453.95 L122.80 458.64 L123.40 460.17 L124.00 460.50 L124.60 460.07 L125.20 459.92 L125.80 459.90 L126.40 460.12 L127.00 460.38 L127.60 460.10 L128.20 459.64 L128.80 460.12 L129.40 460.09 L130.00 459.60 L130.60 459.42 L131.00 458.08 L131.20 458.53 L131.80 459.34 L132.40 459.89 L133.00 459.84 L133.60 460.18 L134.20 460.50 L134.80 460.12 L135.40 460.12 L136.00 460.07" fill="none" stroke="#000" stroke-width="1.05" stroke-linejoin="round" stroke-linecap="round"/>
<path d="M55.40 462.20 Q56.40 469.22 59.30 474.30 L55.40 471.88 L51.50 474.30 Q54.40 469.22 55.40 462.20 Z" fill="#ed1c24"/>
<text x="114.40" y="449.80" font-size="9.4" fill="#000" text-anchor="start">10 s</text>
<line x1="121.20" y1="440.60" x2="130.40" y2="440.60" stroke="#000" stroke-width="0.9"/>
<line x1="173.40" y1="421.76" x2="184.30" y2="424.77" stroke="#9a9a9a" stroke-width="0.6"/>
<line x1="173.40" y1="439.05" x2="184.30" y2="441.31" stroke="#9a9a9a" stroke-width="0.6"/>
<line x1="173.40" y1="442.81" x2="184.30" y2="443.56" stroke="#9a9a9a" stroke-width="0.6"/>
<line x1="173.40" y1="446.57" x2="184.30" y2="450.33" stroke="#9a9a9a" stroke-width="0.6"/>
<line x1="173.40" y1="448.07" x2="184.30" y2="443.56" stroke="#9a9a9a" stroke-width="0.6"/>
<line x1="173.40" y1="448.82" x2="184.30" y2="447.32" stroke="#9a9a9a" stroke-width="0.6"/>
<line x1="173.40" y1="458.59" x2="184.30" y2="457.09" stroke="#9a9a9a" stroke-width="0.6"/>
<circle cx="173.40" cy="421.76" r="1.0" fill="#e35a2b" stroke="none" stroke-width="1"/>
<circle cx="173.40" cy="439.05" r="1.0" fill="#e35a2b" stroke="none" stroke-width="1"/>
<circle cx="173.40" cy="442.81" r="1.0" fill="#e35a2b" stroke="none" stroke-width="1"/>
<circle cx="173.40" cy="446.57" r="1.0" fill="#e35a2b" stroke="none" stroke-width="1"/>
<circle cx="173.40" cy="448.07" r="1.0" fill="#e35a2b" stroke="none" stroke-width="1"/>
<circle cx="173.40" cy="448.82" r="1.0" fill="#e35a2b" stroke="none" stroke-width="1"/>
<circle cx="173.40" cy="458.59" r="1.0" fill="#e35a2b" stroke="none" stroke-width="1"/>
<circle cx="184.30" cy="424.77" r="1.0" fill="#cfe6f2" stroke="#3b9ac6" stroke-width="0.7"/>
<circle cx="184.30" cy="441.31" r="1.0" fill="#cfe6f2" stroke="#3b9ac6" stroke-width="0.7"/>
<circle cx="184.30" cy="443.56" r="1.0" fill="#cfe6f2" stroke="#3b9ac6" stroke-width="0.7"/>
<circle cx="184.30" cy="450.33" r="1.0" fill="#cfe6f2" stroke="#3b9ac6" stroke-width="0.7"/>
<circle cx="184.30" cy="443.56" r="1.0" fill="#cfe6f2" stroke="#3b9ac6" stroke-width="0.7"/>
<circle cx="184.30" cy="447.32" r="1.0" fill="#cfe6f2" stroke="#3b9ac6" stroke-width="0.7"/>
<circle cx="184.30" cy="457.09" r="1.0" fill="#cfe6f2" stroke="#3b9ac6" stroke-width="0.7"/>
<line x1="167.00" y1="416.10" x2="167.00" y2="462.00" stroke="#000" stroke-width="0.9"/>
<line x1="166.60" y1="461.60" x2="191.60" y2="461.60" stroke="#000" stroke-width="0.9"/>
<line x1="165.10" y1="461.60" x2="167.00" y2="461.60" stroke="#000" stroke-width="0.9"/>
<text x="164.40" y="464.60" font-size="8.6" fill="#000" text-anchor="end">0</text>
<line x1="165.10" y1="446.57" x2="167.00" y2="446.57" stroke="#000" stroke-width="0.9"/>
<text x="164.40" y="449.57" font-size="8.6" fill="#000" text-anchor="end">0.1</text>
<line x1="165.10" y1="431.53" x2="167.00" y2="431.53" stroke="#000" stroke-width="0.9"/>
<text x="164.40" y="434.53" font-size="8.6" fill="#000" text-anchor="end">0.2</text>
<line x1="165.10" y1="416.50" x2="167.00" y2="416.50" stroke="#000" stroke-width="0.9"/>
<text x="164.40" y="419.50" font-size="8.6" fill="#000" text-anchor="end">0.3</text>
<line x1="173.40" y1="461.60" x2="173.40" y2="463.60" stroke="#000" stroke-width="0.9"/>
<line x1="184.30" y1="461.60" x2="184.30" y2="463.60" stroke="#000" stroke-width="0.9"/>
<text x="147.20" y="443.00" font-size="9.9" fill="#000" text-anchor="middle" transform="rotate(-90 147.20 443.00)">Frequency (Hz)</text>
<text x="180.40" y="419.00" font-size="10.8" fill="#000" text-anchor="middle">n.s.</text>
<text x="177.40" y="465.60" font-size="8.2" fill="#000" text-anchor="end" transform="rotate(-45 177.40 465.60)">Before</text>
<text x="191.20" y="465.60" font-size="8.2" fill="#000" text-anchor="end" transform="rotate(-45 191.20 465.60)">After</text>
<defs><filter id="gn2" x="0" y="0" width="100%" height="100%" color-interpolation-filters="sRGB">
<feTurbulence type="fractalNoise" baseFrequency="0.45" numOctaves="2" seed="3" result="n"/>
<feColorMatrix in="n" type="matrix" values="0 0 0 0 0  0 0 0 0 0  0 0 0 0 0  1.0 0 0 0 -0.4" result="a"/>
<feFlood flood-color="#001800"/><feComposite in2="a" operator="in" result="dark"/>
<feColorMatrix in="n" type="matrix" values="0 0 0 0 0  0 0 0 0 0  0 0 0 0 0  0 1.0 0 0 -0.42" result="b"/>
<feFlood flood-color="#0a6c0e"/><feComposite in2="b" operator="in" result="lite"/>
<feMerge result="m"><feMergeNode in="SourceGraphic"/><feMergeNode in="dark"/><feMergeNode in="lite"/></feMerge><feComposite in="m" in2="SourceGraphic" operator="in"/>
</filter></defs>
<text x="230.40" y="329.90" font-size="21" fill="#000" text-anchor="start">i</text>
<text x="263.00" y="338.60" font-size="11.2" fill="#22b14c" text-anchor="start">Air puff</text>
<text x="305.20" y="338.60" font-size="11.2" fill="#ee1c2e" text-anchor="start">Photostimulation</text>
<text x="397.10" y="338.60" font-size="11.2" fill="#ee1c2e" text-anchor="start">900 nm</text>
<g filter="url(#gn2)"><rect x="232.9" y="336.9" width="26.1" height="43.7" fill="#013602"/></g>
<g filter="url(#bl2)" opacity="0.5"><circle cx="247.7" cy="360.3" r="5.4" fill="#1fc026"/></g>
<g filter="url(#bl)">
<path d="M246.2 357.3 L243.7 352.3 L239.89999999999998 347.90000000000003" stroke="#2fe035" stroke-width="1.2" fill="none" opacity="0.7"/>
<path d="M248.0 357.3 L248.39999999999998 348.90000000000003" stroke="#22b028" stroke-width="0.8" fill="none" opacity="0.8"/>
<path d="M245.5 363.3 L243.1 369.3 L240.39999999999998 375.7" stroke="#2fe035" stroke-width="1.2" fill="none" opacity="0.8"/>
<path d="M250.7 359.3 L256.7 359.1" stroke="#1c9a22" stroke-width="0.7" fill="none" opacity="0.7"/>
<circle cx="258.7" cy="351.90000000000003" r="0.9" fill="#35e03a"/><circle cx="256.7" cy="359.5" r="0.7" fill="#2fd035"/>
<path d="M244.5 355.8 L248.7 356.5 L246.2 361.3 Z" fill="#30ee36"/>
<ellipse cx="247.7" cy="360.3" rx="3.8" ry="4.32" fill="#2cf032"/>
<path d="M244.1 361.3 L244.29999999999998 367.8 L248.7 363.90000000000003 Z" fill="#2be531"/>
<circle cx="248.7" cy="360.90000000000003" r="1.6" fill="#18b81e" opacity="0.75"/>
</g>
<g filter="url(#gn2)"><rect x="232.9" y="386.9" width="26.1" height="43.7" fill="#024204"/></g>
<g filter="url(#bl2)" opacity="0.5"><circle cx="241.7" cy="401.7" r="5.670000000000001" fill="#1fc026"/></g>
<g filter="url(#bl)">
<path d="M245.29999999999998 402.3 L250.29999999999998 403.8 L251.89999999999998 409.7 L252.29999999999998 414.7" stroke="#26c02c" stroke-width="0.9" fill="none" opacity="0.85"/>
<path d="M252.29999999999998 414.7 L251.29999999999998 423.7" stroke="#1a9020" stroke-width="0.8" fill="none" opacity="0.55"/>
<ellipse cx="241.7" cy="401.7" rx="4.2" ry="4.116" fill="#2ff236"/>
<circle cx="242.1" cy="401.8" r="1.7" fill="#18b81e" opacity="0.7"/>
</g>
<text x="257.60" y="347.20" font-size="10.6" fill="#fff" text-anchor="end">#1</text>
<text x="233.80" y="425.30" font-size="10.6" fill="#fff" text-anchor="start">#2</text>
<line x1="249.30" y1="377.40" x2="257.00" y2="377.40" stroke="#fff" stroke-width="1.1"/>
<line x1="249.30" y1="427.60" x2="257.00" y2="427.60" stroke="#fff" stroke-width="1.1"/>
<line x1="270.30" y1="344.10" x2="270.30" y2="380.10" stroke="#22b14c" stroke-width="1.1"/>
<line x1="284.70" y1="344.10" x2="284.70" y2="380.10" stroke="#22b14c" stroke-width="1.1"/>
<line x1="341.50" y1="344.10" x2="341.50" y2="380.10" stroke="#22b14c" stroke-width="1.1"/>
<line x1="404.00" y1="344.10" x2="404.00" y2="380.10" stroke="#22b14c" stroke-width="1.1"/>
<line x1="466.40" y1="344.10" x2="466.40" y2="380.10" stroke="#22b14c" stroke-width="1.1"/>
<line x1="478.90" y1="344.10" x2="478.90" y2="380.10" stroke="#22b14c" stroke-width="1.1"/>
<line x1="538.00" y1="344.10" x2="538.00" y2="380.10" stroke="#22b14c" stroke-width="1.1"/>
<line x1="554.20" y1="344.10" x2="554.20" y2="380.10" stroke="#22b14c" stroke-width="1.1"/>
<line x1="306.20" y1="344.10" x2="306.20" y2="380.10" stroke="#f0606c" stroke-width="0.9"/>
<line x1="363.70" y1="344.10" x2="363.70" y2="380.10" stroke="#f0606c" stroke-width="0.9"/>
<line x1="424.60" y1="344.10" x2="424.60" y2="380.10" stroke="#f0606c" stroke-width="0.9"/>
<line x1="501.40" y1="344.10" x2="501.40" y2="380.10" stroke="#f0606c" stroke-width="0.9"/>
<line x1="267.80" y1="391.90" x2="267.80" y2="426.80" stroke="#22b14c" stroke-width="1.1"/>
<line x1="277.70" y1="391.90" x2="277.70" y2="426.80" stroke="#22b14c" stroke-width="1.1"/>
<line x1="288.30" y1="391.90" x2="288.30" y2="426.80" stroke="#22b14c" stroke-width="1.1"/>
<line x1="351.90" y1="391.90" x2="351.90" y2="426.80" stroke="#22b14c" stroke-width="1.1"/>
<line x1="361.20" y1="391.90" x2="361.20" y2="426.80" stroke="#22b14c" stroke-width="1.1"/>
<line x1="370.90" y1="391.90" x2="370.90" y2="426.80" stroke="#22b14c" stroke-width="1.1"/>
<line x1="440.30" y1="391.90" x2="440.30" y2="426.80" stroke="#22b14c" stroke-width="1.1"/>
<line x1="449.80" y1="391.90" x2="449.80" y2="426.80" stroke="#22b14c" stroke-width="1.1"/>
<line x1="459.60" y1="391.90" x2="459.60" y2="426.80" stroke="#22b14c" stroke-width="1.1"/>
<line x1="531.70" y1="391.90" x2="531.70" y2="426.80" stroke="#22b14c" stroke-width="1.1"/>
<line x1="542.00" y1="391.90" x2="542.00" y2="426.80" stroke="#22b14c" stroke-width="1.1"/>
<line x1="551.40" y1="391.90" x2="551.40" y2="426.80" stroke="#22b14c" stroke-width="1.1"/>
<line x1="298.30" y1="391.90" x2="298.30" y2="426.80" stroke="#f0606c" stroke-width="0.9"/>
<line x1="320.60" y1="391.90" x2="320.60" y2="426.80" stroke="#f0606c" stroke-width="0.9"/>
<line x1="383.50" y1="391.90" x2="383.50" y2="426.80" stroke="#f0606c" stroke-width="0.9"/>
<line x1="474.50" y1="391.90" x2="474.50" y2="426.80" stroke="#f0606c" stroke-width="0.9"/>
<text x="308.00" y="353.20" font-size="11.0" fill="#111" text-anchor="start">1.0 <tspan font-style="italic">P</tspan><tspan font-size="62%" dy="1.5" font-style="italic">0</tspan></text>
<text x="369.10" y="353.20" font-size="11.0" fill="#111" text-anchor="start">1.0 <tspan font-style="italic">P</tspan><tspan font-size="62%" dy="1.5" font-style="italic">0</tspan></text>
<text x="427.70" y="353.20" font-size="11.0" fill="#111" text-anchor="start">1.0 <tspan font-style="italic">P</tspan><tspan font-size="62%" dy="1.5" font-style="italic">0</tspan></text>
<text x="503.90" y="353.20" font-size="11.0" fill="#111" text-anchor="start">1.0 <tspan font-style="italic">P</tspan><tspan font-size="62%" dy="1.5" font-style="italic">0</tspan></text>
<text x="282.90" y="437.70" font-size="11.0" fill="#111" text-anchor="start">0.9 <tspan font-style="italic">P</tspan><tspan font-size="62%" dy="1.5" font-style="italic">0</tspan></text>
<text x="321.70" y="437.70" font-size="11.0" fill="#111" text-anchor="start">1.4 <tspan font-style="italic">P</tspan><tspan font-size="62%" dy="1.5" font-style="italic">0</tspan></text>
<text x="381.70" y="437.70" font-size="11.0" fill="#111" text-anchor="start">1.4 <tspan font-style="italic">P</tspan><tspan font-size="62%" dy="1.5" font-style="italic">0</tspan></text>
<text x="474.40" y="437.70" font-size="11.0" fill="#111" text-anchor="start">1.4 <tspan font-style="italic">P</tspan><tspan font-size="62%" dy="1.5" font-style="italic">0</tspan></text>
<path d="M262.20 374.20 L262.90 374.03 L263.60 374.30 L264.30 374.53 L265.00 373.99 L265.70 374.19 L266.40 373.24 L267.10 373.77 L267.80 373.84 L268.50 373.77 L269.20 373.60 L270.40 368.00 L271.50 363.00 L272.35 364.24 L273.20 365.40 L273.97 367.84 L274.73 369.78 L275.50 371.90 L276.30 372.31 L277.10 373.41 L277.90 373.80 L278.66 373.77 L279.41 373.55 L280.17 373.75 L280.93 373.77 L281.69 373.84 L282.44 373.59 L283.20 373.50 L283.90 369.79 L284.60 366.00 L285.60 361.90 L286.37 363.53 L287.13 365.11 L287.90 366.50 L288.60 367.85 L289.30 369.93 L290.00 370.76 L290.70 372.40 L291.52 372.73 L292.35 373.08 L293.18 373.68 L294.00 374.00 L294.74 374.12 L295.49 374.01 L296.23 373.82 L296.98 374.04 L297.72 374.09 L298.46 373.97 L299.21 374.23 L299.95 374.22 L300.69 374.17 L301.44 374.07 L302.18 374.32 L302.92 373.92 L303.67 374.17 L304.41 374.26 L305.16 374.07 L305.90 374.20 L307.00 366.00 L308.20 358.40 L309.00 358.89 L309.80 359.22 L310.60 359.50 L311.37 363.05 L312.13 366.73 L312.90 370.00 L313.60 370.54 L314.30 371.42 L315.00 372.35 L315.70 372.97 L316.40 373.50 L317.12 373.30 L317.84 373.28 L318.56 373.34 L319.28 373.08 L320.00 373.40 L320.85 372.96 L321.70 372.33 L322.55 371.47 L323.40 371.20 L324.10 371.39 L324.80 371.27 L325.50 371.61 L326.20 371.71 L326.90 371.90 L327.60 372.35 L328.30 372.90 L329.00 372.49 L329.70 372.98 L330.40 373.50 L331.13 373.47 L331.87 373.60 L332.60 373.58 L333.33 373.43 L334.07 373.58 L334.80 373.26 L335.53 373.47 L336.27 373.34 L337.00 373.20 L337.80 371.48 L338.60 370.00 L339.80 373.50 L340.70 373.35 L341.60 373.50 L342.60 364.00 L343.50 356.50 L344.20 357.87 L344.90 358.94 L345.60 360.70 L346.30 362.59 L347.00 363.96 L347.70 366.30 L348.40 367.97 L349.10 370.00 L349.80 370.81 L350.50 371.27 L351.20 371.93 L351.90 372.73 L352.60 373.50 L353.30 373.42 L354.00 373.78 L354.70 373.66 L355.40 373.81 L356.10 373.79 L356.80 373.55 L357.50 373.67 L358.20 374.10 L358.90 373.77 L359.60 373.81 L360.30 373.96 L361.00 373.91 L361.70 374.13 L362.40 374.33 L363.10 374.20 L364.00 358.00 L365.00 346.70 L365.80 349.18 L366.60 351.40 L367.40 355.96 L368.20 360.62 L369.00 365.40 L369.77 367.72 L370.53 369.85 L371.30 372.40 L372.50 366.00 L373.60 361.20 L374.40 364.01 L375.20 367.39 L376.00 370.00 L376.77 371.31 L377.53 372.35 L378.30 373.50 L379.04 373.37 L379.79 373.72 L380.53 373.46 L381.28 373.97 L382.02 373.60 L382.77 373.55 L383.51 373.13 L384.26 373.47 L385.00 373.40 L385.71 373.25 L386.43 373.22 L387.14 372.96 L387.86 372.51 L388.57 372.34 L389.29 372.37 L390.00 372.40 L390.80 371.04 L391.60 370.00 L392.55 371.32 L393.50 372.40 L394.33 372.01 L395.17 371.80 L396.00 371.50 L396.75 370.23 L397.50 368.90 L398.40 370.34 L399.30 371.90 L400.10 372.35 L400.90 372.28 L401.70 372.10 L402.50 372.33 L403.30 372.40 L404.30 365.00 L405.20 359.50 L405.97 360.76 L406.73 361.76 L407.50 363.00 L408.20 364.61 L408.90 366.29 L409.60 368.05 L410.30 369.72 L411.00 371.20 L411.75 371.57 L412.50 371.91 L413.25 372.42 L414.00 372.80 L414.80 372.50 L415.60 372.50 L416.40 372.27 L417.20 372.62 L418.00 372.60 L419.00 372.05 L420.00 371.50 L421.20 366.80 L422.05 369.84 L422.90 372.20 L423.70 372.33 L424.50 372.31 L425.30 372.29 L426.10 372.20 L427.50 364.00 L428.60 359.80 L429.50 357.78 L430.40 356.10 L431.35 357.11 L432.30 358.60 L433.13 362.31 L433.97 365.77 L434.80 369.70 L435.54 370.02 L436.28 371.04 L437.02 371.34 L437.76 371.72 L438.50 372.20 L439.25 372.45 L440.00 372.45 L440.75 372.72 L441.50 372.52 L442.25 372.68 L443.00 372.79 L443.75 372.78 L444.50 373.35 L445.25 373.51 L446.00 373.50 L446.90 369.00 L447.70 365.30 L448.70 368.80 L449.70 372.20 L450.44 372.64 L451.18 372.71 L451.92 373.23 L452.66 373.59 L453.40 374.20 L454.13 374.13 L454.86 374.43 L455.59 373.90 L456.32 374.06 L457.05 374.22 L457.78 374.35 L458.51 374.15 L459.24 374.31 L459.96 374.17 L460.69 373.99 L461.42 374.55 L462.15 374.36 L462.88 373.87 L463.61 374.15 L464.34 374.19 L465.07 374.02 L465.80 374.20 L467.20 369.00 L468.30 366.00 L469.13 365.34 L469.97 365.07 L470.80 364.30 L471.65 368.55 L472.50 372.20 L473.25 372.30 L474.00 372.86 L474.75 372.79 L475.50 372.92 L476.25 373.24 L477.00 373.50 L478.00 373.23 L479.00 373.40 L479.60 360.00 L480.20 351.10 L481.10 350.43 L482.00 349.90 L482.83 351.99 L483.67 353.69 L484.50 356.10 L485.45 359.31 L486.40 362.30 L487.40 356.00 L488.20 351.90 L489.05 353.32 L489.90 354.90 L490.90 361.06 L491.90 367.30 L492.73 368.88 L493.57 370.52 L494.40 372.20 L495.17 372.60 L495.95 372.88 L496.73 372.69 L497.50 372.72 L498.27 372.98 L499.05 372.91 L499.83 373.48 L500.60 373.50 L501.55 372.08 L502.50 370.00 L503.80 366.00 L504.70 363.12 L505.60 359.80 L506.40 361.75 L507.20 363.75 L508.00 366.00 L508.90 363.59 L509.80 361.00 L510.80 365.59 L511.80 369.70 L512.54 370.21 L513.28 370.77 L514.02 371.30 L514.76 371.57 L515.50 372.20 L516.32 372.23 L517.13 371.99 L517.95 372.04 L518.77 372.13 L519.58 372.33 L520.40 372.20 L521.30 365.12 L522.20 358.60 L522.95 355.32 L523.70 352.40 L524.55 355.00 L525.40 357.30 L526.30 361.59 L527.20 366.00 L528.60 354.90 L529.50 353.79 L530.40 351.90 L531.25 355.61 L532.10 359.80 L532.85 366.06 L533.60 372.20 L534.35 372.13 L535.10 372.16 L535.85 372.04 L536.60 372.20 L537.80 371.00 L539.00 364.80 L540.00 363.17 L541.00 361.00 L541.90 364.04 L542.80 367.30 L543.63 368.86 L544.47 370.75 L545.30 372.20 L546.04 372.71 L546.78 372.74 L547.52 372.45 L548.26 373.10 L549.00 373.40 L549.74 373.22 L550.48 373.67 L551.22 373.63 L551.96 374.20 L552.70 374.20 L553.45 372.04 L554.20 370.00 L555.20 349.90 L556.05 349.62 L556.90 349.40 L557.90 357.30 L558.90 366.80" fill="none" stroke="#000" stroke-width="1.5" stroke-linejoin="round" stroke-linecap="round"/>
<path d="M263.10 423.30 L263.94 423.54 L264.78 423.42 L265.62 423.48 L266.46 423.29 L267.30 423.30 L267.80 410.00 L268.30 397.60 L269.20 401.16 L270.10 405.10 L270.90 410.11 L271.70 415.21 L272.50 420.30 L273.25 420.57 L274.00 421.01 L274.75 421.71 L275.50 422.60 L276.30 422.55 L277.10 422.42 L277.90 422.60 L278.20 408.00 L278.60 396.90 L279.37 398.63 L280.13 400.96 L280.90 402.70 L281.67 406.55 L282.43 410.37 L283.20 414.40 L284.00 416.98 L284.80 419.20 L285.60 421.90 L286.40 421.91 L287.20 421.90 L287.80 408.00 L288.40 396.20 L289.17 399.08 L289.93 402.12 L290.70 405.10 L291.47 409.03 L292.23 412.77 L293.00 416.80 L293.70 418.18 L294.40 419.32 L295.10 420.82 L295.80 422.17 L296.50 423.30 L297.35 423.87 L298.20 424.90 L298.95 423.61 L299.70 422.79 L300.45 421.64 L301.20 420.30 L302.40 422.60 L303.17 421.87 L303.93 420.48 L304.70 419.10 L305.65 416.60 L306.60 414.40 L307.50 422.60 L308.27 422.58 L309.05 422.41 L309.83 421.71 L310.60 421.40 L311.30 421.85 L312.00 421.99 L312.70 422.64 L313.40 422.99 L314.10 423.30 L314.83 423.12 L315.55 423.33 L316.27 423.12 L317.00 423.24 L317.73 422.94 L318.45 422.37 L319.17 422.72 L319.90 422.60 L320.60 423.30 L321.40 414.33 L322.20 405.10 L323.15 400.34 L324.10 395.70 L324.90 396.00 L325.70 396.20 L326.65 400.42 L327.60 405.10 L328.53 407.91 L329.47 410.54 L330.40 413.30 L331.17 413.93 L331.93 415.78 L332.70 416.80 L333.42 416.72 L334.14 416.38 L334.86 416.01 L335.58 416.02 L336.30 415.60 L337.07 416.90 L337.83 417.93 L338.60 419.10 L339.37 418.40 L340.13 417.43 L340.90 416.80 L341.70 417.81 L342.50 418.59 L343.30 419.60 L344.07 419.14 L344.83 418.08 L345.60 416.80 L346.80 408.60 L347.90 407.40 L348.75 412.39 L349.60 416.80 L351.00 415.60 L352.10 394.60 L352.95 397.52 L353.80 400.40 L354.70 407.48 L355.60 414.40 L356.40 416.62 L357.20 418.22 L358.00 420.30 L358.70 419.68 L359.40 418.40 L360.10 417.38 L360.80 416.80 L362.00 402.70 L362.80 404.17 L363.60 405.10 L365.00 416.80 L365.70 418.21 L366.40 419.12 L367.10 420.52 L367.80 421.40 L368.55 421.53 L369.30 421.08 L370.05 421.17 L370.80 421.40 L372.00 398.10 L372.80 407.41 L373.60 416.80 L374.40 418.97 L375.20 421.01 L376.00 422.60 L376.70 422.44 L377.40 422.65 L378.10 423.26 L378.80 423.01 L379.50 423.13 L380.20 423.54 L380.90 423.52 L381.60 423.70 L382.30 423.87 L383.00 423.80 L383.77 420.83 L384.53 418.45 L385.30 415.60 L386.10 416.58 L386.90 416.82 L387.70 417.90 L388.47 417.33 L389.23 416.46 L390.00 415.60 L390.70 415.20 L391.40 415.23 L392.10 414.94 L392.80 414.47 L393.50 414.40 L394.27 415.49 L395.03 417.06 L395.80 417.90 L396.60 416.44 L397.40 414.70 L398.20 413.30 L398.97 414.35 L399.73 415.82 L400.50 416.80 L401.27 414.87 L402.03 412.80 L402.80 410.90 L403.75 413.21 L404.70 415.60 L405.50 411.55 L406.30 407.40 L407.10 409.77 L407.90 412.34 L408.70 414.40 L409.47 410.55 L410.23 406.54 L411.00 402.70 L411.77 400.49 L412.53 398.76 L413.30 396.90 L414.02 396.17 L414.75 395.46 L415.48 394.23 L416.20 393.30 L417.03 394.01 L417.87 394.94 L418.70 395.80 L419.53 396.32 L420.37 396.71 L421.20 397.00 L422.03 399.67 L422.87 403.01 L423.70 405.70 L424.55 410.36 L425.40 414.40 L426.20 415.48 L427.00 416.26 L427.80 417.29 L428.60 418.10 L429.43 416.39 L430.27 414.75 L431.10 413.20 L431.95 415.95 L432.80 418.10 L433.80 416.23 L434.80 414.40 L435.80 416.62 L436.80 418.90 L437.63 418.38 L438.47 418.65 L439.30 418.10 L440.30 417.00 L441.00 394.60 L441.90 401.78 L442.80 409.50 L443.75 414.94 L444.70 420.60 L445.46 420.57 L446.22 420.27 L446.98 420.04 L447.74 420.61 L448.50 420.60 L449.70 420.00 L450.50 395.80 L451.35 404.16 L452.20 411.90 L453.20 416.54 L454.20 420.60 L455.04 420.84 L455.88 420.35 L456.72 420.54 L457.56 420.39 L458.40 420.60 L459.60 420.00 L460.40 397.00 L461.60 416.90 L462.50 419.28 L463.40 421.90 L464.11 421.84 L464.81 421.84 L465.52 422.05 L466.23 422.63 L466.94 422.56 L467.64 422.65 L468.35 422.42 L469.06 422.63 L469.76 422.63 L470.47 422.99 L471.18 423.03 L471.89 423.14 L472.59 423.32 L473.30 423.10 L474.50 422.50 L475.80 400.80 L476.63 399.87 L477.47 398.88 L478.30 398.30 L479.10 398.78 L479.90 399.09 L480.70 400.00 L481.53 401.13 L482.37 402.13 L483.20 403.30 L484.03 403.47 L484.87 404.10 L485.70 404.50 L486.53 405.71 L487.37 407.60 L488.20 409.00 L489.03 409.62 L489.87 410.00 L490.70 410.70 L491.50 410.41 L492.30 409.82 L493.10 409.50 L493.93 409.46 L494.77 409.70 L495.60 410.00 L496.43 408.71 L497.27 408.24 L498.10 407.00 L498.93 407.76 L499.77 408.61 L500.60 409.50 L501.43 410.46 L502.27 410.13 L503.10 410.70 L503.84 410.99 L504.58 410.71 L505.32 410.90 L506.06 410.42 L506.80 410.70 L507.63 410.92 L508.47 412.32 L509.30 412.40 L510.13 412.06 L510.97 411.74 L511.80 411.90 L512.60 412.55 L513.40 413.23 L514.20 413.90 L515.03 415.06 L515.87 416.69 L516.70 418.10 L517.46 418.26 L518.22 418.65 L518.98 419.23 L519.74 419.84 L520.50 419.90 L521.24 420.56 L521.98 420.27 L522.72 420.75 L523.46 421.05 L524.20 421.40 L524.98 421.31 L525.75 421.75 L526.52 421.75 L527.30 421.65 L528.08 421.84 L528.85 421.58 L529.62 421.84 L530.40 421.90 L531.60 421.00 L532.40 398.30 L533.25 401.61 L534.10 404.50 L535.10 411.85 L536.10 419.40 L536.95 420.97 L537.80 421.90 L538.62 421.76 L539.45 421.76 L540.27 421.68 L541.10 421.90 L542.00 420.00 L542.80 404.50 L543.65 407.23 L544.50 409.50 L545.25 415.38 L546.00 420.60 L546.75 421.14 L547.50 421.55 L548.25 421.98 L549.00 421.90 L549.83 421.53 L550.67 421.54 L551.50 421.00 L552.20 399.00 L553.50 419.40 L554.35 420.14 L555.20 421.40 L556.40 419.40" fill="none" stroke="#000" stroke-width="1.55" stroke-linejoin="round" stroke-linecap="round"/>
<line x1="566.80" y1="371.10" x2="566.80" y2="380.50" stroke="#000" stroke-width="0.9"/>
<line x1="556.00" y1="380.10" x2="567.20" y2="380.10" stroke="#000" stroke-width="0.9"/>
<text x="548.60" y="390.80" font-size="10.8" fill="#000" text-anchor="start">10 s</text>
<text x="578.20" y="386.00" font-size="11.7" fill="#000" text-anchor="start" transform="rotate(-90 578.20 386.00)">2 ΔF/F<tspan font-size="62%" dy="1.2">0</tspan></text>
<line x1="566.80" y1="419.60" x2="566.80" y2="427.90" stroke="#000" stroke-width="0.9"/>
<line x1="547.00" y1="427.50" x2="567.20" y2="427.50" stroke="#000" stroke-width="0.9"/>
<text x="545.20" y="438.60" font-size="10.8" fill="#000" text-anchor="start">40 s</text>
<text x="578.20" y="437.30" font-size="11.7" fill="#000" text-anchor="start" transform="rotate(-90 578.20 437.30)">2 ΔF/F<tspan font-size="62%" dy="1.2">0</tspan></text>
<line x1="634.30" y1="356.28" x2="664.60" y2="345.72" stroke="#cfcfcf" stroke-width="0.8"/>
<line x1="634.30" y1="375.64" x2="664.60" y2="384.44" stroke="#cfcfcf" stroke-width="0.8"/>
<line x1="634.30" y1="377.40" x2="664.60" y2="373.29" stroke="#cfcfcf" stroke-width="0.8"/>
<line x1="634.30" y1="379.16" x2="664.60" y2="386.20" stroke="#cfcfcf" stroke-width="0.8"/>
<line x1="634.30" y1="381.51" x2="664.60" y2="381.51" stroke="#cfcfcf" stroke-width="0.8"/>
<line x1="634.30" y1="383.27" x2="664.60" y2="388.55" stroke="#cfcfcf" stroke-width="0.8"/>
<line x1="634.30" y1="386.20" x2="664.60" y2="390.89" stroke="#cfcfcf" stroke-width="0.8"/>
<line x1="634.30" y1="389.13" x2="664.60" y2="392.07" stroke="#cfcfcf" stroke-width="0.8"/>
<line x1="634.30" y1="392.65" x2="664.60" y2="392.07" stroke="#cfcfcf" stroke-width="0.8"/>
<line x1="634.30" y1="402.63" x2="664.60" y2="402.04" stroke="#cfcfcf" stroke-width="0.8"/>
<line x1="634.30" y1="404.39" x2="664.60" y2="402.04" stroke="#cfcfcf" stroke-width="0.8"/>
<line x1="634.30" y1="406.15" x2="664.60" y2="412.60" stroke="#cfcfcf" stroke-width="0.8"/>
<circle cx="634.30" cy="356.28" r="1.45" fill="#808080" stroke="none" stroke-width="1"/>
<circle cx="634.30" cy="375.64" r="1.45" fill="#808080" stroke="none" stroke-width="1"/>
<circle cx="634.30" cy="377.40" r="1.45" fill="#808080" stroke="none" stroke-width="1"/>
<circle cx="634.30" cy="379.16" r="1.45" fill="#808080" stroke="none" stroke-width="1"/>
<circle cx="634.30" cy="381.51" r="1.45" fill="#808080" stroke="none" stroke-width="1"/>
<circle cx="634.30" cy="383.27" r="1.45" fill="#808080" stroke="none" stroke-width="1"/>
<circle cx="634.30" cy="386.20" r="1.45" fill="#808080" stroke="none" stroke-width="1"/>
<circle cx="634.30" cy="389.13" r="1.45" fill="#808080" stroke="none" stroke-width="1"/>
<circle cx="634.30" cy="392.65" r="1.45" fill="#808080" stroke="none" stroke-width="1"/>
<circle cx="634.30" cy="402.63" r="1.45" fill="#808080" stroke="none" stroke-width="1"/>
<circle cx="634.30" cy="404.39" r="1.45" fill="#808080" stroke="none" stroke-width="1"/>
<circle cx="634.30" cy="406.15" r="1.45" fill="#808080" stroke="none" stroke-width="1"/>
<circle cx="664.60" cy="345.72" r="1.55" fill="#eef7fb" stroke="#3b9ac6" stroke-width="1.1"/>
<circle cx="664.60" cy="384.44" r="1.55" fill="#eef7fb" stroke="#3b9ac6" stroke-width="1.1"/>
<circle cx="664.60" cy="373.29" r="1.55" fill="#eef7fb" stroke="#3b9ac6" stroke-width="1.1"/>
<circle cx="664.60" cy="386.20" r="1.55" fill="#eef7fb" stroke="#3b9ac6" stroke-width="1.1"/>
<circle cx="664.60" cy="381.51" r="1.55" fill="#eef7fb" stroke="#3b9ac6" stroke-width="1.1"/>
<circle cx="664.60" cy="388.55" r="1.55" fill="#eef7fb" stroke="#3b9ac6" stroke-width="1.1"/>
<circle cx="664.60" cy="390.89" r="1.55" fill="#eef7fb" stroke="#3b9ac6" stroke-width="1.1"/>
<circle cx="664.60" cy="392.07" r="1.55" fill="#eef7fb" stroke="#3b9ac6" stroke-width="1.1"/>
<circle cx="664.60" cy="392.07" r="1.55" fill="#eef7fb" stroke="#3b9ac6" stroke-width="1.1"/>
<circle cx="664.60" cy="402.04" r="1.55" fill="#eef7fb" stroke="#3b9ac6" stroke-width="1.1"/>
<circle cx="664.60" cy="402.04" r="1.55" fill="#eef7fb" stroke="#3b9ac6" stroke-width="1.1"/>
<circle cx="664.60" cy="412.60" r="1.55" fill="#eef7fb" stroke="#3b9ac6" stroke-width="1.1"/>
<line x1="615.30" y1="332.90" x2="615.30" y2="421.95" stroke="#000" stroke-width="1.1"/>
<line x1="614.80" y1="421.40" x2="683.60" y2="421.40" stroke="#000" stroke-width="1.1"/>
<line x1="612.70" y1="421.40" x2="615.30" y2="421.40" stroke="#000" stroke-width="0.9"/>
<text x="612.10" y="425.30" font-size="11.2" fill="#000" text-anchor="end">0</text>
<line x1="612.70" y1="392.07" x2="615.30" y2="392.07" stroke="#000" stroke-width="0.9"/>
<text x="612.10" y="395.97" font-size="11.2" fill="#000" text-anchor="end">5</text>
<line x1="612.70" y1="362.73" x2="615.30" y2="362.73" stroke="#000" stroke-width="0.9"/>
<text x="612.10" y="366.63" font-size="11.2" fill="#000" text-anchor="end">10</text>
<line x1="612.70" y1="333.40" x2="615.30" y2="333.40" stroke="#000" stroke-width="0.9"/>
<text x="612.10" y="337.30" font-size="11.2" fill="#000" text-anchor="end">15</text>
<line x1="634.30" y1="421.40" x2="634.30" y2="423.90" stroke="#000" stroke-width="0.9"/>
<line x1="664.60" y1="421.40" x2="664.60" y2="423.90" stroke="#000" stroke-width="0.9"/>
<text x="597.60" y="382.80" font-size="12.6" fill="#000" text-anchor="middle" transform="rotate(-90 597.60 382.80)">ΔF/F<tspan font-size="62%" dy="1.2">0</tspan></text>
<text x="613.20" y="435.00" font-size="11.2" fill="#000" text-anchor="start">Before</text>
<text x="655.20" y="435.00" font-size="11.2" fill="#000" text-anchor="start">After</text>
<text x="650.00" y="334.60" font-size="12.2" fill="#000" text-anchor="middle">n.s.</text>
<path d="M634.30 340.50 L634.30 336.90 L664.90 336.90 L664.90 340.50" fill="none" stroke="#000" stroke-width="0.8" stroke-linejoin="round" stroke-linecap="round"/>
<line x1="624.30" y1="385.30" x2="644.00" y2="385.30" stroke="#000" stroke-width="1.2"/>
<line x1="629.70" y1="380.90" x2="639.40" y2="380.90" stroke="#000" stroke-width="1.1"/>
<line x1="629.70" y1="389.80" x2="639.40" y2="389.80" stroke="#000" stroke-width="1.1"/>
<line x1="634.30" y1="380.90" x2="634.30" y2="389.80" stroke="#000" stroke-width="1.0"/>
<line x1="654.10" y1="386.50" x2="674.60" y2="386.50" stroke="#000" stroke-width="1.2"/>
<line x1="659.50" y1="381.30" x2="669.90" y2="381.30" stroke="#000" stroke-width="1.1"/>
<line x1="659.50" y1="391.90" x2="669.90" y2="391.90" stroke="#000" stroke-width="1.1"/>
<line x1="664.60" y1="381.30" x2="664.60" y2="391.90" stroke="#000" stroke-width="1.0"/>
</svg>
</body></html>
